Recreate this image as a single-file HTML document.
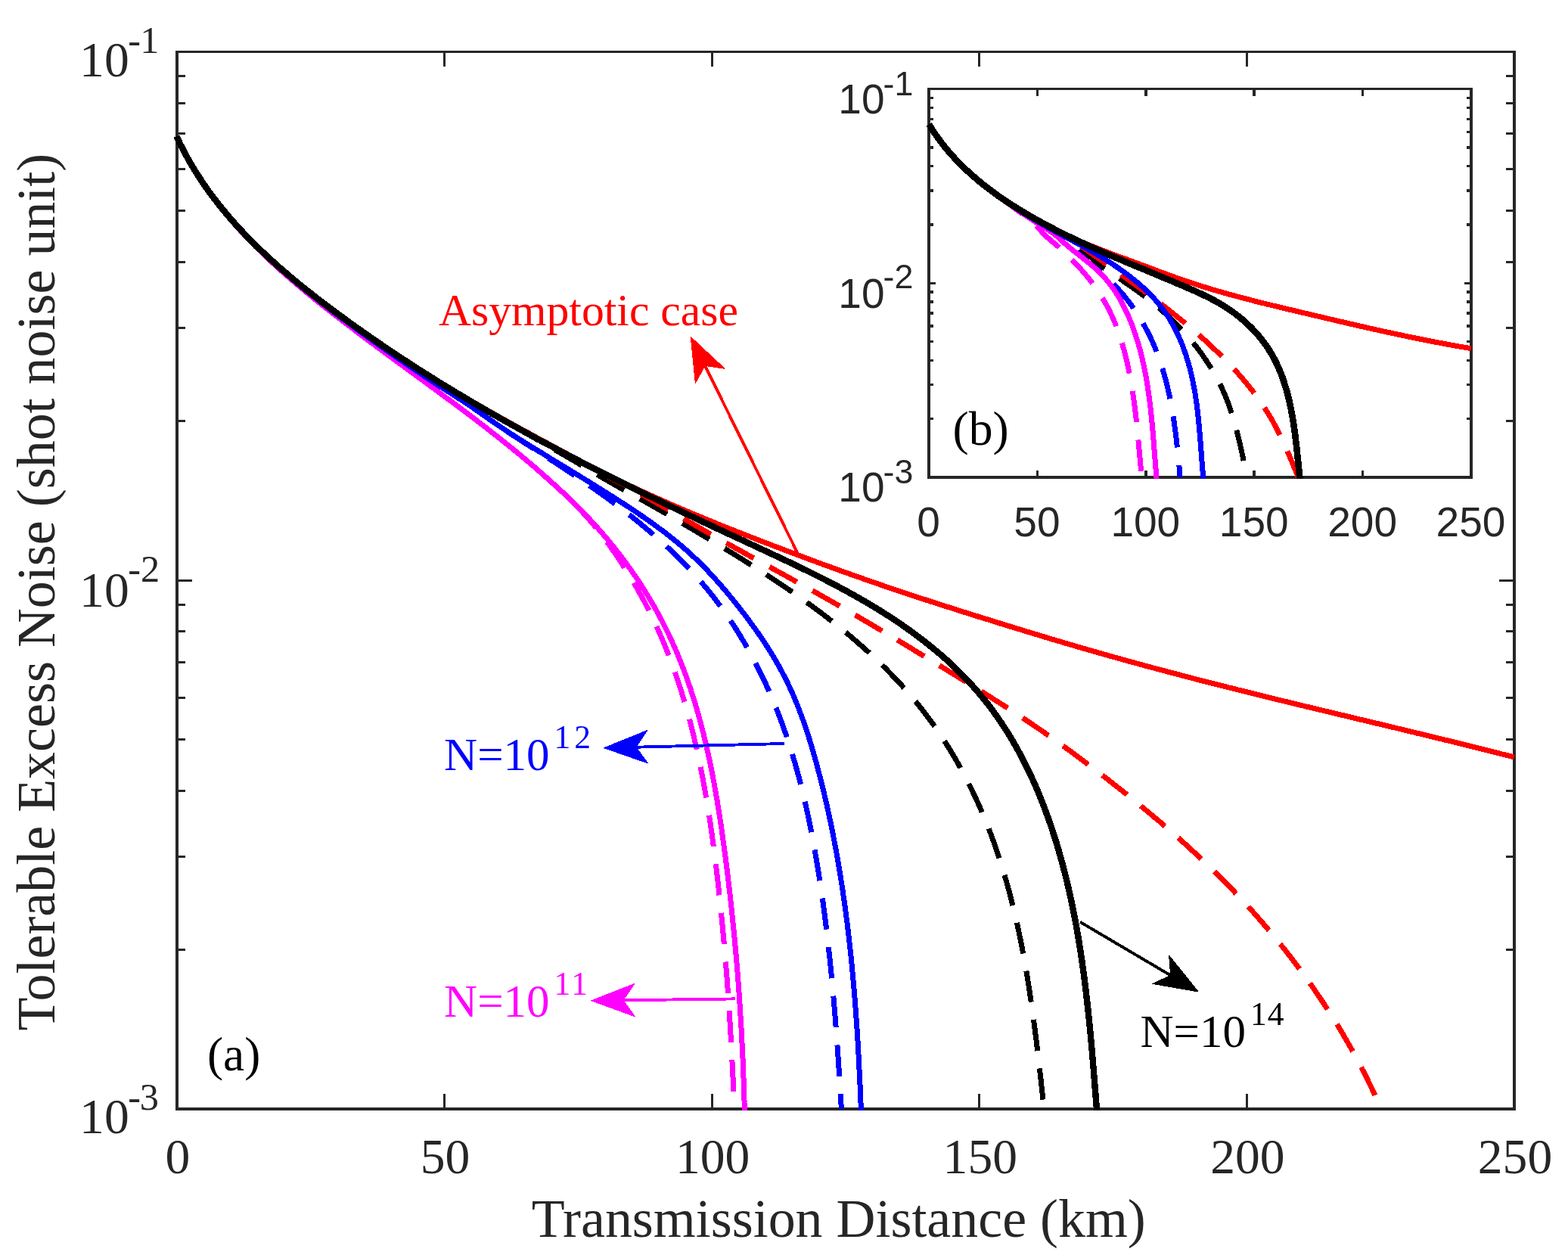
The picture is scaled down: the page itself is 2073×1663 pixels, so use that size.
<!DOCTYPE html><html><head><meta charset="utf-8"><title>Tolerable Excess Noise vs Transmission Distance</title><style>html,body{margin:0;padding:0;background:#fff}svg{display:block}text{white-space:pre}</style></head><body><svg width="2073" height="1663" viewBox="0 0 2073 1663"><defs><clipPath id="cm"><rect x="230.0" y="68.5" width="1772.5" height="1399.2"/></clipPath><clipPath id="ci"><rect x="1224.0" y="117.5" width="721.5" height="515.2"/></clipPath></defs><rect width="2073" height="1663" fill="#fff"/><g fill="#262626" shape-rendering="crispEdges"><rect x="232.00" y="67.00" width="1772.00" height="3.00"/><rect x="232.00" y="1464.00" width="1772.00" height="4.00"/><rect x="232.00" y="67.00" width="4.00" height="1401.00"/><rect x="2000.00" y="67.00" width="4.00" height="1401.00"/><rect x="586.10" y="1446.32" width="3.00" height="19.68"/><rect x="586.10" y="68.50" width="3.00" height="19.68"/><rect x="939.70" y="1446.32" width="3.00" height="19.68"/><rect x="939.70" y="68.50" width="3.00" height="19.68"/><rect x="1293.30" y="1446.32" width="3.00" height="19.68"/><rect x="1293.30" y="68.50" width="3.00" height="19.68"/><rect x="1646.90" y="1446.32" width="3.00" height="19.68"/><rect x="1646.90" y="68.50" width="3.00" height="19.68"/><rect x="234.00" y="1254.16" width="10.84" height="3.00"/><rect x="1991.16" y="1254.16" width="10.84" height="3.00"/><rect x="234.00" y="1131.11" width="10.84" height="3.00"/><rect x="1991.16" y="1131.11" width="10.84" height="3.00"/><rect x="234.00" y="1043.81" width="10.84" height="3.00"/><rect x="1991.16" y="1043.81" width="10.84" height="3.00"/><rect x="234.00" y="976.09" width="10.84" height="3.00"/><rect x="1991.16" y="976.09" width="10.84" height="3.00"/><rect x="234.00" y="920.77" width="10.84" height="3.00"/><rect x="1991.16" y="920.77" width="10.84" height="3.00"/><rect x="234.00" y="873.99" width="10.84" height="3.00"/><rect x="1991.16" y="873.99" width="10.84" height="3.00"/><rect x="234.00" y="833.47" width="10.84" height="3.00"/><rect x="1991.16" y="833.47" width="10.84" height="3.00"/><rect x="234.00" y="797.72" width="10.84" height="3.00"/><rect x="1991.16" y="797.72" width="10.84" height="3.00"/><rect x="234.00" y="765.75" width="19.68" height="3.00"/><rect x="1982.32" y="765.75" width="19.68" height="3.00"/><rect x="234.00" y="555.41" width="10.84" height="3.00"/><rect x="1991.16" y="555.41" width="10.84" height="3.00"/><rect x="234.00" y="432.36" width="10.84" height="3.00"/><rect x="1991.16" y="432.36" width="10.84" height="3.00"/><rect x="234.00" y="345.06" width="10.84" height="3.00"/><rect x="1991.16" y="345.06" width="10.84" height="3.00"/><rect x="234.00" y="277.34" width="10.84" height="3.00"/><rect x="1991.16" y="277.34" width="10.84" height="3.00"/><rect x="234.00" y="222.02" width="10.84" height="3.00"/><rect x="1991.16" y="222.02" width="10.84" height="3.00"/><rect x="234.00" y="175.24" width="10.84" height="3.00"/><rect x="1991.16" y="175.24" width="10.84" height="3.00"/><rect x="234.00" y="134.72" width="10.84" height="3.00"/><rect x="1991.16" y="134.72" width="10.84" height="3.00"/><rect x="234.00" y="98.97" width="10.84" height="3.00"/><rect x="1991.16" y="98.97" width="10.84" height="3.00"/></g><g shape-rendering="crispEdges"><g clip-path="url(#cm)" fill="none" stroke-width="7.0" stroke-linejoin="round"><path d="M233.4 180.1L234.3 182.0L235.1 183.8L236.0 185.6L236.8 187.4L237.7 189.3L238.6 191.1L239.5 192.9L240.4 194.7L241.3 196.4L242.2 198.2L243.1 200.0L244.1 201.8L245.0 203.6L246.0 205.3L246.9 207.1L247.9 208.8L248.8 210.6L249.8 212.3L250.8 214.1L251.8 215.8L252.8 217.6L253.8 219.3L254.9 221.0L255.9 222.7L256.9 224.4L258.0 226.1L259.0 227.8L260.1 229.5L261.1 231.2L262.2 232.9L263.3 234.6L264.4 236.3L265.5 238.0L266.6 239.6L267.7 241.3L268.8 243.0L269.9 244.6L271.0 246.3L272.2 247.9L273.3 249.6L274.5 251.2L275.6 252.8L276.8 254.5L278.0 256.1L279.1 257.7L280.3 259.3L281.5 260.9L282.7 262.5L283.9 264.1L285.1 265.7L286.3 267.3L287.5 268.9L288.8 270.5L290.0 272.1L291.2 273.6L292.5 275.2L293.7 276.8L295.0 278.3L296.3 279.9L297.5 281.4L298.8 283.0L300.1 284.5L301.4 286.1L302.6 287.6L303.9 289.1L305.2 290.6L306.5 292.2L307.9 293.7L309.2 295.2L310.5 296.7L311.8 298.2L313.1 299.7L314.5 301.2L315.8 302.7L317.2 304.2L318.5 305.6L319.9 307.1L321.2 308.6L322.6 310.1L324.0 311.5L325.3 313.0L326.7 314.4L328.1 315.9L329.5 317.3L330.9 318.8L332.3 320.2L333.7 321.7L335.1 323.1L336.5 324.5L337.9 325.9L339.3 327.3L340.7 328.8L342.2 330.2L343.6 331.6L345.0 333.0L346.5 334.4L347.9 335.8L349.3 337.2L350.8 338.5L352.2 339.9L353.7 341.3L355.2 342.7L356.6 344.0L358.1 345.4L359.5 346.8L361.0 348.1L362.5 349.5L364.0 350.8L365.5 352.2L366.9 353.5L368.4 354.9L369.9 356.2L371.4 357.5L372.9 358.9L374.4 360.2L375.9 361.5L377.4 362.8L378.9 364.2L380.4 365.5L381.9 366.8L383.4 368.1L385.0 369.4L386.5 370.7L388.0 372.0L389.5 373.3L391.1 374.6L392.6 375.9L394.1 377.2L395.6 378.5L397.2 379.8L398.7 381.0L400.3 382.3L401.8 383.6L403.3 384.9L404.9 386.1L406.4 387.4L408.0 388.7L409.5 389.9L411.1 391.2L412.6 392.5L414.2 393.7L415.8 395.0L417.3 396.3L418.9 397.5L420.4 398.8L422.0 400.0L423.6 401.3L425.1 402.5L426.7 403.8L428.3 405.0L429.8 406.2L431.4 407.5L433.0 408.7L434.6 410.0L436.1 411.2L437.7 412.4L439.3 413.7L440.9 414.9L442.4 416.1L444.0 417.4L445.6 418.6L447.2 419.8L448.8 421.0L450.4 422.3L451.9 423.5L453.5 424.7L455.1 425.9L456.7 427.2L458.3 428.4L459.9 429.6L461.5 430.8L463.1 432.0L464.7 433.2L466.3 434.4L467.9 435.6L469.5 436.9L471.1 438.1L472.6 439.3L474.2 440.5L475.8 441.7L477.4 442.9L479.1 444.1L480.7 445.3L482.3 446.5L483.9 447.7L485.5 448.9L487.1 450.1L488.7 451.3L490.3 452.5L491.9 453.7L493.5 454.9L495.1 456.1L496.7 457.3L498.3 458.5L499.9 459.6L501.5 460.8L503.2 462.0L504.8 463.2L506.4 464.4L508.0 465.6L509.6 466.8L511.2 468.0L512.8 469.2L514.4 470.3L516.1 471.5L517.7 472.7L519.3 473.9L520.9 475.1L522.5 476.3L524.1 477.5L525.7 478.6L527.4 479.8L529.0 481.0L530.6 482.2L532.2 483.4L533.8 484.6L535.4 485.7L537.1 486.9L538.7 488.1L540.3 489.3L541.9 490.5L543.5 491.6L545.1 492.8L546.8 494.0L548.4 495.2L550.0 496.4L551.6 497.5L553.2 498.7L554.8 499.9L556.5 501.1L558.1 502.3L559.7 503.5L561.3 504.6L562.9 505.8L564.5 507.0L566.2 508.2L567.8 509.4L569.4 510.6L571.0 511.7L572.6 512.9L574.2 514.1L575.8 515.3L577.5 516.5L579.1 517.7L580.7 518.9L582.3 520.0L583.9 521.2L585.5 522.4L587.1 523.6L588.7 524.8L590.4 526.0L592.0 527.2L593.6 528.4L595.2 529.6L596.8 530.8L598.4 532.0L600.0 533.2L601.6 534.4L603.2 535.6L604.8 536.7L606.4 537.9L608.0 539.1L609.6 540.3L611.2 541.5L612.8 542.8L614.4 544.0L616.0 545.2L617.6 546.4L619.2 547.6L620.8 548.8L622.4 550.0L624.0 551.2L625.6 552.4L627.2 553.6L628.8 554.8L630.4 556.1L632.0 557.3L633.6 558.5L635.2 559.7L636.7 560.9L638.3 562.2L639.9 563.4L641.5 564.6L643.1 565.8L644.7 567.1L646.2 568.3L647.8 569.5L649.4 570.7L651.0 572.0L652.5 573.2L654.1 574.5L655.7 575.7L657.3 576.9L658.8 578.2L660.4 579.4L662.0 580.7L663.5 581.9L665.1 583.2L666.7 584.4L668.2 585.7L669.8 586.9L671.4 588.2L672.9 589.4L674.5 590.7L676.0 592.0L677.6 593.2L679.1 594.5L680.7 595.8L682.2 597.0L683.8 598.3L685.3 599.6L686.9 600.9L688.4 602.1L689.9 603.4L691.5 604.7L693.0 606.0L694.6 607.3L696.1 608.6L697.6 609.9L699.1 611.2L700.7 612.5L702.2 613.7L703.7 615.1L705.2 616.4L706.8 617.7L708.3 619.0L709.8 620.3L711.3 621.6L712.8 622.9L714.3 624.2L715.8 625.5L717.3 626.9L718.8 628.2L720.3 629.5L721.8 630.9L723.3 632.2L724.8 633.5L726.3 634.9L727.8 636.2L729.3 637.6L730.7 638.9L732.2 640.2L733.7 641.6L735.2 643.0L736.6 644.3L738.1 645.7L739.6 647.0L741.0 648.4L742.5 649.8L744.0 651.2L745.4 652.5L746.9 653.9L748.3 655.3L749.8 656.7L751.2 658.1L752.6 659.5L754.1 660.9L755.5 662.3L756.9 663.7L758.4 665.1L759.8 666.5L761.2 667.9L762.6 669.3L764.0 670.7L765.4 672.2L766.8 673.6L768.2 675.1L769.6 676.5L770.9 678.0L772.3 679.4L773.7 680.9L775.0 682.4L776.3 683.9L777.7 685.4L779.0 686.9L780.3 688.4L781.6 689.9L782.9 691.4L784.2 692.9L785.4 694.5L786.7 696.0L788.0 697.6L789.2 699.1L790.5 700.7L791.7 702.2L792.9 703.8L794.2 705.4L795.4 707.0L796.6 708.6L797.8 710.2L799.0 711.8L800.2 713.4L801.4 715.0L802.6 716.6L803.7 718.2L804.9 719.8L806.1 721.5L807.2 723.1L808.4 724.7L809.6 726.4L810.7 728.0L811.8 729.7L813.0 731.3L814.1 733.0L815.3 734.7L816.4 736.3L817.5 738.0L818.6 739.7L819.7 741.4L820.8 743.1L821.9 744.7L823.0 746.4L824.1 748.1L825.2 749.8L826.3 751.5L827.4 753.2L828.5 754.9L829.5 756.6L830.6 758.4L831.7 760.1L832.7 761.8L833.8 763.5L834.8 765.3L835.8 767.0L836.9 768.7L837.9 770.5L838.9 772.2L839.9 773.9L841.0 775.7L842.0 777.4L843.0 779.2L844.0 780.9L844.9 782.7L845.9 784.4L846.9 786.2L847.9 788.0L848.8 789.7L849.8 791.5L850.7 793.3L851.7 795.0L852.6 796.8L853.5 798.6L854.5 800.4L855.4 802.2L856.3 803.9L857.2 805.7L858.1 807.5L859.0 809.3L859.9 811.1L860.8 812.9L861.7 814.7L862.5 816.5L863.4 818.3L864.3 820.1L865.1 821.9L866.0 823.7L866.8 825.5L867.6 827.4L868.5 829.2L869.3 831.0L870.1 832.8L870.9 834.6L871.7 836.5L872.5 838.3L873.3 840.1L874.1 842.0L874.9 843.8L875.7 845.6L876.5 847.5L877.3 849.3L878.0 851.2L878.8 853.0L879.5 854.8L880.3 856.7L881.0 858.5L881.8 860.4L882.5 862.3L883.2 864.1L884.0 866.0L884.7 867.8L885.4 869.7L886.1 871.6L886.8 873.4L887.5 875.3L888.2 877.2L888.9 879.0L889.6 880.9L890.2 882.8L890.9 884.7L891.6 886.5L892.2 888.4L892.9 890.3L893.6 892.2L894.2 894.1L894.8 896.0L895.5 897.8L896.1 899.7L896.7 901.6L897.4 903.5L898.0 905.4L898.6 907.3L899.2 909.2L899.8 911.1L900.4 913.0L901.0 914.9L901.6 916.8L902.2 918.7L902.8 920.6L903.4 922.5L903.9 924.5L904.5 926.4L905.1 928.3L905.6 930.2L906.2 932.1L906.8 934.0L907.3 936.0L907.9 937.9L908.4 939.8L908.9 941.7L909.5 943.7L910.0 945.6L910.5 947.5L911.0 949.4L911.6 951.4L912.1 953.3L912.6 955.2L913.1 957.2L913.6 959.1L914.1 961.0L914.6 963.0L915.1 964.9L915.5 966.9L916.0 968.8L916.5 970.7L917.0 972.7L917.5 974.6L917.9 976.6L918.4 978.5L918.8 980.5L919.3 982.4L919.7 984.4L920.2 986.3L920.6 988.3L921.1 990.2L921.5 992.2L922.0 994.2L922.4 996.1L922.8 998.1L923.2 1000.0L923.7 1002.0L924.1 1004.0L924.5 1005.9L924.9 1007.9L925.3 1009.8L925.7 1011.8L926.1 1013.8L926.5 1015.7L926.9 1017.7L927.3 1019.7L927.7 1021.6L928.1 1023.6L928.4 1025.6L928.8 1027.6L929.2 1029.5L929.6 1031.5L929.9 1033.5L930.3 1035.4L930.7 1037.4L931.0 1039.4L931.4 1041.4L931.7 1043.4L932.1 1045.3L932.4 1047.3L932.8 1049.3L933.1 1051.3L933.5 1053.3L933.8 1055.2L934.1 1057.2L934.5 1059.2L934.8 1061.2L935.1 1063.2L935.5 1065.1L935.8 1067.1L936.1 1069.1L936.4 1071.1L936.7 1073.1L937.0 1075.1L937.4 1077.1L937.7 1079.0L938.0 1081.0L938.3 1083.0L938.6 1085.0L938.9 1087.0L939.2 1089.0L939.5 1091.0L939.8 1093.0L940.0 1095.0L940.3 1096.9L940.6 1098.9L940.9 1100.9L941.2 1102.9L941.5 1104.9L941.7 1106.9L942.0 1108.9L942.3 1110.9L942.5 1112.9L942.8 1114.9L943.1 1116.9L943.3 1118.9L943.6 1120.8L943.9 1122.8L944.1 1124.8L944.4 1126.8L944.6 1128.8L944.9 1130.8L945.1 1132.8L945.4 1134.8L945.6 1136.8L945.9 1138.8L946.1 1140.8L946.4 1142.8L946.6 1144.8L946.9 1146.8L947.1 1148.8L947.3 1150.7L947.6 1152.7L947.8 1154.7L948.0 1156.7L948.3 1158.7L948.5 1160.7L948.7 1162.7L949.0 1164.7L949.2 1166.7L949.4 1168.7L949.6 1170.7L949.9 1172.7L950.1 1174.7L950.3 1176.6L950.5 1178.6L950.7 1180.6L950.9 1182.6L951.2 1184.6L951.4 1186.6L951.6 1188.6L951.8 1190.6L952.0 1192.6L952.2 1194.6L952.4 1196.6L952.6 1198.5L952.8 1200.5L953.0 1202.5L953.2 1204.5L953.4 1206.5L953.6 1208.5L953.8 1210.5L954.0 1212.5L954.2 1214.5L954.4 1216.5L954.6 1218.4L954.8 1220.4L955.0 1222.4L955.2 1224.4L955.4 1226.4L955.6 1228.4L955.7 1230.4L955.9 1232.4L956.1 1234.4L956.3 1236.3L956.5 1238.3L956.7 1240.3L956.8 1242.3L957.0 1244.3L957.2 1246.3L957.4 1248.3L957.5 1250.3L957.7 1252.3L957.9 1254.3L958.1 1256.2L958.2 1258.2L958.4 1260.2L958.6 1262.2L958.7 1264.2L958.9 1266.2L959.1 1268.2L959.2 1270.2L959.4 1272.2L959.6 1274.1L959.7 1276.1L959.9 1278.1L960.0 1280.1L960.2 1282.1L960.3 1284.1L960.5 1286.1L960.7 1288.1L960.8 1290.1L961.0 1292.1L961.1 1294.1L961.3 1296.0L961.4 1298.0L961.6 1300.0L961.7 1302.0L961.9 1304.0L962.0 1306.0L962.1 1308.0L962.3 1310.0L962.4 1312.0L962.6 1314.0L962.7 1316.0L962.8 1318.0L963.0 1319.9L963.1 1321.9L963.3 1323.9L963.4 1325.9L963.5 1327.9L963.7 1329.9L963.8 1331.9L963.9 1333.9L964.1 1335.9L964.2 1337.9L964.3 1339.9L964.4 1341.9L964.6 1343.9L964.7 1345.9L964.8 1347.9L964.9 1349.9L965.1 1351.9L965.2 1353.8L965.3 1355.8L965.4 1357.8L965.6 1359.8L965.7 1361.8L965.8 1363.8L965.9 1365.8L966.0 1367.8L966.1 1369.8L966.3 1371.8L966.4 1373.8L966.5 1375.8L966.6 1377.8L966.7 1379.8L966.8 1381.8L966.9 1383.8L967.0 1385.8L967.2 1387.8L967.3 1389.8L967.4 1391.8L967.5 1393.8L967.6 1395.8L967.7 1397.8L967.8 1399.8L967.9 1401.8L968.0 1403.8L968.1 1405.8L968.2 1407.8L968.3 1409.8L968.4 1411.8L968.5 1413.9L968.6 1415.9L968.7 1417.9L968.8 1419.9L968.9 1421.9L969.0 1423.9L969.1 1425.9L969.2 1427.9L969.3 1429.9L969.4 1431.9L969.5 1433.9L969.6 1435.9L969.6 1437.9L969.7 1440.0L969.8 1442.0L969.9 1444.0L970.0 1446.0L970.1 1448.0L970.2 1450.0L970.3 1452.0L970.4 1454.0L970.4 1456.0L970.5 1458.1L970.6 1460.1L970.7 1462.1L970.8 1464.1L970.9 1466.1" stroke="#ff00ff" stroke-dasharray="41.5 23.5" stroke-dashoffset="56.2"/><path d="M233.5 180.2L234.3 182.0L235.2 183.8L236.0 185.6L236.9 187.5L237.8 189.3L238.6 191.1L239.5 192.9L240.4 194.7L241.3 196.5L242.3 198.3L243.2 200.0L244.1 201.8L245.1 203.6L246.0 205.4L247.0 207.1L248.0 208.9L248.9 210.6L249.9 212.4L250.9 214.1L251.9 215.8L252.9 217.6L253.9 219.3L255.0 221.0L256.0 222.7L257.0 224.4L258.1 226.1L259.2 227.8L260.2 229.5L261.3 231.2L262.4 232.9L263.5 234.6L264.6 236.3L265.7 237.9L266.8 239.6L267.9 241.3L269.0 242.9L270.1 244.6L271.3 246.2L272.4 247.9L273.6 249.5L274.7 251.1L275.9 252.8L277.1 254.4L278.2 256.0L279.4 257.6L280.6 259.2L281.8 260.8L283.0 262.4L284.2 264.0L285.5 265.6L286.7 267.2L287.9 268.8L289.1 270.3L290.4 271.9L291.6 273.5L292.9 275.0L294.2 276.6L295.4 278.1L296.7 279.7L298.0 281.2L299.3 282.8L300.5 284.3L301.8 285.8L303.1 287.4L304.4 288.9L305.8 290.4L307.1 291.9L308.4 293.4L309.7 294.9L311.1 296.4L312.4 297.9L313.7 299.4L315.1 300.9L316.4 302.4L317.8 303.8L319.2 305.3L320.5 306.8L321.9 308.2L323.3 309.7L324.6 311.2L326.0 312.6L327.4 314.0L328.8 315.5L330.2 316.9L331.6 318.4L333.0 319.8L334.4 321.2L335.9 322.6L337.3 324.0L338.7 325.5L340.1 326.9L341.6 328.3L343.0 329.7L344.4 331.1L345.9 332.5L347.3 333.8L348.8 335.2L350.2 336.6L351.7 338.0L353.1 339.4L354.6 340.7L356.1 342.1L357.5 343.4L359.0 344.8L360.5 346.2L362.0 347.5L363.5 348.8L365.0 350.2L366.4 351.5L367.9 352.9L369.4 354.2L370.9 355.5L372.4 356.8L373.9 358.2L375.4 359.5L377.0 360.8L378.5 362.1L380.0 363.4L381.5 364.7L383.0 366.0L384.6 367.3L386.1 368.6L387.6 369.9L389.2 371.2L390.7 372.5L392.2 373.8L393.8 375.0L395.3 376.3L396.9 377.6L398.4 378.8L400.0 380.1L401.5 381.4L403.1 382.6L404.6 383.9L406.2 385.2L407.7 386.4L409.3 387.7L410.9 388.9L412.4 390.2L414.0 391.4L415.6 392.7L417.1 393.9L418.7 395.1L420.3 396.4L421.9 397.6L423.5 398.8L425.0 400.1L426.6 401.3L428.2 402.5L429.8 403.7L431.4 405.0L433.0 406.2L434.6 407.4L436.2 408.6L437.8 409.8L439.3 411.0L440.9 412.2L442.5 413.5L444.1 414.7L445.7 415.9L447.3 417.1L449.0 418.3L450.6 419.5L452.2 420.7L453.8 421.9L455.4 423.1L457.0 424.2L458.6 425.4L460.2 426.6L461.8 427.8L463.5 429.0L465.1 430.2L466.7 431.4L468.3 432.5L469.9 433.7L471.5 434.9L473.2 436.1L474.8 437.3L476.4 438.4L478.0 439.6L479.7 440.8L481.3 441.9L482.9 443.1L484.6 444.3L486.2 445.4L487.8 446.6L489.4 447.8L491.1 448.9L492.7 450.1L494.3 451.3L496.0 452.4L497.6 453.6L499.2 454.7L500.9 455.9L502.5 457.0L504.2 458.2L505.8 459.4L507.4 460.5L509.1 461.7L510.7 462.8L512.4 464.0L514.0 465.1L515.6 466.3L517.3 467.4L518.9 468.5L520.6 469.7L522.2 470.8L523.9 472.0L525.5 473.1L527.2 474.3L528.8 475.4L530.4 476.5L532.1 477.7L533.7 478.8L535.4 479.9L537.1 481.1L538.7 482.2L540.4 483.3L542.0 484.4L543.7 485.6L545.3 486.7L547.0 487.8L548.7 488.9L550.3 490.1L552.0 491.2L553.6 492.3L555.3 493.4L557.0 494.5L558.6 495.7L560.3 496.8L562.0 497.9L563.6 499.0L565.3 500.1L567.0 501.2L568.7 502.3L570.3 503.4L572.0 504.5L573.7 505.6L575.4 506.7L577.1 507.8L578.7 508.8L580.4 509.9L582.1 511.0L583.8 512.1L585.5 513.2L587.2 514.2L588.9 515.3L590.5 516.4L592.2 517.5L593.9 518.6L595.6 519.6L597.3 520.7L599.0 521.8L600.7 522.9L602.4 524.0L604.0 525.1L605.7 526.1L607.4 527.2L609.1 528.3L610.8 529.4L612.4 530.5L614.1 531.6L615.8 532.7L617.4 533.8L619.1 535.0L620.8 536.1L622.4 537.2L624.1 538.3L625.7 539.5L627.4 540.6L629.0 541.7L630.7 542.9L632.3 544.0L634.0 545.2L635.6 546.3L637.3 547.5L638.9 548.6L640.5 549.7L642.2 550.9L643.8 552.0L645.5 553.2L647.1 554.3L648.8 555.5L650.4 556.6L652.1 557.8L653.7 558.9L655.4 560.0L657.0 561.2L658.7 562.3L660.3 563.4L662.0 564.6L663.6 565.7L665.3 566.8L666.9 567.9L668.6 569.0L670.3 570.2L671.9 571.3L673.6 572.4L675.3 573.5L676.9 574.6L678.6 575.7L680.3 576.8L682.0 577.9L683.6 579.0L685.3 580.1L687.0 581.2L688.7 582.3L690.4 583.4L692.0 584.5L693.7 585.6L695.4 586.6L697.1 587.7L698.8 588.8L700.4 589.9L702.1 591.0L703.8 592.1L705.5 593.2L707.2 594.2L708.9 595.3L710.6 596.4L712.2 597.5L713.9 598.6L715.6 599.7L717.3 600.8L719.0 601.8L720.7 602.9L722.4 604.0L724.0 605.1L725.7 606.2L727.4 607.3L729.1 608.4L730.8 609.4L732.5 610.5L734.1 611.6L735.8 612.7L737.5 613.8L739.2 614.9L740.8 616.0L742.5 617.1L744.2 618.2L745.9 619.3L747.5 620.4L749.2 621.5L750.9 622.6L752.6 623.7L754.2 624.8L755.9 625.9L757.6 627.0L759.2 628.2L760.9 629.3L762.5 630.4L764.2 631.5L765.9 632.6L767.5 633.8L769.2 634.9L770.8 636.0L772.5 637.1L774.1 638.3L775.8 639.4L777.4 640.6L779.1 641.7L780.7 642.8L782.4 644.0L784.0 645.1L785.7 646.3L787.3 647.4L788.9 648.6L790.6 649.8L792.2 650.9L793.9 652.1L795.5 653.3L797.1 654.4L798.8 655.6L800.4 656.8L802.0 657.9L803.6 659.1L805.3 660.3L806.9 661.5L808.5 662.7L810.1 663.9L811.7 665.1L813.3 666.3L814.9 667.5L816.5 668.7L818.2 669.9L819.8 671.1L821.4 672.3L823.0 673.6L824.5 674.8L826.1 676.0L827.7 677.2L829.3 678.5L830.9 679.7L832.5 680.9L834.1 682.2L835.6 683.4L837.2 684.7L838.8 685.9L840.3 687.2L841.9 688.4L843.5 689.7L845.0 691.0L846.6 692.2L848.1 693.5L849.7 694.8L851.2 696.1L852.8 697.3L854.3 698.6L855.8 699.9L857.4 701.2L858.9 702.5L860.4 703.8L861.9 705.1L863.5 706.4L865.0 707.7L866.5 709.1L868.0 710.4L869.5 711.7L871.0 713.0L872.5 714.4L874.0 715.7L875.5 717.1L876.9 718.4L878.4 719.8L879.9 721.1L881.4 722.5L882.8 723.8L884.3 725.2L885.8 726.6L887.2 727.9L888.7 729.3L890.1 730.7L891.5 732.1L893.0 733.5L894.4 734.9L895.8 736.3L897.2 737.7L898.7 739.1L900.1 740.5L901.5 741.9L902.9 743.3L904.3 744.8L905.7 746.2L907.1 747.6L908.4 749.1L909.8 750.5L911.2 752.0L912.6 753.4L913.9 754.9L915.3 756.4L916.6 757.8L918.0 759.3L919.3 760.8L920.6 762.3L922.0 763.8L923.3 765.2L924.6 766.7L925.9 768.2L927.2 769.8L928.5 771.3L929.8 772.8L931.1 774.3L932.4 775.8L933.7 777.4L935.0 778.9L936.2 780.5L937.5 782.0L938.7 783.6L940.0 785.1L941.2 786.7L942.5 788.2L943.7 789.8L944.9 791.4L946.1 793.0L947.3 794.6L948.6 796.2L949.8 797.8L950.9 799.4L952.1 801.0L953.3 802.6L954.5 804.2L955.7 805.8L956.8 807.5L958.0 809.1L959.1 810.7L960.3 812.4L961.4 814.0L962.6 815.7L963.7 817.3L964.8 819.0L965.9 820.6L967.0 822.3L968.1 824.0L969.2 825.7L970.3 827.3L971.4 829.0L972.5 830.7L973.6 832.4L974.6 834.1L975.7 835.8L976.8 837.5L977.8 839.2L978.9 840.9L979.9 842.6L980.9 844.4L982.0 846.1L983.0 847.8L984.0 849.5L985.0 851.3L986.0 853.0L987.0 854.8L988.0 856.5L989.0 858.2L990.0 860.0L991.0 861.8L991.9 863.5L992.9 865.3L993.9 867.0L994.8 868.8L995.8 870.6L996.7 872.4L997.6 874.1L998.6 875.9L999.5 877.7L1000.4 879.5L1001.3 881.3L1002.2 883.1L1003.1 884.9L1004.0 886.7L1004.9 888.5L1005.8 890.3L1006.7 892.1L1007.6 893.9L1008.4 895.7L1009.3 897.5L1010.2 899.4L1011.0 901.2L1011.9 903.0L1012.7 904.8L1013.5 906.7L1014.4 908.5L1015.2 910.3L1016.0 912.2L1016.8 914.0L1017.6 915.9L1018.4 917.7L1019.2 919.5L1020.0 921.4L1020.8 923.2L1021.6 925.1L1022.4 927.0L1023.1 928.8L1023.9 930.7L1024.7 932.5L1025.4 934.4L1026.2 936.3L1026.9 938.1L1027.7 940.0L1028.4 941.9L1029.1 943.7L1029.8 945.6L1030.6 947.5L1031.3 949.4L1032.0 951.3L1032.7 953.1L1033.4 955.0L1034.1 956.9L1034.8 958.8L1035.4 960.7L1036.1 962.6L1036.8 964.4L1037.4 966.3L1038.1 968.2L1038.8 970.1L1039.4 972.0L1040.0 973.9L1040.7 975.8L1041.3 977.7L1041.9 979.6L1042.6 981.5L1043.2 983.4L1043.8 985.3L1044.4 987.2L1045.0 989.2L1045.6 991.1L1046.2 993.0L1046.8 994.9L1047.4 996.8L1048.0 998.7L1048.6 1000.6L1049.1 1002.5L1049.7 1004.5L1050.3 1006.4L1050.8 1008.3L1051.4 1010.2L1051.9 1012.2L1052.5 1014.1L1053.0 1016.0L1053.6 1017.9L1054.1 1019.9L1054.6 1021.8L1055.1 1023.7L1055.7 1025.6L1056.2 1027.6L1056.7 1029.5L1057.2 1031.5L1057.7 1033.4L1058.2 1035.3L1058.7 1037.3L1059.2 1039.2L1059.7 1041.1L1060.2 1043.1L1060.6 1045.0L1061.1 1047.0L1061.6 1048.9L1062.1 1050.9L1062.5 1052.8L1063.0 1054.7L1063.5 1056.7L1063.9 1058.6L1064.4 1060.6L1064.8 1062.5L1065.3 1064.5L1065.7 1066.4L1066.1 1068.4L1066.6 1070.4L1067.0 1072.3L1067.4 1074.3L1067.8 1076.2L1068.3 1078.2L1068.7 1080.1L1069.1 1082.1L1069.5 1084.1L1069.9 1086.0L1070.3 1088.0L1070.7 1089.9L1071.1 1091.9L1071.5 1093.9L1071.9 1095.8L1072.3 1097.8L1072.7 1099.7L1073.1 1101.7L1073.4 1103.7L1073.8 1105.6L1074.2 1107.6L1074.6 1109.6L1074.9 1111.5L1075.3 1113.5L1075.7 1115.5L1076.0 1117.5L1076.4 1119.4L1076.7 1121.4L1077.1 1123.4L1077.4 1125.3L1077.8 1127.3L1078.1 1129.3L1078.5 1131.3L1078.8 1133.2L1079.2 1135.2L1079.5 1137.2L1079.8 1139.2L1080.2 1141.1L1080.5 1143.1L1080.8 1145.1L1081.1 1147.1L1081.5 1149.0L1081.8 1151.0L1082.1 1153.0L1082.4 1155.0L1082.7 1157.0L1083.0 1158.9L1083.3 1160.9L1083.6 1162.9L1083.9 1164.9L1084.2 1166.9L1084.5 1168.8L1084.8 1170.8L1085.1 1172.8L1085.4 1174.8L1085.7 1176.8L1086.0 1178.7L1086.3 1180.7L1086.6 1182.7L1086.9 1184.7L1087.1 1186.7L1087.4 1188.7L1087.7 1190.6L1088.0 1192.6L1088.3 1194.6L1088.5 1196.6L1088.8 1198.6L1089.1 1200.6L1089.3 1202.6L1089.6 1204.5L1089.9 1206.5L1090.1 1208.5L1090.4 1210.5L1090.6 1212.5L1090.9 1214.5L1091.1 1216.5L1091.4 1218.5L1091.6 1220.4L1091.9 1222.4L1092.1 1224.4L1092.4 1226.4L1092.6 1228.4L1092.9 1230.4L1093.1 1232.4L1093.3 1234.4L1093.6 1236.4L1093.8 1238.3L1094.0 1240.3L1094.3 1242.3L1094.5 1244.3L1094.7 1246.3L1094.9 1248.3L1095.2 1250.3L1095.4 1252.3L1095.6 1254.3L1095.8 1256.3L1096.0 1258.3L1096.3 1260.3L1096.5 1262.3L1096.7 1264.2L1096.9 1266.2L1097.1 1268.2L1097.3 1270.2L1097.5 1272.2L1097.7 1274.2L1097.9 1276.2L1098.1 1278.2L1098.3 1280.2L1098.5 1282.2L1098.7 1284.2L1098.9 1286.2L1099.1 1288.2L1099.3 1290.2L1099.5 1292.2L1099.7 1294.2L1099.9 1296.2L1100.1 1298.2L1100.3 1300.2L1100.4 1302.1L1100.6 1304.1L1100.8 1306.1L1101.0 1308.1L1101.2 1310.1L1101.4 1312.1L1101.5 1314.1L1101.7 1316.1L1101.9 1318.1L1102.1 1320.1L1102.2 1322.1L1102.4 1324.1L1102.6 1326.1L1102.7 1328.1L1102.9 1330.1L1103.1 1332.1L1103.2 1334.1L1103.4 1336.1L1103.6 1338.1L1103.7 1340.1L1103.9 1342.1L1104.1 1344.1L1104.2 1346.1L1104.4 1348.1L1104.5 1350.1L1104.7 1352.1L1104.9 1354.1L1105.0 1356.1L1105.2 1358.1L1105.3 1360.1L1105.5 1362.1L1105.6 1364.1L1105.8 1366.1L1105.9 1368.1L1106.1 1370.1L1106.2 1372.1L1106.4 1374.1L1106.5 1376.1L1106.7 1378.1L1106.8 1380.1L1106.9 1382.1L1107.1 1384.1L1107.2 1386.1L1107.4 1388.1L1107.5 1390.1L1107.6 1392.1L1107.8 1394.1L1107.9 1396.1L1108.1 1398.1L1108.2 1400.1L1108.3 1402.1L1108.5 1404.1L1108.6 1406.1L1108.7 1408.1L1108.9 1410.1L1109.0 1412.0L1109.1 1414.0L1109.3 1416.0L1109.4 1418.0L1109.5 1420.0L1109.7 1422.0L1109.8 1424.0L1109.9 1426.0L1110.0 1428.0L1110.2 1430.0L1110.3 1432.0L1110.4 1434.0L1110.6 1436.0L1110.7 1438.0L1110.8 1440.0L1110.9 1442.0L1111.1 1444.0L1111.2 1446.0L1111.3 1448.0L1111.4 1450.0L1111.5 1452.0L1111.7 1454.0L1111.8 1456.0L1111.9 1458.0L1112.0 1460.0L1112.2 1462.0L1112.3 1464.0L1112.4 1466.0" stroke="#0000ff" stroke-dasharray="41.5 23.5" stroke-dashoffset="56.3"/><path d="M233.5 180.3L234.3 182.1L235.2 183.9L236.0 185.7L236.9 187.5L237.8 189.3L238.7 191.1L239.5 192.9L240.5 194.7L241.4 196.5L242.3 198.3L243.2 200.1L244.1 201.8L245.1 203.6L246.0 205.3L247.0 207.1L248.0 208.9L249.0 210.6L249.9 212.4L250.9 214.1L252.0 215.8L253.0 217.6L254.0 219.3L255.0 221.0L256.0 222.7L257.1 224.4L258.1 226.1L259.2 227.8L260.3 229.5L261.3 231.2L262.4 232.9L263.5 234.6L264.6 236.3L265.7 237.9L266.8 239.6L268.0 241.3L269.1 242.9L270.2 244.6L271.4 246.2L272.5 247.9L273.7 249.5L274.8 251.1L276.0 252.8L277.2 254.4L278.4 256.0L279.5 257.6L280.7 259.2L281.9 260.8L283.2 262.4L284.4 264.0L285.6 265.6L286.8 267.2L288.1 268.8L289.3 270.3L290.5 271.9L291.8 273.5L293.0 275.0L294.3 276.6L295.6 278.1L296.9 279.7L298.1 281.2L299.4 282.7L300.7 284.3L302.0 285.8L303.3 287.3L304.6 288.8L306.0 290.3L307.3 291.9L308.6 293.4L309.9 294.9L311.3 296.3L312.6 297.8L314.0 299.3L315.3 300.8L316.7 302.3L318.0 303.7L319.4 305.2L320.8 306.7L322.1 308.1L323.5 309.6L324.9 311.0L326.3 312.5L327.7 313.9L329.1 315.3L330.5 316.8L331.9 318.2L333.3 319.6L334.7 321.0L336.2 322.4L337.6 323.9L339.0 325.3L340.5 326.7L341.9 328.1L343.3 329.4L344.8 330.8L346.2 332.2L347.7 333.6L349.1 335.0L350.6 336.3L352.1 337.7L353.5 339.1L355.0 340.4L356.5 341.8L358.0 343.1L359.4 344.5L360.9 345.8L362.4 347.2L363.9 348.5L365.4 349.8L366.9 351.2L368.4 352.5L369.9 353.8L371.4 355.1L372.9 356.5L374.5 357.8L376.0 359.1L377.5 360.4L379.0 361.7L380.5 363.0L382.1 364.3L383.6 365.6L385.1 366.9L386.7 368.1L388.2 369.4L389.8 370.7L391.3 372.0L392.8 373.2L394.4 374.5L395.9 375.8L397.5 377.0L399.1 378.3L400.6 379.6L402.2 380.8L403.7 382.1L405.3 383.3L406.9 384.6L408.4 385.8L410.0 387.1L411.6 388.3L413.2 389.5L414.8 390.8L416.3 392.0L417.9 393.2L419.5 394.5L421.1 395.7L422.7 396.9L424.3 398.1L425.8 399.4L427.4 400.6L429.0 401.8L430.6 403.0L432.2 404.2L433.8 405.4L435.4 406.6L437.0 407.8L438.6 409.0L440.2 410.2L441.8 411.4L443.5 412.6L445.1 413.8L446.7 415.0L448.3 416.2L449.9 417.4L451.5 418.6L453.1 419.8L454.7 420.9L456.4 422.1L458.0 423.3L459.6 424.5L461.2 425.6L462.9 426.8L464.5 428.0L466.1 429.2L467.7 430.3L469.4 431.5L471.0 432.6L472.6 433.8L474.3 435.0L475.9 436.1L477.6 437.3L479.2 438.4L480.8 439.6L482.5 440.7L484.1 441.9L485.8 443.0L487.4 444.2L489.0 445.3L490.7 446.5L492.3 447.6L494.0 448.7L495.6 449.9L497.3 451.0L499.0 452.1L500.6 453.3L502.3 454.4L503.9 455.5L505.6 456.6L507.2 457.8L508.9 458.9L510.6 460.0L512.2 461.1L513.9 462.3L515.5 463.4L517.2 464.5L518.9 465.6L520.5 466.7L522.2 467.8L523.9 468.9L525.5 470.0L527.2 471.1L528.9 472.2L530.6 473.3L532.2 474.4L533.9 475.5L535.6 476.6L537.3 477.7L539.0 478.8L540.6 479.9L542.3 481.0L544.0 482.1L545.7 483.2L547.4 484.3L549.0 485.4L550.7 486.4L552.4 487.5L554.1 488.6L555.8 489.7L557.5 490.8L559.2 491.8L560.9 492.9L562.6 494.0L564.3 495.0L566.0 496.1L567.7 497.2L569.4 498.2L571.0 499.3L572.7 500.4L574.4 501.4L576.2 502.5L577.9 503.5L579.6 504.6L581.3 505.7L583.0 506.7L584.7 507.8L586.4 508.8L588.1 509.9L589.8 510.9L591.5 511.9L593.2 513.0L594.9 514.0L596.6 515.1L598.4 516.1L600.1 517.1L601.8 518.2L603.5 519.2L605.2 520.2L606.9 521.3L608.7 522.3L610.4 523.3L612.1 524.4L613.8 525.4L615.5 526.4L617.3 527.4L619.0 528.4L620.7 529.5L622.4 530.5L624.2 531.5L625.9 532.5L627.6 533.5L629.4 534.5L631.1 535.5L632.8 536.6L634.6 537.6L636.3 538.6L638.0 539.6L639.8 540.6L641.5 541.6L643.2 542.6L645.0 543.6L646.7 544.6L648.4 545.6L650.2 546.6L651.9 547.6L653.6 548.6L655.4 549.6L657.1 550.6L658.9 551.6L660.6 552.6L662.3 553.6L664.1 554.6L665.8 555.6L667.5 556.6L669.3 557.6L671.0 558.6L672.7 559.6L674.5 560.6L676.2 561.6L677.9 562.6L679.7 563.6L681.4 564.6L683.2 565.6L684.9 566.6L686.6 567.6L688.4 568.6L690.1 569.6L691.8 570.6L693.6 571.6L695.3 572.6L697.0 573.6L698.8 574.6L700.5 575.6L702.3 576.6L704.0 577.6L705.7 578.6L707.5 579.6L709.2 580.6L710.9 581.6L712.7 582.6L714.4 583.6L716.2 584.6L717.9 585.6L719.6 586.6L721.4 587.6L723.1 588.6L724.9 589.6L726.6 590.6L728.3 591.5L730.1 592.5L731.8 593.5L733.6 594.5L735.3 595.5L737.0 596.5L738.8 597.5L740.5 598.5L742.2 599.5L744.0 600.5L745.7 601.5L747.4 602.5L749.2 603.5L750.9 604.5L752.6 605.6L754.4 606.6L756.1 607.6L757.8 608.6L759.6 609.6L761.3 610.6L763.0 611.6L764.7 612.6L766.5 613.7L768.2 614.7L769.9 615.7L771.6 616.7L773.4 617.8L775.1 618.8L776.8 619.8L778.5 620.8L780.3 621.9L782.0 622.9L783.7 623.9L785.4 624.9L787.1 626.0L788.9 627.0L790.6 628.0L792.3 629.0L794.0 630.0L795.8 631.1L797.5 632.1L799.2 633.1L801.0 634.1L802.7 635.1L804.4 636.1L806.2 637.1L807.9 638.1L809.6 639.1L811.4 640.1L813.1 641.1L814.8 642.1L816.6 643.1L818.3 644.0L820.1 645.0L821.8 646.0L823.6 647.0L825.3 648.0L827.1 648.9L828.8 649.9L830.6 650.9L832.3 651.9L834.1 652.8L835.8 653.8L837.6 654.8L839.3 655.7L841.1 656.7L842.8 657.7L844.6 658.7L846.3 659.6L848.1 660.6L849.8 661.6L851.6 662.6L853.3 663.5L855.1 664.5L856.8 665.5L858.5 666.5L860.3 667.5L862.0 668.5L863.8 669.4L865.5 670.4L867.3 671.4L869.0 672.4L870.8 673.4L872.5 674.4L874.2 675.4L876.0 676.4L877.7 677.4L879.4 678.4L881.2 679.4L882.9 680.4L884.7 681.4L886.4 682.4L888.1 683.5L889.9 684.5L891.6 685.5L893.3 686.5L895.0 687.5L896.8 688.5L898.5 689.5L900.2 690.6L902.0 691.6L903.7 692.6L905.4 693.6L907.1 694.6L908.9 695.7L910.6 696.7L912.3 697.7L914.0 698.7L915.8 699.8L917.5 700.8L919.2 701.8L920.9 702.8L922.7 703.9L924.4 704.9L926.1 705.9L927.8 706.9L929.5 708.0L931.3 709.0L933.0 710.0L934.7 711.0L936.4 712.1L938.1 713.1L939.9 714.1L941.6 715.2L943.3 716.2L945.0 717.2L946.7 718.3L948.4 719.3L950.2 720.3L951.9 721.4L953.6 722.4L955.3 723.5L957.0 724.5L958.7 725.5L960.4 726.6L962.1 727.6L963.8 728.7L965.5 729.7L967.2 730.8L969.0 731.8L970.7 732.8L972.4 733.9L974.1 734.9L975.8 736.0L977.5 737.1L979.2 738.1L980.9 739.2L982.6 740.2L984.3 741.3L986.0 742.3L987.6 743.4L989.3 744.5L991.0 745.5L992.7 746.6L994.4 747.7L996.1 748.7L997.8 749.8L999.5 750.9L1001.2 752.0L1002.8 753.0L1004.5 754.1L1006.2 755.2L1007.9 756.3L1009.6 757.4L1011.2 758.5L1012.9 759.5L1014.6 760.6L1016.3 761.7L1017.9 762.8L1019.6 763.9L1021.3 765.0L1023.0 766.1L1024.6 767.2L1026.3 768.3L1028.0 769.4L1029.6 770.6L1031.3 771.7L1032.9 772.8L1034.6 773.9L1036.3 775.0L1037.9 776.1L1039.6 777.3L1041.2 778.4L1042.9 779.5L1044.5 780.7L1046.2 781.8L1047.8 782.9L1049.4 784.1L1051.1 785.2L1052.7 786.4L1054.4 787.5L1056.0 788.7L1057.6 789.8L1059.3 791.0L1060.9 792.1L1062.5 793.3L1064.2 794.5L1065.8 795.6L1067.4 796.8L1069.0 798.0L1070.7 799.2L1072.3 800.4L1073.9 801.5L1075.5 802.7L1077.1 803.9L1078.7 805.1L1080.3 806.3L1082.0 807.5L1083.6 808.7L1085.2 809.9L1086.8 811.1L1088.4 812.3L1090.0 813.6L1091.5 814.8L1093.1 816.0L1094.7 817.2L1096.3 818.5L1097.9 819.7L1099.5 820.9L1101.1 822.2L1102.6 823.4L1104.2 824.7L1105.8 825.9L1107.4 827.2L1108.9 828.4L1110.5 829.7L1112.1 831.0L1113.6 832.2L1115.2 833.5L1116.7 834.8L1118.3 836.1L1119.8 837.4L1121.4 838.7L1122.9 839.9L1124.4 841.2L1126.0 842.5L1127.5 843.8L1129.0 845.1L1130.6 846.5L1132.1 847.8L1133.6 849.1L1135.1 850.4L1136.6 851.7L1138.1 853.1L1139.7 854.4L1141.2 855.7L1142.7 857.1L1144.1 858.4L1145.6 859.8L1147.1 861.1L1148.6 862.5L1150.1 863.8L1151.6 865.2L1153.0 866.6L1154.5 867.9L1156.0 869.3L1157.4 870.7L1158.9 872.1L1160.3 873.5L1161.8 874.9L1163.2 876.2L1164.7 877.6L1166.1 879.1L1167.5 880.5L1169.0 881.9L1170.4 883.3L1171.8 884.7L1173.2 886.1L1174.6 887.6L1176.0 889.0L1177.4 890.4L1178.8 891.9L1180.2 893.3L1181.6 894.8L1183.0 896.2L1184.4 897.7L1185.7 899.1L1187.1 900.6L1188.5 902.1L1189.8 903.5L1191.2 905.0L1192.5 906.5L1193.9 908.0L1195.2 909.5L1196.5 911.0L1197.9 912.5L1199.2 914.0L1200.5 915.5L1201.8 917.0L1203.1 918.5L1204.4 920.0L1205.7 921.5L1207.0 923.1L1208.3 924.6L1209.6 926.2L1210.9 927.7L1212.1 929.2L1213.4 930.8L1214.6 932.4L1215.9 933.9L1217.1 935.5L1218.4 937.0L1219.6 938.6L1220.8 940.2L1222.1 941.8L1223.3 943.4L1224.5 945.0L1225.7 946.6L1226.9 948.2L1228.1 949.8L1229.3 951.4L1230.5 953.0L1231.6 954.6L1232.8 956.2L1234.0 957.9L1235.1 959.5L1236.3 961.1L1237.4 962.8L1238.5 964.4L1239.7 966.1L1240.8 967.7L1241.9 969.4L1243.0 971.0L1244.2 972.7L1245.3 974.4L1246.4 976.0L1247.5 977.7L1248.5 979.4L1249.6 981.1L1250.7 982.8L1251.8 984.5L1252.8 986.2L1253.9 987.9L1254.9 989.6L1256.0 991.3L1257.0 993.0L1258.1 994.7L1259.1 996.4L1260.1 998.1L1261.1 999.9L1262.2 1001.6L1263.2 1003.3L1264.2 1005.1L1265.2 1006.8L1266.1 1008.5L1267.1 1010.3L1268.1 1012.0L1269.1 1013.8L1270.0 1015.5L1271.0 1017.3L1272.0 1019.1L1272.9 1020.8L1273.9 1022.6L1274.8 1024.4L1275.7 1026.1L1276.7 1027.9L1277.6 1029.7L1278.5 1031.5L1279.4 1033.3L1280.3 1035.1L1281.2 1036.9L1282.1 1038.7L1283.0 1040.5L1283.9 1042.3L1284.8 1044.1L1285.7 1045.9L1286.5 1047.7L1287.4 1049.5L1288.2 1051.3L1289.1 1053.1L1289.9 1054.9L1290.8 1056.8L1291.6 1058.6L1292.4 1060.4L1293.3 1062.2L1294.1 1064.1L1294.9 1065.9L1295.7 1067.7L1296.5 1069.6L1297.3 1071.4L1298.1 1073.3L1298.9 1075.1L1299.7 1077.0L1300.5 1078.8L1301.2 1080.7L1302.0 1082.5L1302.8 1084.4L1303.5 1086.2L1304.3 1088.1L1305.0 1090.0L1305.7 1091.8L1306.5 1093.7L1307.2 1095.6L1307.9 1097.4L1308.7 1099.3L1309.4 1101.2L1310.1 1103.0L1310.8 1104.9L1311.5 1106.8L1312.2 1108.7L1312.9 1110.6L1313.5 1112.4L1314.2 1114.3L1314.9 1116.2L1315.6 1118.1L1316.2 1120.0L1316.9 1121.9L1317.5 1123.8L1318.2 1125.7L1318.8 1127.6L1319.5 1129.5L1320.1 1131.4L1320.7 1133.3L1321.4 1135.2L1322.0 1137.1L1322.6 1139.0L1323.2 1140.9L1323.8 1142.8L1324.4 1144.7L1325.0 1146.6L1325.6 1148.5L1326.2 1150.5L1326.8 1152.4L1327.3 1154.3L1327.9 1156.2L1328.5 1158.1L1329.0 1160.0L1329.6 1162.0L1330.1 1163.9L1330.7 1165.8L1331.2 1167.7L1331.8 1169.7L1332.3 1171.6L1332.8 1173.5L1333.4 1175.4L1333.9 1177.4L1334.4 1179.3L1334.9 1181.2L1335.4 1183.2L1336.0 1185.1L1336.5 1187.1L1337.0 1189.0L1337.5 1190.9L1337.9 1192.9L1338.4 1194.8L1338.9 1196.8L1339.4 1198.7L1339.9 1200.6L1340.3 1202.6L1340.8 1204.5L1341.3 1206.5L1341.7 1208.4L1342.2 1210.4L1342.6 1212.3L1343.1 1214.3L1343.5 1216.2L1344.0 1218.2L1344.4 1220.1L1344.9 1222.1L1345.3 1224.1L1345.7 1226.0L1346.1 1228.0L1346.6 1229.9L1347.0 1231.9L1347.4 1233.9L1347.8 1235.8L1348.2 1237.8L1348.6 1239.7L1349.0 1241.7L1349.4 1243.7L1349.8 1245.6L1350.2 1247.6L1350.6 1249.6L1351.0 1251.5L1351.4 1253.5L1351.7 1255.5L1352.1 1257.5L1352.5 1259.4L1352.9 1261.4L1353.2 1263.4L1353.6 1265.3L1353.9 1267.3L1354.3 1269.3L1354.7 1271.3L1355.0 1273.2L1355.4 1275.2L1355.7 1277.2L1356.1 1279.2L1356.4 1281.1L1356.7 1283.1L1357.1 1285.1L1357.4 1287.1L1357.7 1289.1L1358.1 1291.0L1358.4 1293.0L1358.7 1295.0L1359.0 1297.0L1359.4 1299.0L1359.7 1301.0L1360.0 1302.9L1360.3 1304.9L1360.6 1306.9L1360.9 1308.9L1361.2 1310.9L1361.5 1312.9L1361.8 1314.8L1362.1 1316.8L1362.4 1318.8L1362.7 1320.8L1363.0 1322.8L1363.3 1324.8L1363.6 1326.8L1363.9 1328.7L1364.1 1330.7L1364.4 1332.7L1364.7 1334.7L1365.0 1336.7L1365.3 1338.7L1365.5 1340.7L1365.8 1342.7L1366.1 1344.7L1366.3 1346.6L1366.6 1348.6L1366.9 1350.6L1367.1 1352.6L1367.4 1354.6L1367.7 1356.6L1367.9 1358.6L1368.2 1360.6L1368.4 1362.6L1368.7 1364.6L1368.9 1366.6L1369.2 1368.5L1369.4 1370.5L1369.7 1372.5L1369.9 1374.5L1370.2 1376.5L1370.4 1378.5L1370.7 1380.5L1370.9 1382.5L1371.1 1384.5L1371.4 1386.5L1371.6 1388.5L1371.9 1390.4L1372.1 1392.4L1372.3 1394.4L1372.6 1396.4L1372.8 1398.4L1373.0 1400.4L1373.3 1402.4L1373.5 1404.4L1373.7 1406.4L1373.9 1408.4L1374.2 1410.3L1374.4 1412.3L1374.6 1414.3L1374.8 1416.3L1375.1 1418.3L1375.3 1420.3L1375.5 1422.3L1375.7 1424.3L1376.0 1426.2L1376.2 1428.2L1376.4 1430.2L1376.6 1432.2L1376.8 1434.2L1377.0 1436.2L1377.3 1438.2L1377.5 1440.1L1377.7 1442.1L1377.9 1444.1L1378.1 1446.1L1378.3 1448.1L1378.6 1450.1L1378.8 1452.0L1379.0 1454.0L1379.2 1456.0L1379.4 1458.0L1379.6 1460.0L1379.9 1461.9L1380.1 1463.9L1380.3 1465.9" stroke="#000000" stroke-dasharray="41.5 23.5" stroke-dashoffset="56.0"/><path d="M233.5 180.2L234.3 182.0L235.2 183.8L236.0 185.6L236.9 187.4L237.7 189.3L238.6 191.1L239.5 192.8L240.4 194.6L241.3 196.4L242.2 198.2L243.2 200.0L244.1 201.8L245.0 203.5L246.0 205.3L247.0 207.0L247.9 208.8L248.9 210.5L249.9 212.3L250.9 214.0L251.9 215.8L252.9 217.5L253.9 219.2L255.0 220.9L256.0 222.6L257.0 224.3L258.1 226.1L259.1 227.8L260.2 229.4L261.3 231.1L262.4 232.8L263.5 234.5L264.6 236.2L265.7 237.9L266.8 239.5L267.9 241.2L269.0 242.8L270.2 244.5L271.3 246.1L272.5 247.8L273.6 249.4L274.8 251.1L275.9 252.7L277.1 254.3L278.3 255.9L279.5 257.5L280.7 259.1L281.9 260.7L283.1 262.3L284.3 263.9L285.5 265.5L286.8 267.1L288.0 268.7L289.2 270.3L290.5 271.8L291.7 273.4L293.0 275.0L294.2 276.5L295.5 278.1L296.8 279.6L298.1 281.1L299.4 282.7L300.7 284.2L301.9 285.7L303.3 287.3L304.6 288.8L305.9 290.3L307.2 291.8L308.5 293.3L309.9 294.8L311.2 296.3L312.5 297.8L313.9 299.3L315.2 300.7L316.6 302.2L317.9 303.7L319.3 305.1L320.7 306.6L322.1 308.1L323.4 309.5L324.8 311.0L326.2 312.4L327.6 313.8L329.0 315.3L330.4 316.7L331.8 318.1L333.2 319.6L334.6 321.0L336.1 322.4L337.5 323.8L338.9 325.2L340.3 326.6L341.8 328.0L343.2 329.4L344.7 330.8L346.1 332.2L347.6 333.6L349.0 334.9L350.5 336.3L351.9 337.7L353.4 339.0L354.9 340.4L356.4 341.8L357.8 343.1L359.3 344.5L360.8 345.8L362.3 347.1L363.8 348.5L365.3 349.8L366.8 351.2L368.3 352.5L369.8 353.8L371.3 355.1L372.8 356.4L374.3 357.8L375.8 359.1L377.3 360.4L378.9 361.7L380.4 363.0L381.9 364.3L383.4 365.6L385.0 366.9L386.5 368.1L388.0 369.4L389.6 370.7L391.1 372.0L392.7 373.3L394.2 374.5L395.8 375.8L397.3 377.1L398.9 378.3L400.4 379.6L402.0 380.8L403.6 382.1L405.1 383.3L406.7 384.6L408.3 385.8L409.8 387.1L411.4 388.3L413.0 389.6L414.5 390.8L416.1 392.0L417.7 393.3L419.3 394.5L420.9 395.7L422.5 396.9L424.1 398.2L425.6 399.4L427.2 400.6L428.8 401.8L430.4 403.0L432.0 404.2L433.6 405.4L435.2 406.7L436.8 407.9L438.4 409.1L440.0 410.3L441.6 411.5L443.2 412.7L444.8 413.9L446.5 415.0L448.1 416.2L449.7 417.4L451.3 418.6L452.9 419.8L454.5 421.0L456.1 422.2L457.8 423.4L459.4 424.5L461.0 425.7L462.6 426.9L464.2 428.1L465.9 429.2L467.5 430.4L469.1 431.6L470.7 432.7L472.4 433.9L474.0 435.1L475.6 436.2L477.3 437.4L478.9 438.5L480.5 439.7L482.2 440.9L483.8 442.0L485.5 443.2L487.1 444.3L488.7 445.5L490.4 446.6L492.0 447.7L493.7 448.9L495.3 450.0L497.0 451.2L498.6 452.3L500.3 453.4L501.9 454.6L503.6 455.7L505.2 456.8L506.9 457.9L508.6 459.1L510.2 460.2L511.9 461.3L513.5 462.4L515.2 463.5L516.9 464.7L518.5 465.8L520.2 466.9L521.9 468.0L523.5 469.1L525.2 470.2L526.9 471.3L528.6 472.4L530.2 473.5L531.9 474.6L533.6 475.7L535.3 476.8L536.9 477.9L538.6 479.0L540.3 480.1L542.0 481.1L543.7 482.2L545.4 483.3L547.1 484.4L548.7 485.5L550.4 486.5L552.1 487.6L553.8 488.7L555.5 489.8L557.2 490.8L558.9 491.9L560.6 493.0L562.3 494.0L564.0 495.1L565.7 496.1L567.4 497.2L569.1 498.3L570.8 499.3L572.5 500.4L574.2 501.4L575.9 502.5L577.6 503.5L579.3 504.6L581.0 505.6L582.7 506.7L584.5 507.7L586.2 508.7L587.9 509.8L589.6 510.8L591.3 511.9L593.0 512.9L594.7 513.9L596.5 515.0L598.2 516.0L599.9 517.0L601.6 518.1L603.3 519.1L605.1 520.1L606.8 521.1L608.5 522.2L610.2 523.2L611.9 524.2L613.7 525.2L615.4 526.2L617.1 527.3L618.9 528.3L620.6 529.3L622.3 530.3L624.0 531.3L625.8 532.3L627.5 533.3L629.2 534.3L631.0 535.3L632.7 536.3L634.4 537.4L636.2 538.4L637.9 539.4L639.6 540.4L641.4 541.4L643.1 542.4L644.8 543.4L646.6 544.4L648.3 545.3L650.1 546.3L651.8 547.3L653.5 548.3L655.3 549.3L657.0 550.3L658.8 551.3L660.5 552.3L662.3 553.3L664.0 554.3L665.7 555.2L667.5 556.2L669.2 557.2L671.0 558.2L672.7 559.2L674.5 560.2L676.2 561.1L678.0 562.1L679.7 563.1L681.5 564.1L683.2 565.0L685.0 566.0L686.7 567.0L688.5 568.0L690.2 568.9L692.0 569.9L693.7 570.9L695.5 571.8L697.2 572.8L699.0 573.8L700.7 574.8L702.5 575.7L704.2 576.7L706.0 577.6L707.8 578.6L709.5 579.6L711.3 580.5L713.0 581.5L714.8 582.5L716.5 583.4L718.3 584.4L720.1 585.3L721.8 586.3L723.6 587.3L725.3 588.2L727.1 589.2L728.9 590.1L730.6 591.1L732.4 592.0L734.2 593.0L735.9 593.9L737.7 594.9L739.4 595.8L741.2 596.8L743.0 597.7L744.7 598.7L746.5 599.6L748.3 600.6L750.0 601.5L751.8 602.5L753.6 603.4L755.3 604.3L757.1 605.3L758.9 606.2L760.7 607.2L762.4 608.1L764.2 609.0L766.0 610.0L767.7 610.9L769.5 611.8L771.3 612.8L773.1 613.7L774.8 614.6L776.6 615.6L778.4 616.5L780.1 617.4L781.9 618.4L783.7 619.3L785.5 620.2L787.3 621.1L789.0 622.1L790.8 623.0L792.6 623.9L794.4 624.8L796.1 625.8L797.9 626.7L799.7 627.6L801.5 628.5L803.3 629.5L805.0 630.4L806.8 631.3L808.6 632.2L810.4 633.1L812.2 634.1L813.9 635.0L815.7 635.9L817.5 636.8L819.3 637.8L821.0 638.7L822.8 639.6L824.6 640.6L826.3 641.5L828.1 642.5L829.9 643.4L831.6 644.4L833.4 645.3L835.1 646.3L836.9 647.3L838.6 648.2L840.4 649.2L842.2 650.2L843.9 651.1L845.7 652.1L847.4 653.1L849.2 654.1L850.9 655.1L852.6 656.0L854.4 657.0L856.1 658.0L857.9 659.0L859.6 660.0L861.4 661.0L863.1 662.0L864.8 663.0L866.6 664.0L868.3 665.0L870.0 666.0L871.8 667.0L873.5 668.0L875.2 669.0L877.0 670.0L878.7 671.0L880.4 672.0L882.2 673.0L883.9 674.0L885.6 675.0L887.4 676.0L889.1 677.0L890.8 678.0L892.6 679.1L894.3 680.1L896.0 681.1L897.8 682.1L899.5 683.1L901.2 684.1L903.0 685.1L904.7 686.1L906.4 687.1L908.2 688.1L909.9 689.1L911.6 690.1L913.4 691.1L915.1 692.1L916.8 693.1L918.6 694.1L920.3 695.1L922.0 696.1L923.8 697.1L925.5 698.1L927.3 699.1L929.0 700.1L930.7 701.1L932.5 702.1L934.2 703.1L936.0 704.1L937.7 705.1L939.4 706.1L941.2 707.0L942.9 708.0L944.7 709.0L946.4 710.0L948.2 711.0L949.9 712.0L951.7 712.9L953.4 713.9L955.2 714.9L956.9 715.9L958.6 716.9L960.4 717.8L962.1 718.8L963.9 719.8L965.6 720.8L967.4 721.7L969.1 722.7L970.9 723.7L972.6 724.7L974.4 725.6L976.2 726.6L977.9 727.6L979.7 728.5L981.4 729.5L983.2 730.5L984.9 731.4L986.7 732.4L988.4 733.4L990.2 734.4L991.9 735.3L993.7 736.3L995.4 737.3L997.2 738.2L998.9 739.2L1000.7 740.2L1002.5 741.1L1004.2 742.1L1006.0 743.1L1007.7 744.0L1009.5 745.0L1011.2 746.0L1013.0 746.9L1014.7 747.9L1016.5 748.9L1018.3 749.8L1020.0 750.8L1021.8 751.8L1023.5 752.7L1025.3 753.7L1027.0 754.7L1028.8 755.6L1030.5 756.6L1032.3 757.6L1034.0 758.5L1035.8 759.5L1037.6 760.5L1039.3 761.4L1041.1 762.4L1042.8 763.4L1044.6 764.3L1046.3 765.3L1048.1 766.3L1049.8 767.3L1051.6 768.2L1053.3 769.2L1055.1 770.2L1056.8 771.1L1058.6 772.1L1060.3 773.1L1062.1 774.1L1063.8 775.0L1065.6 776.0L1067.3 777.0L1069.1 778.0L1070.8 778.9L1072.6 779.9L1074.3 780.9L1076.1 781.9L1077.8 782.9L1079.6 783.8L1081.3 784.8L1083.1 785.8L1084.8 786.8L1086.6 787.8L1088.3 788.8L1090.0 789.8L1091.8 790.7L1093.5 791.7L1095.3 792.7L1097.0 793.7L1098.7 794.7L1100.5 795.7L1102.2 796.7L1104.0 797.7L1105.7 798.7L1107.4 799.7L1109.2 800.7L1110.9 801.7L1112.7 802.7L1114.4 803.7L1116.1 804.7L1117.9 805.7L1119.6 806.7L1121.3 807.7L1123.1 808.7L1124.8 809.7L1126.5 810.7L1128.3 811.7L1130.0 812.7L1131.7 813.7L1133.4 814.7L1135.2 815.7L1136.9 816.7L1138.6 817.8L1140.4 818.8L1142.1 819.8L1143.8 820.8L1145.6 821.8L1147.3 822.8L1149.0 823.8L1150.7 824.9L1152.5 825.9L1154.2 826.9L1155.9 827.9L1157.6 828.9L1159.4 830.0L1161.1 831.0L1162.8 832.0L1164.5 833.0L1166.2 834.0L1168.0 835.1L1169.7 836.1L1171.4 837.1L1173.1 838.1L1174.9 839.2L1176.6 840.2L1178.3 841.2L1180.0 842.3L1181.7 843.3L1183.5 844.3L1185.2 845.3L1186.9 846.4L1188.6 847.4L1190.3 848.4L1192.0 849.5L1193.8 850.5L1195.5 851.5L1197.2 852.6L1198.9 853.6L1200.6 854.6L1202.3 855.7L1204.1 856.7L1205.8 857.7L1207.5 858.8L1209.2 859.8L1210.9 860.9L1212.6 861.9L1214.3 862.9L1216.1 864.0L1217.8 865.0L1219.5 866.0L1221.2 867.1L1222.9 868.1L1224.6 869.2L1226.3 870.2L1228.0 871.3L1229.8 872.3L1231.5 873.3L1233.2 874.4L1234.9 875.4L1236.6 876.5L1238.3 877.5L1240.0 878.6L1241.7 879.6L1243.4 880.7L1245.1 881.7L1246.8 882.7L1248.6 883.8L1250.3 884.8L1252.0 885.9L1253.7 886.9L1255.4 888.0L1257.1 889.0L1258.8 890.1L1260.5 891.1L1262.2 892.2L1263.9 893.2L1265.6 894.3L1267.3 895.3L1269.0 896.4L1270.8 897.4L1272.5 898.5L1274.2 899.5L1275.9 900.6L1277.6 901.6L1279.3 902.7L1281.0 903.7L1282.7 904.8L1284.4 905.8L1286.1 906.9L1287.8 908.0L1289.5 909.0L1291.2 910.1L1292.9 911.1L1294.6 912.2L1296.3 913.3L1298.0 914.3L1299.7 915.4L1301.4 916.4L1303.1 917.5L1304.8 918.6L1306.5 919.6L1308.2 920.7L1309.9 921.8L1311.6 922.8L1313.3 923.9L1314.9 925.0L1316.6 926.1L1318.3 927.1L1320.0 928.2L1321.7 929.3L1323.4 930.4L1325.1 931.4L1326.8 932.5L1328.4 933.6L1330.1 934.7L1331.8 935.8L1333.5 936.9L1335.2 938.0L1336.9 939.0L1338.5 940.1L1340.2 941.2L1341.9 942.3L1343.6 943.4L1345.2 944.5L1346.9 945.6L1348.6 946.7L1350.3 947.8L1351.9 948.9L1353.6 950.0L1355.3 951.2L1356.9 952.3L1358.6 953.4L1360.3 954.5L1361.9 955.6L1363.6 956.7L1365.2 957.9L1366.9 959.0L1368.5 960.1L1370.2 961.2L1371.9 962.4L1373.5 963.5L1375.2 964.6L1376.8 965.8L1378.5 966.9L1380.1 968.0L1381.7 969.2L1383.4 970.3L1385.0 971.5L1386.7 972.6L1388.3 973.8L1389.9 974.9L1391.6 976.1L1393.2 977.3L1394.9 978.4L1396.5 979.6L1398.1 980.7L1399.7 981.9L1401.4 983.1L1403.0 984.2L1404.6 985.4L1406.3 986.6L1407.9 987.8L1409.5 988.9L1411.1 990.1L1412.7 991.3L1414.4 992.5L1416.0 993.7L1417.6 994.8L1419.2 996.0L1420.8 997.2L1422.4 998.4L1424.0 999.6L1425.6 1000.8L1427.3 1002.0L1428.9 1003.2L1430.5 1004.4L1432.1 1005.6L1433.7 1006.8L1435.3 1008.0L1436.9 1009.2L1438.5 1010.4L1440.1 1011.6L1441.7 1012.8L1443.3 1014.0L1444.9 1015.3L1446.5 1016.5L1448.1 1017.7L1449.6 1018.9L1451.2 1020.1L1452.8 1021.3L1454.4 1022.6L1456.0 1023.8L1457.6 1025.0L1459.2 1026.2L1460.8 1027.5L1462.3 1028.7L1463.9 1029.9L1465.5 1031.2L1467.1 1032.4L1468.7 1033.6L1470.2 1034.9L1471.8 1036.1L1473.4 1037.4L1475.0 1038.6L1476.5 1039.8L1478.1 1041.1L1479.7 1042.3L1481.3 1043.6L1482.8 1044.8L1484.4 1046.1L1486.0 1047.3L1487.5 1048.6L1489.1 1049.8L1490.6 1051.1L1492.2 1052.3L1493.8 1053.6L1495.3 1054.9L1496.9 1056.1L1498.4 1057.4L1500.0 1058.6L1501.6 1059.9L1503.1 1061.2L1504.7 1062.4L1506.2 1063.7L1507.8 1065.0L1509.3 1066.3L1510.9 1067.5L1512.4 1068.8L1513.9 1070.1L1515.5 1071.4L1517.0 1072.6L1518.6 1073.9L1520.1 1075.2L1521.6 1076.5L1523.2 1077.8L1524.7 1079.1L1526.2 1080.4L1527.8 1081.7L1529.3 1082.9L1530.8 1084.2L1532.4 1085.5L1533.9 1086.8L1535.4 1088.1L1536.9 1089.4L1538.4 1090.8L1540.0 1092.1L1541.5 1093.4L1543.0 1094.7L1544.5 1096.0L1546.0 1097.3L1547.5 1098.6L1549.0 1099.9L1550.5 1101.3L1552.0 1102.6L1553.6 1103.9L1555.1 1105.2L1556.5 1106.6L1558.0 1107.9L1559.5 1109.2L1561.0 1110.6L1562.5 1111.9L1564.0 1113.2L1565.5 1114.6L1567.0 1115.9L1568.5 1117.3L1570.0 1118.6L1571.4 1120.0L1572.9 1121.3L1574.4 1122.7L1575.9 1124.0L1577.3 1125.4L1578.8 1126.7L1580.3 1128.1L1581.7 1129.5L1583.2 1130.8L1584.7 1132.2L1586.1 1133.6L1587.6 1134.9L1589.0 1136.3L1590.5 1137.7L1591.9 1139.1L1593.4 1140.4L1594.8 1141.8L1596.3 1143.2L1597.7 1144.6L1599.2 1146.0L1600.6 1147.4L1602.0 1148.8L1603.5 1150.2L1604.9 1151.6L1606.3 1153.0L1607.8 1154.4L1609.2 1155.8L1610.6 1157.2L1612.0 1158.6L1613.5 1160.0L1614.9 1161.4L1616.3 1162.9L1617.7 1164.3L1619.1 1165.7L1620.5 1167.1L1621.9 1168.6L1623.3 1170.0L1624.7 1171.4L1626.1 1172.9L1627.5 1174.3L1628.9 1175.8L1630.3 1177.2L1631.7 1178.6L1633.0 1180.1L1634.4 1181.6L1635.8 1183.0L1637.2 1184.5L1638.6 1185.9L1639.9 1187.4L1641.3 1188.8L1642.7 1190.3L1644.0 1191.8L1645.4 1193.3L1646.7 1194.7L1648.1 1196.2L1649.4 1197.7L1650.8 1199.2L1652.1 1200.7L1653.5 1202.1L1654.8 1203.6L1656.2 1205.1L1657.5 1206.6L1658.8 1208.1L1660.2 1209.6L1661.5 1211.1L1662.8 1212.6L1664.1 1214.1L1665.5 1215.6L1666.8 1217.1L1668.1 1218.7L1669.4 1220.2L1670.7 1221.7L1672.0 1223.2L1673.3 1224.7L1674.6 1226.3L1675.9 1227.8L1677.2 1229.3L1678.5 1230.9L1679.8 1232.4L1681.1 1233.9L1682.4 1235.5L1683.6 1237.0L1684.9 1238.6L1686.2 1240.1L1687.5 1241.7L1688.7 1243.2L1690.0 1244.8L1691.3 1246.3L1692.5 1247.9L1693.8 1249.4L1695.0 1251.0L1696.3 1252.6L1697.5 1254.1L1698.8 1255.7L1700.0 1257.3L1701.3 1258.9L1702.5 1260.4L1703.7 1262.0L1705.0 1263.6L1706.2 1265.2L1707.4 1266.8L1708.6 1268.4L1709.8 1270.0L1711.1 1271.6L1712.3 1273.2L1713.5 1274.8L1714.7 1276.4L1715.9 1278.0L1717.1 1279.6L1718.3 1281.2L1719.5 1282.8L1720.7 1284.4L1721.9 1286.0L1723.0 1287.6L1724.2 1289.2L1725.4 1290.9L1726.6 1292.5L1727.7 1294.1L1728.9 1295.8L1730.1 1297.4L1731.2 1299.0L1732.4 1300.7L1733.5 1302.3L1734.7 1303.9L1735.8 1305.6L1737.0 1307.2L1738.1 1308.9L1739.3 1310.5L1740.4 1312.2L1741.5 1313.8L1742.6 1315.5L1743.8 1317.1L1744.9 1318.8L1746.0 1320.5L1747.1 1322.1L1748.2 1323.8L1749.3 1325.5L1750.4 1327.1L1751.5 1328.8L1752.6 1330.5L1753.7 1332.2L1754.8 1333.8L1755.9 1335.5L1757.0 1337.2L1758.1 1338.9L1759.1 1340.6L1760.2 1342.3L1761.3 1344.0L1762.4 1345.7L1763.4 1347.4L1764.5 1349.1L1765.5 1350.8L1766.6 1352.5L1767.6 1354.2L1768.7 1355.9L1769.7 1357.6L1770.7 1359.3L1771.8 1361.0L1772.8 1362.8L1773.8 1364.5L1774.9 1366.2L1775.9 1367.9L1776.9 1369.7L1777.9 1371.4L1778.9 1373.1L1779.9 1374.8L1780.9 1376.6L1781.9 1378.3L1782.9 1380.1L1783.9 1381.8L1784.9 1383.5L1785.9 1385.3L1786.8 1387.0L1787.8 1388.8L1788.8 1390.5L1789.7 1392.3L1790.7 1394.1L1791.7 1395.8L1792.6 1397.6L1793.6 1399.3L1794.5 1401.1L1795.5 1402.9L1796.4 1404.6L1797.3 1406.4L1798.3 1408.2L1799.2 1410.0L1800.1 1411.7L1801.0 1413.5L1802.0 1415.3L1802.9 1417.1L1803.8 1418.9L1804.7 1420.7L1805.6 1422.4L1806.5 1424.2L1807.4 1426.0L1808.3 1427.8L1809.1 1429.6L1810.0 1431.4L1810.9 1433.2L1811.8 1435.0L1812.6 1436.8L1813.5 1438.6L1814.4 1440.5L1815.2 1442.3L1816.1 1444.1L1816.9 1445.9L1817.8 1447.7L1818.6 1449.5L1819.4 1451.4L1820.3 1453.2L1821.1 1455.0L1821.9 1456.8L1822.7 1458.7L1823.6 1460.5L1824.4 1462.3L1825.2 1464.2L1826.0 1466.0" stroke="#ff0000" stroke-dasharray="41.5 23.5" stroke-dashoffset="57.3"/><path d="M233.5 180.2L234.3 182.0L235.2 183.8L236.0 185.7L236.9 187.5L237.8 189.3L238.6 191.1L239.5 192.9L240.4 194.7L241.4 196.5L242.3 198.3L243.2 200.0L244.1 201.8L245.1 203.6L246.0 205.4L247.0 207.1L248.0 208.9L249.0 210.6L249.9 212.4L250.9 214.1L251.9 215.8L253.0 217.6L254.0 219.3L255.0 221.0L256.0 222.7L257.1 224.4L258.1 226.1L259.2 227.8L260.3 229.5L261.3 231.2L262.4 232.9L263.5 234.6L264.6 236.2L265.7 237.9L266.8 239.6L267.9 241.2L269.1 242.9L270.2 244.5L271.3 246.2L272.5 247.8L273.6 249.4L274.8 251.1L276.0 252.7L277.1 254.3L278.3 255.9L279.5 257.5L280.7 259.1L281.9 260.7L283.1 262.3L284.3 263.9L285.5 265.5L286.8 267.1L288.0 268.7L289.2 270.2L290.5 271.8L291.7 273.4L293.0 274.9L294.3 276.5L295.5 278.0L296.8 279.6L298.1 281.1L299.4 282.6L300.7 284.2L302.0 285.7L303.3 287.2L304.6 288.7L305.9 290.2L307.2 291.8L308.5 293.3L309.9 294.8L311.2 296.2L312.5 297.7L313.9 299.2L315.2 300.7L316.6 302.2L317.9 303.6L319.3 305.1L320.7 306.6L322.1 308.0L323.4 309.5L324.8 310.9L326.2 312.4L327.6 313.8L329.0 315.3L330.4 316.7L331.8 318.1L333.2 319.5L334.7 320.9L336.1 322.4L337.5 323.8L338.9 325.2L340.4 326.6L341.8 328.0L343.2 329.4L344.7 330.8L346.1 332.1L347.6 333.5L349.0 334.9L350.5 336.3L352.0 337.6L353.4 339.0L354.9 340.4L356.4 341.7L357.9 343.1L359.3 344.4L360.8 345.7L362.3 347.1L363.8 348.4L365.3 349.8L366.8 351.1L368.3 352.4L369.8 353.7L371.3 355.0L372.8 356.4L374.3 357.7L375.8 359.0L377.4 360.3L378.9 361.6L380.4 362.9L381.9 364.2L383.5 365.5L385.0 366.7L386.5 368.0L388.1 369.3L389.6 370.6L391.2 371.9L392.7 373.1L394.2 374.4L395.8 375.7L397.4 376.9L398.9 378.2L400.5 379.4L402.0 380.7L403.6 381.9L405.2 383.2L406.7 384.4L408.3 385.7L409.9 386.9L411.4 388.2L413.0 389.4L414.6 390.6L416.2 391.9L417.7 393.1L419.3 394.3L420.9 395.5L422.5 396.8L424.1 398.0L425.7 399.2L427.3 400.4L428.9 401.6L430.4 402.9L432.0 404.1L433.6 405.3L435.2 406.5L436.8 407.7L438.4 408.9L440.0 410.1L441.6 411.3L443.3 412.5L444.9 413.7L446.5 414.9L448.1 416.0L449.7 417.2L451.3 418.4L452.9 419.6L454.5 420.8L456.2 422.0L457.8 423.1L459.4 424.3L461.0 425.5L462.7 426.7L464.3 427.8L465.9 429.0L467.5 430.2L469.2 431.3L470.8 432.5L472.4 433.7L474.1 434.8L475.7 436.0L477.3 437.1L479.0 438.3L480.6 439.4L482.2 440.6L483.9 441.7L485.5 442.9L487.2 444.0L488.8 445.2L490.5 446.3L492.1 447.4L493.8 448.6L495.4 449.7L497.1 450.8L498.7 452.0L500.4 453.1L502.0 454.2L503.7 455.4L505.3 456.5L507.0 457.6L508.6 458.7L510.3 459.9L512.0 461.0L513.6 462.1L515.3 463.2L517.0 464.3L518.6 465.4L520.3 466.5L522.0 467.6L523.6 468.8L525.3 469.9L527.0 471.0L528.6 472.1L530.3 473.2L532.0 474.2L533.7 475.3L535.3 476.4L537.0 477.5L538.7 478.6L540.4 479.7L542.1 480.8L543.8 481.9L545.4 482.9L547.1 484.0L548.8 485.1L550.5 486.2L552.2 487.2L553.9 488.3L555.6 489.4L557.3 490.4L559.0 491.5L560.7 492.5L562.4 493.6L564.1 494.7L565.8 495.7L567.5 496.8L569.2 497.8L570.9 498.9L572.6 499.9L574.3 501.0L576.0 502.0L577.7 503.1L579.4 504.1L581.2 505.1L582.9 506.2L584.6 507.2L586.3 508.2L588.0 509.3L589.7 510.3L591.4 511.3L593.2 512.4L594.9 513.4L596.6 514.4L598.3 515.5L600.0 516.5L601.8 517.5L603.5 518.5L605.2 519.5L606.9 520.6L608.6 521.6L610.4 522.6L612.1 523.6L613.8 524.6L615.6 525.6L617.3 526.7L619.0 527.7L620.7 528.7L622.5 529.7L624.2 530.7L625.9 531.7L627.7 532.7L629.4 533.7L631.1 534.7L632.9 535.7L634.6 536.7L636.3 537.7L638.1 538.7L639.8 539.7L641.5 540.7L643.3 541.7L645.0 542.7L646.8 543.7L648.5 544.7L650.2 545.7L652.0 546.6L653.7 547.6L655.5 548.6L657.2 549.6L659.0 550.6L660.7 551.6L662.4 552.5L664.2 553.5L665.9 554.5L667.7 555.5L669.4 556.4L671.2 557.4L672.9 558.4L674.7 559.4L676.4 560.3L678.2 561.3L680.0 562.3L681.7 563.2L683.5 564.2L685.2 565.2L687.0 566.1L688.7 567.1L690.5 568.0L692.2 569.0L694.0 570.0L695.8 570.9L697.5 571.9L699.3 572.8L701.0 573.8L702.8 574.8L704.6 575.7L706.3 576.7L708.1 577.6L709.8 578.6L711.6 579.5L713.4 580.5L715.1 581.4L716.9 582.4L718.6 583.3L720.4 584.3L722.2 585.2L723.9 586.2L725.7 587.1L727.5 588.1L729.2 589.0L731.0 590.0L732.7 590.9L734.5 591.9L736.3 592.8L738.0 593.8L739.8 594.7L741.6 595.7L743.3 596.6L745.1 597.5L746.9 598.5L748.6 599.4L750.4 600.4L752.2 601.3L753.9 602.3L755.7 603.2L757.5 604.1L759.2 605.1L761.0 606.0L762.8 607.0L764.5 607.9L766.3 608.8L768.1 609.8L769.9 610.7L771.6 611.6L773.4 612.6L775.2 613.5L777.0 614.4L778.7 615.3L780.5 616.3L782.3 617.2L784.1 618.1L785.8 619.0L787.6 619.9L789.4 620.8L791.2 621.7L793.0 622.7L794.8 623.6L796.5 624.5L798.3 625.4L800.1 626.3L801.9 627.2L803.7 628.0L805.5 628.9L807.3 629.8L809.1 630.7L810.9 631.6L812.7 632.5L814.5 633.4L816.3 634.2L818.1 635.1L819.9 636.0L821.7 636.8L823.5 637.7L825.3 638.6L827.1 639.4L828.9 640.3L830.7 641.2L832.5 642.0L834.3 642.9L836.1 643.7L837.9 644.6L839.8 645.4L841.6 646.3L843.4 647.1L845.2 648.0L847.0 648.8L848.8 649.6L850.6 650.5L852.5 651.3L854.3 652.1L856.1 653.0L857.9 653.8L859.8 654.6L861.6 655.4L863.4 656.3L865.2 657.1L867.1 657.9L868.9 658.7L870.7 659.5L872.5 660.4L874.4 661.2L876.2 662.0L878.0 662.8L879.9 663.6L881.7 664.4L883.5 665.2L885.4 666.0L887.2 666.8L889.0 667.6L890.9 668.4L892.7 669.2L894.5 670.0L896.4 670.8L898.2 671.6L900.1 672.4L901.9 673.1L903.7 673.9L905.6 674.7L907.4 675.5L909.3 676.3L911.1 677.1L913.0 677.8L914.8 678.6L916.7 679.4L918.5 680.2L920.4 680.9L922.2 681.7L924.1 682.5L925.9 683.2L927.8 684.0L929.6 684.8L931.5 685.5L933.3 686.3L935.2 687.1L937.0 687.8L938.9 688.6L940.7 689.3L942.6 690.1L944.4 690.8L946.3 691.6L948.1 692.3L950.0 693.1L951.9 693.8L953.7 694.6L955.6 695.3L957.4 696.1L959.3 696.8L961.2 697.6L963.0 698.3L964.9 699.1L966.7 699.8L968.6 700.5L970.5 701.3L972.3 702.0L974.2 702.8L976.1 703.5L977.9 704.2L979.8 705.0L981.7 705.7L983.5 706.4L985.4 707.2L987.3 707.9L989.1 708.6L991.0 709.3L992.9 710.1L994.7 710.8L996.6 711.5L998.5 712.2L1000.3 713.0L1002.2 713.7L1004.1 714.4L1005.9 715.1L1007.8 715.8L1009.7 716.6L1011.5 717.3L1013.4 718.0L1015.3 718.7L1017.2 719.4L1019.0 720.2L1020.9 720.9L1022.8 721.6L1024.6 722.3L1026.5 723.0L1028.4 723.7L1030.3 724.4L1032.1 725.1L1034.0 725.9L1035.9 726.6L1037.8 727.3L1039.6 728.0L1041.5 728.7L1043.4 729.4L1045.3 730.1L1047.1 730.8L1049.0 731.5L1050.9 732.2L1052.8 732.9L1054.6 733.6L1056.5 734.3L1058.4 735.0L1060.3 735.7L1062.1 736.4L1064.0 737.1L1065.9 737.8L1067.8 738.5L1069.6 739.2L1071.5 739.9L1073.4 740.6L1075.3 741.3L1077.1 742.0L1079.0 742.7L1080.9 743.4L1082.8 744.1L1084.7 744.8L1086.5 745.5L1088.4 746.2L1090.3 746.9L1092.2 747.6L1094.1 748.2L1095.9 748.9L1097.8 749.6L1099.7 750.3L1101.6 751.0L1103.5 751.7L1105.4 752.3L1107.2 753.0L1109.1 753.7L1111.0 754.4L1112.9 755.1L1114.8 755.7L1116.7 756.4L1118.5 757.1L1120.4 757.8L1122.3 758.4L1124.2 759.1L1126.1 759.8L1128.0 760.4L1129.9 761.1L1131.7 761.8L1133.6 762.4L1135.5 763.1L1137.4 763.8L1139.3 764.4L1141.2 765.1L1143.1 765.8L1145.0 766.4L1146.9 767.1L1148.7 767.7L1150.6 768.4L1152.5 769.1L1154.4 769.7L1156.3 770.4L1158.2 771.0L1160.1 771.7L1162.0 772.3L1163.9 773.0L1165.8 773.6L1167.7 774.3L1169.6 774.9L1171.5 775.5L1173.3 776.2L1175.2 776.8L1177.1 777.5L1179.0 778.1L1180.9 778.8L1182.8 779.4L1184.7 780.0L1186.6 780.7L1188.5 781.3L1190.4 781.9L1192.3 782.6L1194.2 783.2L1196.1 783.8L1198.0 784.5L1199.9 785.1L1201.8 785.7L1203.7 786.3L1205.6 787.0L1207.5 787.6L1209.4 788.2L1211.3 788.9L1213.2 789.5L1215.1 790.1L1217.0 790.7L1218.9 791.3L1220.8 792.0L1222.7 792.6L1224.6 793.2L1226.5 793.8L1228.4 794.4L1230.3 795.1L1232.2 795.7L1234.1 796.3L1236.0 796.9L1237.9 797.5L1239.9 798.1L1241.8 798.7L1243.7 799.4L1245.6 800.0L1247.5 800.6L1249.4 801.2L1251.3 801.8L1253.2 802.4L1255.1 803.0L1257.0 803.6L1258.9 804.2L1260.8 804.8L1262.7 805.4L1264.6 806.0L1266.5 806.7L1268.5 807.3L1270.4 807.9L1272.3 808.5L1274.2 809.1L1276.1 809.7L1278.0 810.3L1279.9 810.9L1281.8 811.5L1283.7 812.1L1285.6 812.7L1287.5 813.3L1289.5 813.9L1291.4 814.5L1293.3 815.1L1295.2 815.7L1297.1 816.3L1299.0 816.9L1300.9 817.5L1302.8 818.1L1304.7 818.6L1306.7 819.2L1308.6 819.8L1310.5 820.4L1312.4 821.0L1314.3 821.6L1316.2 822.2L1318.1 822.8L1320.0 823.4L1322.0 824.0L1323.9 824.6L1325.8 825.2L1327.7 825.8L1329.6 826.4L1331.5 826.9L1333.4 827.5L1335.3 828.1L1337.3 828.7L1339.2 829.3L1341.1 829.9L1343.0 830.5L1344.9 831.1L1346.8 831.6L1348.8 832.2L1350.7 832.8L1352.6 833.4L1354.5 834.0L1356.4 834.6L1358.3 835.2L1360.2 835.7L1362.2 836.3L1364.1 836.9L1366.0 837.5L1367.9 838.1L1369.8 838.6L1371.7 839.2L1373.7 839.8L1375.6 840.4L1377.5 841.0L1379.4 841.5L1381.3 842.1L1383.3 842.7L1385.2 843.3L1387.1 843.8L1389.0 844.4L1390.9 845.0L1392.9 845.5L1394.8 846.1L1396.7 846.7L1398.6 847.3L1400.5 847.8L1402.5 848.4L1404.4 849.0L1406.3 849.5L1408.2 850.1L1410.1 850.7L1412.1 851.2L1414.0 851.8L1415.9 852.4L1417.8 852.9L1419.7 853.5L1421.7 854.0L1423.6 854.6L1425.5 855.2L1427.4 855.7L1429.4 856.3L1431.3 856.8L1433.2 857.4L1435.1 858.0L1437.1 858.5L1439.0 859.1L1440.9 859.6L1442.8 860.2L1444.8 860.7L1446.7 861.3L1448.6 861.8L1450.5 862.4L1452.5 862.9L1454.4 863.5L1456.3 864.0L1458.2 864.6L1460.2 865.1L1462.1 865.7L1464.0 866.2L1465.9 866.7L1467.9 867.3L1469.8 867.8L1471.7 868.4L1473.6 868.9L1475.6 869.4L1477.5 870.0L1479.4 870.5L1481.4 871.1L1483.3 871.6L1485.2 872.1L1487.1 872.7L1489.1 873.2L1491.0 873.7L1492.9 874.3L1494.9 874.8L1496.8 875.3L1498.7 875.9L1500.7 876.4L1502.6 876.9L1504.5 877.4L1506.4 878.0L1508.4 878.5L1510.3 879.0L1512.2 879.5L1514.2 880.1L1516.1 880.6L1518.0 881.1L1520.0 881.6L1521.9 882.2L1523.8 882.7L1525.8 883.2L1527.7 883.7L1529.6 884.2L1531.6 884.8L1533.5 885.3L1535.4 885.8L1537.4 886.3L1539.3 886.8L1541.2 887.3L1543.2 887.8L1545.1 888.4L1547.0 888.9L1549.0 889.4L1550.9 889.9L1552.8 890.4L1554.8 890.9L1556.7 891.4L1558.7 891.9L1560.6 892.4L1562.5 892.9L1564.5 893.5L1566.4 894.0L1568.3 894.5L1570.3 895.0L1572.2 895.5L1574.1 896.0L1576.1 896.5L1578.0 897.0L1580.0 897.5L1581.9 898.0L1583.8 898.5L1585.8 899.0L1587.7 899.5L1589.7 900.0L1591.6 900.5L1593.5 901.0L1595.5 901.5L1597.4 902.0L1599.3 902.5L1601.3 903.0L1603.2 903.5L1605.2 903.9L1607.1 904.4L1609.0 904.9L1611.0 905.4L1612.9 905.9L1614.9 906.4L1616.8 906.9L1618.7 907.4L1620.7 907.9L1622.6 908.4L1624.6 908.9L1626.5 909.3L1628.5 909.8L1630.4 910.3L1632.3 910.8L1634.3 911.3L1636.2 911.8L1638.2 912.3L1640.1 912.7L1642.1 913.2L1644.0 913.7L1645.9 914.2L1647.9 914.7L1649.8 915.2L1651.8 915.6L1653.7 916.1L1655.7 916.6L1657.6 917.1L1659.5 917.6L1661.5 918.0L1663.4 918.5L1665.4 919.0L1667.3 919.5L1669.3 920.0L1671.2 920.4L1673.1 920.9L1675.1 921.4L1677.0 921.9L1679.0 922.3L1680.9 922.8L1682.9 923.3L1684.8 923.8L1686.8 924.2L1688.7 924.7L1690.7 925.2L1692.6 925.7L1694.5 926.1L1696.5 926.6L1698.4 927.1L1700.4 927.6L1702.3 928.0L1704.3 928.5L1706.2 929.0L1708.2 929.4L1710.1 929.9L1712.1 930.4L1714.0 930.9L1716.0 931.3L1717.9 931.8L1719.8 932.3L1721.8 932.7L1723.7 933.2L1725.7 933.7L1727.6 934.2L1729.6 934.6L1731.5 935.1L1733.5 935.6L1735.4 936.0L1737.4 936.5L1739.3 937.0L1741.3 937.4L1743.2 937.9L1745.2 938.4L1747.1 938.8L1749.1 939.3L1751.0 939.8L1752.9 940.2L1754.9 940.7L1756.8 941.2L1758.8 941.6L1760.7 942.1L1762.7 942.6L1764.6 943.0L1766.6 943.5L1768.5 944.0L1770.5 944.4L1772.4 944.9L1774.4 945.4L1776.3 945.8L1778.3 946.3L1780.2 946.8L1782.2 947.2L1784.1 947.7L1786.1 948.2L1788.0 948.6L1790.0 949.1L1791.9 949.6L1793.8 950.0L1795.8 950.5L1797.7 951.0L1799.7 951.4L1801.6 951.9L1803.6 952.3L1805.5 952.8L1807.5 953.3L1809.4 953.7L1811.4 954.2L1813.3 954.7L1815.3 955.1L1817.2 955.6L1819.2 956.1L1821.1 956.5L1823.1 957.0L1825.0 957.5L1827.0 957.9L1828.9 958.4L1830.9 958.9L1832.8 959.3L1834.8 959.8L1836.7 960.3L1838.6 960.7L1840.6 961.2L1842.5 961.7L1844.5 962.1L1846.4 962.6L1848.4 963.1L1850.3 963.5L1852.3 964.0L1854.2 964.5L1856.2 965.0L1858.1 965.4L1860.1 965.9L1862.0 966.4L1864.0 966.8L1865.9 967.3L1867.9 967.8L1869.8 968.2L1871.7 968.7L1873.7 969.2L1875.6 969.6L1877.6 970.1L1879.5 970.6L1881.5 971.1L1883.4 971.5L1885.4 972.0L1887.3 972.5L1889.3 972.9L1891.2 973.4L1893.2 973.9L1895.1 974.4L1897.0 974.8L1899.0 975.3L1900.9 975.8L1902.9 976.3L1904.8 976.7L1906.8 977.2L1908.7 977.7L1910.7 978.2L1912.6 978.6L1914.6 979.1L1916.5 979.6L1918.4 980.1L1920.4 980.5L1922.3 981.0L1924.3 981.5L1926.2 982.0L1928.2 982.5L1930.1 982.9L1932.1 983.4L1934.0 983.9L1935.9 984.4L1937.9 984.9L1939.8 985.3L1941.8 985.8L1943.7 986.3L1945.7 986.8L1947.6 987.3L1949.5 987.8L1951.5 988.2L1953.4 988.7L1955.4 989.2L1957.3 989.7L1959.3 990.2L1961.2 990.7L1963.1 991.2L1965.1 991.7L1967.0 992.1L1969.0 992.6L1970.9 993.1L1972.8 993.6L1974.8 994.1L1976.7 994.6L1978.7 995.1L1980.6 995.6L1982.5 996.1L1984.5 996.6L1986.4 997.1L1988.4 997.6L1990.3 998.0L1992.2 998.5L1994.2 999.0L1996.1 999.5L1998.1 1000.0L2000.0 1000.5L2001.9 1001.0" stroke="#ff0000"/><path d="M233.5 180.2L234.3 182.0L235.1 183.9L236.0 185.7L236.9 187.5L237.7 189.3L238.6 191.1L239.5 192.9L240.4 194.7L241.3 196.5L242.2 198.3L243.2 200.1L244.1 201.9L245.0 203.6L246.0 205.4L247.0 207.2L247.9 208.9L248.9 210.7L249.9 212.4L250.9 214.2L251.9 215.9L252.9 217.6L253.9 219.4L254.9 221.1L255.9 222.8L257.0 224.5L258.0 226.2L259.1 227.9L260.1 229.6L261.2 231.3L262.3 233.0L263.3 234.7L264.4 236.4L265.5 238.1L266.6 239.7L267.7 241.4L268.9 243.1L270.0 244.7L271.1 246.4L272.3 248.0L273.4 249.7L274.5 251.3L275.7 252.9L276.9 254.6L278.0 256.2L279.2 257.8L280.4 259.4L281.6 261.0L282.8 262.6L284.0 264.2L285.2 265.8L286.4 267.4L287.6 269.0L288.9 270.6L290.1 272.2L291.3 273.7L292.6 275.3L293.8 276.9L295.1 278.4L296.3 280.0L297.6 281.6L298.9 283.1L300.2 284.6L301.5 286.2L302.7 287.7L304.0 289.2L305.3 290.8L306.6 292.3L308.0 293.8L309.3 295.3L310.6 296.8L311.9 298.3L313.3 299.8L314.6 301.3L315.9 302.8L317.3 304.3L318.6 305.8L320.0 307.3L321.4 308.7L322.7 310.2L324.1 311.7L325.5 313.1L326.8 314.6L328.2 316.0L329.6 317.5L331.0 318.9L332.4 320.4L333.8 321.8L335.2 323.2L336.6 324.6L338.0 326.1L339.5 327.5L340.9 328.9L342.3 330.3L343.7 331.7L345.2 333.1L346.6 334.5L348.1 335.9L349.5 337.3L350.9 338.7L352.4 340.1L353.9 341.4L355.3 342.8L356.8 344.2L358.2 345.6L359.7 346.9L361.2 348.3L362.7 349.6L364.1 351.0L365.6 352.3L367.1 353.7L368.6 355.0L370.1 356.4L371.6 357.7L373.1 359.0L374.6 360.3L376.1 361.7L377.6 363.0L379.1 364.3L380.6 365.6L382.1 366.9L383.6 368.2L385.1 369.6L386.7 370.9L388.2 372.2L389.7 373.5L391.2 374.8L392.8 376.0L394.3 377.3L395.8 378.6L397.4 379.9L398.9 381.2L400.4 382.5L402.0 383.8L403.5 385.0L405.1 386.3L406.6 387.6L408.2 388.8L409.7 390.1L411.3 391.4L412.8 392.6L414.4 393.9L416.0 395.2L417.5 396.4L419.1 397.7L420.6 398.9L422.2 400.2L423.8 401.4L425.3 402.7L426.9 403.9L428.5 405.2L430.1 406.4L431.6 407.7L433.2 408.9L434.8 410.1L436.4 411.4L437.9 412.6L439.5 413.9L441.1 415.1L442.7 416.3L444.3 417.5L445.8 418.8L447.4 420.0L449.0 421.2L450.6 422.5L452.2 423.7L453.8 424.9L455.4 426.1L457.0 427.3L458.5 428.6L460.1 429.8L461.7 431.0L463.3 432.2L464.9 433.4L466.5 434.6L468.1 435.8L469.7 437.1L471.3 438.3L472.9 439.5L474.5 440.7L476.1 441.9L477.7 443.1L479.3 444.3L480.9 445.5L482.5 446.7L484.1 447.9L485.7 449.1L487.3 450.3L489.0 451.5L490.6 452.7L492.2 453.9L493.8 455.1L495.4 456.3L497.0 457.5L498.6 458.7L500.2 459.9L501.8 461.0L503.4 462.2L505.1 463.4L506.7 464.6L508.3 465.8L509.9 467.0L511.5 468.2L513.1 469.4L514.7 470.6L516.4 471.7L518.0 472.9L519.6 474.1L521.2 475.3L522.8 476.5L524.4 477.7L526.1 478.9L527.7 480.0L529.3 481.2L530.9 482.4L532.5 483.6L534.1 484.8L535.8 486.0L537.4 487.1L539.0 488.3L540.6 489.5L542.2 490.7L543.8 491.9L545.5 493.1L547.1 494.2L548.7 495.4L550.3 496.6L551.9 497.8L553.6 499.0L555.2 500.2L556.8 501.3L558.4 502.5L560.0 503.7L561.6 504.9L563.3 506.1L564.9 507.3L566.5 508.4L568.1 509.6L569.7 510.8L571.3 512.0L573.0 513.2L574.6 514.4L576.2 515.6L577.8 516.7L579.4 517.9L581.0 519.1L582.6 520.3L584.3 521.5L585.9 522.7L587.5 523.9L589.1 525.1L590.7 526.3L592.3 527.5L593.9 528.6L595.5 529.8L597.1 531.0L598.7 532.2L600.4 533.4L602.0 534.6L603.6 535.8L605.2 537.0L606.8 538.2L608.4 539.4L610.0 540.6L611.6 541.8L613.2 543.0L614.8 544.2L616.4 545.4L618.0 546.6L619.6 547.8L621.2 549.1L622.8 550.3L624.4 551.5L626.0 552.7L627.6 553.9L629.2 555.1L630.7 556.3L632.3 557.5L633.9 558.8L635.5 560.0L637.1 561.2L638.7 562.4L640.3 563.7L641.9 564.9L643.4 566.1L645.0 567.3L646.6 568.6L648.2 569.8L649.8 571.0L651.3 572.3L652.9 573.5L654.5 574.7L656.1 576.0L657.6 577.2L659.2 578.5L660.8 579.7L662.3 580.9L663.9 582.2L665.5 583.4L667.0 584.7L668.6 585.9L670.2 587.2L671.7 588.5L673.3 589.7L674.8 591.0L676.4 592.2L678.0 593.5L679.5 594.8L681.1 596.0L682.6 597.3L684.2 598.6L685.7 599.9L687.2 601.1L688.8 602.4L690.3 603.7L691.9 605.0L693.4 606.3L694.9 607.5L696.5 608.8L698.0 610.1L699.5 611.4L701.1 612.7L702.6 614.0L704.1 615.3L705.6 616.6L707.2 617.9L708.7 619.2L710.2 620.5L711.7 621.9L713.2 623.2L714.7 624.5L716.3 625.8L717.8 627.1L719.3 628.5L720.8 629.8L722.3 631.1L723.8 632.5L725.3 633.8L726.8 635.1L728.3 636.5L729.8 637.8L731.2 639.2L732.7 640.5L734.2 641.9L735.7 643.2L737.2 644.6L738.6 646.0L740.1 647.3L741.6 648.7L743.1 650.1L744.5 651.4L746.0 652.8L747.4 654.2L748.9 655.6L750.3 657.0L751.8 658.4L753.2 659.8L754.7 661.2L756.1 662.6L757.5 664.0L759.0 665.4L760.4 666.8L761.8 668.2L763.2 669.6L764.7 671.0L766.1 672.5L767.5 673.9L768.9 675.3L770.3 676.8L771.7 678.2L773.1 679.7L774.5 681.1L775.8 682.6L777.2 684.0L778.6 685.5L780.0 686.9L781.3 688.4L782.7 689.9L784.1 691.4L785.4 692.8L786.8 694.3L788.1 695.8L789.4 697.3L790.8 698.8L792.1 700.3L793.4 701.8L794.8 703.3L796.1 704.8L797.4 706.3L798.7 707.9L800.0 709.4L801.3 710.9L802.6 712.4L803.9 714.0L805.1 715.5L806.4 717.1L807.7 718.6L808.9 720.2L810.2 721.7L811.5 723.3L812.7 724.9L814.0 726.4L815.2 728.0L816.4 729.6L817.6 731.2L818.9 732.7L820.1 734.3L821.3 735.9L822.5 737.5L823.7 739.1L824.9 740.7L826.1 742.3L827.3 743.9L828.5 745.6L829.6 747.2L830.8 748.8L832.0 750.4L833.1 752.1L834.3 753.7L835.4 755.3L836.6 757.0L837.7 758.6L838.8 760.3L840.0 761.9L841.1 763.6L842.2 765.2L843.3 766.9L844.4 768.6L845.5 770.2L846.6 771.9L847.7 773.6L848.8 775.3L849.8 777.0L850.9 778.7L852.0 780.3L853.0 782.0L854.1 783.7L855.1 785.4L856.2 787.1L857.2 788.8L858.2 790.6L859.2 792.3L860.3 794.0L861.3 795.7L862.3 797.4L863.3 799.2L864.3 800.9L865.3 802.6L866.2 804.4L867.2 806.1L868.2 807.9L869.1 809.6L870.1 811.3L871.0 813.1L872.0 814.9L872.9 816.6L873.9 818.4L874.8 820.1L875.7 821.9L876.6 823.7L877.5 825.5L878.4 827.2L879.3 829.0L880.2 830.8L881.1 832.6L882.0 834.4L882.8 836.2L883.7 838.0L884.6 839.8L885.4 841.6L886.3 843.4L887.1 845.2L887.9 847.0L888.8 848.8L889.6 850.6L890.4 852.4L891.2 854.2L892.0 856.1L892.8 857.9L893.6 859.7L894.4 861.5L895.1 863.4L895.9 865.2L896.7 867.1L897.4 868.9L898.2 870.7L898.9 872.6L899.7 874.4L900.4 876.3L901.1 878.1L901.9 880.0L902.6 881.8L903.3 883.7L904.0 885.6L904.7 887.4L905.4 889.3L906.1 891.2L906.8 893.0L907.4 894.9L908.1 896.8L908.8 898.7L909.4 900.6L910.1 902.4L910.7 904.3L911.4 906.2L912.0 908.1L912.7 910.0L913.3 911.9L913.9 913.8L914.5 915.7L915.1 917.6L915.7 919.5L916.3 921.4L916.9 923.3L917.5 925.2L918.1 927.1L918.7 929.0L919.3 930.9L919.9 932.8L920.4 934.8L921.0 936.7L921.6 938.6L922.1 940.5L922.7 942.4L923.2 944.4L923.7 946.3L924.3 948.2L924.8 950.2L925.3 952.1L925.9 954.0L926.4 956.0L926.9 957.9L927.4 959.8L927.9 961.8L928.4 963.7L928.9 965.7L929.4 967.6L929.9 969.5L930.4 971.5L930.8 973.4L931.3 975.4L931.8 977.3L932.3 979.3L932.7 981.3L933.2 983.2L933.6 985.2L934.1 987.1L934.5 989.1L935.0 991.0L935.4 993.0L935.9 995.0L936.3 996.9L936.7 998.9L937.1 1000.9L937.6 1002.8L938.0 1004.8L938.4 1006.8L938.8 1008.7L939.2 1010.7L939.6 1012.7L940.0 1014.7L940.4 1016.6L940.8 1018.6L941.2 1020.6L941.6 1022.6L942.0 1024.5L942.4 1026.5L942.7 1028.5L943.1 1030.5L943.5 1032.5L943.9 1034.4L944.2 1036.4L944.6 1038.4L944.9 1040.4L945.3 1042.4L945.7 1044.4L946.0 1046.3L946.4 1048.3L946.7 1050.3L947.0 1052.3L947.4 1054.3L947.7 1056.3L948.1 1058.3L948.4 1060.3L948.7 1062.2L949.0 1064.2L949.4 1066.2L949.7 1068.2L950.0 1070.2L950.3 1072.2L950.6 1074.2L951.0 1076.2L951.3 1078.2L951.6 1080.2L951.9 1082.2L952.2 1084.2L952.5 1086.2L952.8 1088.2L953.1 1090.1L953.4 1092.1L953.7 1094.1L954.0 1096.1L954.3 1098.1L954.5 1100.1L954.8 1102.1L955.1 1104.1L955.4 1106.1L955.7 1108.1L955.9 1110.1L956.2 1112.1L956.5 1114.1L956.8 1116.1L957.0 1118.1L957.3 1120.1L957.6 1122.1L957.8 1124.1L958.1 1126.1L958.4 1128.0L958.6 1130.0L958.9 1132.0L959.2 1134.0L959.4 1136.0L959.7 1138.0L959.9 1140.0L960.2 1142.0L960.4 1144.0L960.7 1146.0L960.9 1148.0L961.2 1150.0L961.4 1152.0L961.7 1153.9L961.9 1155.9L962.2 1157.9L962.4 1159.9L962.7 1161.9L962.9 1163.9L963.1 1165.9L963.4 1167.9L963.6 1169.9L963.8 1171.9L964.1 1173.8L964.3 1175.8L964.5 1177.8L964.8 1179.8L965.0 1181.8L965.2 1183.8L965.4 1185.8L965.7 1187.8L965.9 1189.8L966.1 1191.7L966.3 1193.7L966.5 1195.7L966.8 1197.7L967.0 1199.7L967.2 1201.7L967.4 1203.7L967.6 1205.7L967.8 1207.6L968.0 1209.6L968.2 1211.6L968.4 1213.6L968.6 1215.6L968.8 1217.6L969.0 1219.6L969.2 1221.6L969.4 1223.5L969.6 1225.5L969.8 1227.5L970.0 1229.5L970.2 1231.5L970.4 1233.5L970.6 1235.5L970.8 1237.4L971.0 1239.4L971.2 1241.4L971.4 1243.4L971.6 1245.4L971.7 1247.4L971.9 1249.4L972.1 1251.4L972.3 1253.3L972.5 1255.3L972.6 1257.3L972.8 1259.3L973.0 1261.3L973.2 1263.3L973.3 1265.3L973.5 1267.3L973.7 1269.2L973.8 1271.2L974.0 1273.2L974.2 1275.2L974.3 1277.2L974.5 1279.2L974.7 1281.2L974.8 1283.2L975.0 1285.2L975.1 1287.1L975.3 1289.1L975.5 1291.1L975.6 1293.1L975.8 1295.1L975.9 1297.1L976.1 1299.1L976.2 1301.1L976.4 1303.1L976.5 1305.1L976.6 1307.0L976.8 1309.0L976.9 1311.0L977.1 1313.0L977.2 1315.0L977.4 1317.0L977.5 1319.0L977.6 1321.0L977.8 1323.0L977.9 1325.0L978.0 1327.0L978.2 1329.0L978.3 1331.0L978.4 1333.0L978.5 1334.9L978.7 1336.9L978.8 1338.9L978.9 1340.9L979.0 1342.9L979.2 1344.9L979.3 1346.9L979.4 1348.9L979.5 1350.9L979.6 1352.9L979.8 1354.9L979.9 1356.9L980.0 1358.9L980.1 1360.9L980.2 1362.9L980.3 1364.9L980.4 1366.9L980.5 1368.9L980.6 1370.9L980.7 1372.9L980.8 1374.9L980.9 1376.9L981.0 1378.9L981.1 1380.9L981.2 1382.9L981.3 1384.9L981.4 1386.9L981.5 1388.9L981.6 1390.9L981.7 1392.9L981.8 1394.9L981.9 1396.9L982.0 1399.0L982.1 1401.0L982.2 1403.0L982.2 1405.0L982.3 1407.0L982.4 1409.0L982.5 1411.0L982.6 1413.0L982.6 1415.0L982.7 1417.0L982.8 1419.0L982.9 1421.1L982.9 1423.1L983.0 1425.1L983.1 1427.1L983.2 1429.1L983.2 1431.1L983.3 1433.1L983.4 1435.2L983.4 1437.2L983.5 1439.2L983.6 1441.2L983.6 1443.2L983.7 1445.2L983.7 1447.3L983.8 1449.3L983.9 1451.3L983.9 1453.3L984.0 1455.3L984.0 1457.4L984.1 1459.4L984.1 1461.4L984.2 1463.4L984.2 1465.5L984.4 1471.4" stroke="#ff00ff"/><path d="M233.5 180.2L234.3 182.1L235.2 183.9L236.0 185.7L236.9 187.5L237.8 189.3L238.7 191.1L239.5 192.9L240.4 194.7L241.4 196.5L242.3 198.3L243.2 200.1L244.1 201.8L245.1 203.6L246.0 205.4L247.0 207.1L248.0 208.9L248.9 210.6L249.9 212.4L250.9 214.1L251.9 215.8L252.9 217.6L253.9 219.3L255.0 221.0L256.0 222.7L257.0 224.4L258.1 226.1L259.2 227.8L260.2 229.5L261.3 231.2L262.4 232.9L263.5 234.6L264.6 236.3L265.7 237.9L266.8 239.6L267.9 241.3L269.0 242.9L270.1 244.6L271.3 246.2L272.4 247.9L273.6 249.5L274.7 251.1L275.9 252.8L277.1 254.4L278.3 256.0L279.4 257.6L280.6 259.2L281.8 260.8L283.0 262.4L284.3 264.0L285.5 265.6L286.7 267.2L287.9 268.8L289.2 270.4L290.4 271.9L291.7 273.5L292.9 275.1L294.2 276.6L295.4 278.2L296.7 279.7L298.0 281.3L299.3 282.8L300.6 284.3L301.9 285.9L303.2 287.4L304.5 288.9L305.8 290.4L307.1 291.9L308.4 293.4L309.7 294.9L311.1 296.4L312.4 297.9L313.8 299.4L315.1 300.9L316.5 302.4L317.8 303.9L319.2 305.3L320.5 306.8L321.9 308.3L323.3 309.7L324.7 311.2L326.0 312.6L327.4 314.1L328.8 315.5L330.2 316.9L331.6 318.4L333.0 319.8L334.4 321.2L335.8 322.6L337.3 324.0L338.7 325.5L340.1 326.9L341.5 328.3L343.0 329.7L344.4 331.0L345.9 332.4L347.3 333.8L348.7 335.2L350.2 336.6L351.7 338.0L353.1 339.3L354.6 340.7L356.0 342.1L357.5 343.4L359.0 344.8L360.5 346.1L361.9 347.5L363.4 348.8L364.9 350.2L366.4 351.5L367.9 352.8L369.4 354.2L370.9 355.5L372.4 356.8L373.9 358.1L375.4 359.4L376.9 360.8L378.4 362.1L380.0 363.4L381.5 364.7L383.0 366.0L384.5 367.3L386.1 368.6L387.6 369.9L389.1 371.2L390.7 372.4L392.2 373.7L393.7 375.0L395.3 376.3L396.8 377.6L398.4 378.8L399.9 380.1L401.5 381.4L403.0 382.6L404.6 383.9L406.2 385.2L407.7 386.4L409.3 387.7L410.9 388.9L412.4 390.2L414.0 391.4L415.6 392.6L417.1 393.9L418.7 395.1L420.3 396.4L421.9 397.6L423.5 398.8L425.0 400.1L426.6 401.3L428.2 402.5L429.8 403.7L431.4 405.0L433.0 406.2L434.6 407.4L436.2 408.6L437.7 409.8L439.3 411.0L440.9 412.2L442.5 413.5L444.1 414.7L445.7 415.9L447.3 417.1L448.9 418.3L450.5 419.5L452.2 420.7L453.8 421.9L455.4 423.0L457.0 424.2L458.6 425.4L460.2 426.6L461.8 427.8L463.4 429.0L465.0 430.2L466.7 431.3L468.3 432.5L469.9 433.7L471.5 434.9L473.1 436.1L474.7 437.2L476.4 438.4L478.0 439.6L479.6 440.8L481.2 441.9L482.9 443.1L484.5 444.3L486.1 445.4L487.8 446.6L489.4 447.7L491.0 448.9L492.6 450.1L494.3 451.2L495.9 452.4L497.6 453.5L499.2 454.7L500.8 455.9L502.5 457.0L504.1 458.2L505.7 459.3L507.4 460.5L509.0 461.6L510.7 462.8L512.3 463.9L514.0 465.1L515.6 466.2L517.2 467.3L518.9 468.5L520.5 469.6L522.2 470.8L523.8 471.9L525.5 473.1L527.1 474.2L528.8 475.3L530.4 476.5L532.1 477.6L533.7 478.7L535.4 479.9L537.0 481.0L538.7 482.2L540.3 483.3L542.0 484.4L543.6 485.6L545.3 486.7L546.9 487.8L548.6 488.9L550.2 490.1L551.9 491.2L553.6 492.3L555.2 493.4L556.9 494.5L558.6 495.7L560.2 496.8L561.9 497.9L563.6 499.0L565.2 500.1L566.9 501.2L568.6 502.3L570.3 503.4L571.9 504.5L573.6 505.5L575.3 506.6L577.0 507.7L578.7 508.8L580.4 509.9L582.0 511.0L583.7 512.0L585.4 513.1L587.1 514.2L588.8 515.3L590.5 516.4L592.2 517.4L593.9 518.5L595.6 519.6L597.2 520.7L598.9 521.8L600.6 522.8L602.3 523.9L604.0 525.0L605.7 526.1L607.3 527.2L609.0 528.3L610.7 529.4L612.4 530.5L614.0 531.6L615.7 532.7L617.4 533.8L619.1 534.9L620.7 536.0L622.4 537.1L624.0 538.3L625.7 539.4L627.3 540.5L629.0 541.7L630.6 542.8L632.3 543.9L633.9 545.1L635.6 546.2L637.2 547.4L638.8 548.6L640.5 549.7L642.1 550.9L643.7 552.0L645.4 553.2L647.0 554.3L648.7 555.5L650.3 556.6L652.0 557.7L653.6 558.9L655.3 560.0L656.9 561.1L658.6 562.2L660.2 563.4L661.9 564.5L663.6 565.6L665.2 566.7L666.9 567.8L668.6 568.9L670.3 570.0L671.9 571.1L673.6 572.2L675.3 573.3L677.0 574.3L678.7 575.4L680.4 576.5L682.0 577.6L683.7 578.7L685.4 579.7L687.1 580.8L688.8 581.9L690.5 582.9L692.2 584.0L693.9 585.1L695.6 586.1L697.3 587.2L699.0 588.2L700.7 589.3L702.4 590.4L704.1 591.4L705.8 592.5L707.5 593.5L709.2 594.6L710.9 595.6L712.6 596.7L714.3 597.7L716.1 598.7L717.8 599.8L719.5 600.8L721.2 601.9L722.9 602.9L724.6 604.0L726.3 605.0L728.0 606.1L729.7 607.1L731.4 608.1L733.1 609.2L734.8 610.2L736.5 611.3L738.3 612.3L740.0 613.3L741.7 614.4L743.4 615.4L745.1 616.5L746.8 617.5L748.5 618.6L750.2 619.6L751.9 620.6L753.6 621.7L755.3 622.7L757.0 623.8L758.7 624.8L760.5 625.9L762.2 626.9L763.9 628.0L765.6 629.0L767.3 630.0L769.0 631.1L770.7 632.1L772.4 633.2L774.1 634.2L775.8 635.3L777.5 636.3L779.2 637.4L780.9 638.4L782.6 639.5L784.3 640.6L786.0 641.6L787.7 642.7L789.4 643.7L791.1 644.8L792.8 645.9L794.5 646.9L796.2 648.0L797.9 649.0L799.6 650.1L801.3 651.2L803.0 652.3L804.7 653.3L806.4 654.4L808.1 655.5L809.8 656.5L811.4 657.6L813.1 658.7L814.8 659.8L816.5 660.9L818.2 662.0L819.9 663.0L821.6 664.1L823.3 665.2L824.9 666.3L826.6 667.4L828.3 668.5L830.0 669.6L831.7 670.7L833.3 671.8L835.0 672.9L836.7 674.0L838.4 675.2L840.0 676.3L841.7 677.4L843.4 678.5L845.0 679.6L846.7 680.8L848.4 681.9L850.0 683.0L851.7 684.2L853.3 685.3L855.0 686.5L856.6 687.6L858.2 688.8L859.9 689.9L861.5 691.1L863.1 692.3L864.8 693.5L866.4 694.6L868.0 695.8L869.6 697.0L871.2 698.2L872.9 699.4L874.5 700.6L876.1 701.8L877.7 703.0L879.3 704.2L880.8 705.4L882.4 706.6L884.0 707.9L885.6 709.1L887.1 710.4L888.7 711.6L890.3 712.8L891.8 714.1L893.4 715.4L894.9 716.6L896.5 717.9L898.0 719.2L899.5 720.5L901.0 721.8L902.6 723.1L904.1 724.4L905.6 725.7L907.1 727.0L908.6 728.3L910.1 729.7L911.5 731.0L913.0 732.3L914.5 733.7L915.9 735.1L917.4 736.4L918.8 737.8L920.3 739.2L921.7 740.6L923.2 741.9L924.6 743.3L926.0 744.7L927.4 746.2L928.8 747.6L930.2 749.0L931.6 750.4L933.0 751.9L934.4 753.3L935.8 754.7L937.1 756.2L938.5 757.6L939.9 759.1L941.2 760.6L942.6 762.0L943.9 763.5L945.3 765.0L946.6 766.5L947.9 768.0L949.3 769.5L950.6 771.0L951.9 772.5L953.2 774.0L954.5 775.5L955.8 777.0L957.1 778.6L958.4 780.1L959.7 781.6L961.0 783.1L962.3 784.7L963.6 786.2L964.8 787.8L966.1 789.3L967.4 790.9L968.6 792.4L969.9 794.0L971.2 795.6L972.4 797.1L973.7 798.7L974.9 800.3L976.2 801.8L977.4 803.4L978.6 805.0L979.9 806.6L981.1 808.2L982.3 809.8L983.5 811.3L984.7 812.9L986.0 814.5L987.2 816.1L988.4 817.7L989.6 819.3L990.8 821.0L992.0 822.6L993.1 824.2L994.3 825.8L995.5 827.4L996.7 829.1L997.8 830.7L999.0 832.3L1000.2 834.0L1001.3 835.6L1002.5 837.2L1003.6 838.9L1004.7 840.5L1005.9 842.2L1007.0 843.8L1008.1 845.5L1009.2 847.2L1010.3 848.8L1011.4 850.5L1012.5 852.2L1013.6 853.9L1014.7 855.5L1015.8 857.2L1016.8 858.9L1017.9 860.6L1018.9 862.3L1020.0 864.0L1021.0 865.7L1022.1 867.4L1023.1 869.1L1024.1 870.9L1025.1 872.6L1026.1 874.3L1027.1 876.0L1028.1 877.8L1029.1 879.5L1030.1 881.2L1031.0 883.0L1032.0 884.7L1032.9 886.5L1033.9 888.2L1034.8 890.0L1035.7 891.8L1036.7 893.5L1037.6 895.3L1038.5 897.1L1039.4 898.9L1040.2 900.7L1041.1 902.5L1042.0 904.3L1042.8 906.1L1043.7 907.9L1044.5 909.7L1045.4 911.5L1046.2 913.3L1047.0 915.1L1047.8 916.9L1048.6 918.8L1049.4 920.6L1050.2 922.4L1051.0 924.3L1051.7 926.1L1052.5 928.0L1053.2 929.8L1054.0 931.7L1054.7 933.5L1055.5 935.4L1056.2 937.2L1056.9 939.1L1057.6 941.0L1058.3 942.9L1059.0 944.7L1059.7 946.6L1060.4 948.5L1061.1 950.4L1061.8 952.3L1062.4 954.1L1063.1 956.0L1063.7 957.9L1064.4 959.8L1065.0 961.7L1065.7 963.6L1066.3 965.5L1066.9 967.4L1067.6 969.3L1068.2 971.2L1068.8 973.2L1069.4 975.1L1070.0 977.0L1070.6 978.9L1071.2 980.8L1071.8 982.7L1072.3 984.7L1072.9 986.6L1073.5 988.5L1074.1 990.4L1074.6 992.4L1075.2 994.3L1075.7 996.2L1076.3 998.2L1076.8 1000.1L1077.4 1002.0L1077.9 1004.0L1078.5 1005.9L1079.0 1007.8L1079.5 1009.8L1080.0 1011.7L1080.6 1013.6L1081.1 1015.6L1081.6 1017.5L1082.1 1019.5L1082.6 1021.4L1083.1 1023.4L1083.6 1025.3L1084.1 1027.2L1084.6 1029.2L1085.1 1031.1L1085.6 1033.1L1086.1 1035.0L1086.6 1037.0L1087.1 1038.9L1087.5 1040.9L1088.0 1042.8L1088.5 1044.8L1089.0 1046.7L1089.4 1048.7L1089.9 1050.6L1090.4 1052.6L1090.8 1054.5L1091.3 1056.5L1091.7 1058.4L1092.2 1060.4L1092.6 1062.3L1093.1 1064.3L1093.5 1066.2L1093.9 1068.2L1094.4 1070.1L1094.8 1072.1L1095.2 1074.1L1095.7 1076.0L1096.1 1078.0L1096.5 1079.9L1096.9 1081.9L1097.3 1083.8L1097.8 1085.8L1098.2 1087.8L1098.6 1089.7L1099.0 1091.7L1099.4 1093.7L1099.8 1095.6L1100.2 1097.6L1100.6 1099.5L1101.0 1101.5L1101.4 1103.5L1101.7 1105.4L1102.1 1107.4L1102.5 1109.4L1102.9 1111.3L1103.3 1113.3L1103.6 1115.3L1104.0 1117.2L1104.4 1119.2L1104.7 1121.2L1105.1 1123.1L1105.5 1125.1L1105.8 1127.1L1106.2 1129.0L1106.5 1131.0L1106.9 1133.0L1107.2 1134.9L1107.6 1136.9L1107.9 1138.9L1108.3 1140.9L1108.6 1142.8L1108.9 1144.8L1109.3 1146.8L1109.6 1148.8L1109.9 1150.7L1110.2 1152.7L1110.6 1154.7L1110.9 1156.7L1111.2 1158.6L1111.5 1160.6L1111.8 1162.6L1112.1 1164.6L1112.5 1166.5L1112.8 1168.5L1113.1 1170.5L1113.4 1172.5L1113.7 1174.4L1114.0 1176.4L1114.3 1178.4L1114.6 1180.4L1114.8 1182.4L1115.1 1184.3L1115.4 1186.3L1115.7 1188.3L1116.0 1190.3L1116.3 1192.3L1116.5 1194.3L1116.8 1196.2L1117.1 1198.2L1117.4 1200.2L1117.6 1202.2L1117.9 1204.2L1118.2 1206.2L1118.4 1208.1L1118.7 1210.1L1118.9 1212.1L1119.2 1214.1L1119.5 1216.1L1119.7 1218.1L1120.0 1220.0L1120.2 1222.0L1120.4 1224.0L1120.7 1226.0L1120.9 1228.0L1121.2 1230.0L1121.4 1232.0L1121.6 1234.0L1121.9 1235.9L1122.1 1237.9L1122.3 1239.9L1122.6 1241.9L1122.8 1243.9L1123.0 1245.9L1123.2 1247.9L1123.5 1249.9L1123.7 1251.9L1123.9 1253.9L1124.1 1255.8L1124.3 1257.8L1124.5 1259.8L1124.7 1261.8L1125.0 1263.8L1125.2 1265.8L1125.4 1267.8L1125.6 1269.8L1125.8 1271.8L1126.0 1273.8L1126.2 1275.8L1126.4 1277.8L1126.6 1279.8L1126.7 1281.7L1126.9 1283.7L1127.1 1285.7L1127.3 1287.7L1127.5 1289.7L1127.7 1291.7L1127.9 1293.7L1128.0 1295.7L1128.2 1297.7L1128.4 1299.7L1128.6 1301.7L1128.7 1303.7L1128.9 1305.7L1129.1 1307.7L1129.2 1309.7L1129.4 1311.7L1129.6 1313.7L1129.7 1315.7L1129.9 1317.7L1130.1 1319.7L1130.2 1321.7L1130.4 1323.7L1130.5 1325.7L1130.7 1327.7L1130.8 1329.7L1131.0 1331.7L1131.1 1333.7L1131.3 1335.7L1131.4 1337.6L1131.6 1339.6L1131.7 1341.6L1131.9 1343.6L1132.0 1345.6L1132.1 1347.6L1132.3 1349.6L1132.4 1351.6L1132.6 1353.6L1132.7 1355.6L1132.8 1357.6L1133.0 1359.6L1133.1 1361.6L1133.2 1363.6L1133.3 1365.6L1133.5 1367.6L1133.6 1369.6L1133.7 1371.6L1133.8 1373.6L1134.0 1375.6L1134.1 1377.6L1134.2 1379.6L1134.3 1381.6L1134.4 1383.6L1134.6 1385.6L1134.7 1387.6L1134.8 1389.7L1134.9 1391.7L1135.0 1393.7L1135.1 1395.7L1135.2 1397.7L1135.3 1399.7L1135.4 1401.7L1135.5 1403.7L1135.6 1405.7L1135.7 1407.7L1135.8 1409.7L1135.9 1411.7L1136.0 1413.7L1136.1 1415.7L1136.2 1417.7L1136.3 1419.7L1136.4 1421.7L1136.5 1423.7L1136.6 1425.7L1136.7 1427.7L1136.8 1429.7L1136.9 1431.7L1137.0 1433.7L1137.1 1435.7L1137.2 1437.7L1137.2 1439.7L1137.3 1441.7L1137.4 1443.7L1137.5 1445.7L1137.6 1447.7L1137.7 1449.7L1137.7 1451.7L1137.8 1453.7L1137.9 1455.7L1138.0 1457.7L1138.1 1459.7L1138.1 1461.7L1138.2 1463.7L1138.3 1465.7L1138.4 1467.7L1138.6 1473.7" stroke="#0000ff"/><path d="M233.5 180.3L234.3 182.1L235.2 184.0L236.1 185.8L237.0 187.7L237.8 189.5L238.7 191.3L239.7 193.1L240.6 194.9L241.5 196.7L242.4 198.5L243.4 200.3L244.3 202.1L245.3 203.9L246.2 205.7L247.2 207.4L248.2 209.2L249.2 211.0L250.2 212.7L251.2 214.5L252.2 216.2L253.2 217.9L254.2 219.7L255.2 221.4L256.3 223.1L257.3 224.8L258.4 226.5L259.4 228.2L260.5 229.9L261.6 231.6L262.7 233.3L263.8 235.0L264.9 236.6L266.0 238.3L267.1 240.0L268.2 241.6L269.3 243.3L270.5 244.9L271.6 246.6L272.7 248.2L273.9 249.8L275.0 251.4L276.2 253.1L277.4 254.7L278.6 256.3L279.7 257.9L280.9 259.5L282.1 261.1L283.3 262.7L284.5 264.2L285.8 265.8L287.0 267.4L288.2 269.0L289.4 270.5L290.7 272.1L291.9 273.6L293.2 275.2L294.4 276.7L295.7 278.3L297.0 279.8L298.2 281.3L299.5 282.9L300.8 284.4L302.1 285.9L303.4 287.4L304.7 288.9L306.0 290.4L307.3 291.9L308.7 293.4L310.0 294.9L311.3 296.4L312.6 297.9L314.0 299.3L315.3 300.8L316.7 302.3L318.0 303.7L319.4 305.2L320.8 306.7L322.1 308.1L323.5 309.6L324.9 311.0L326.3 312.4L327.7 313.9L329.1 315.3L330.5 316.7L331.9 318.1L333.3 319.6L334.7 321.0L336.1 322.4L337.5 323.8L339.0 325.2L340.4 326.6L341.8 328.0L343.3 329.4L344.7 330.7L346.1 332.1L347.6 333.5L349.1 334.9L350.5 336.3L352.0 337.6L353.4 339.0L354.9 340.3L356.4 341.7L357.9 343.1L359.4 344.4L360.8 345.7L362.3 347.1L363.8 348.4L365.3 349.8L366.8 351.1L368.3 352.4L369.8 353.8L371.3 355.1L372.9 356.4L374.4 357.7L375.9 359.0L377.4 360.3L378.9 361.6L380.5 362.9L382.0 364.2L383.5 365.5L385.1 366.8L386.6 368.1L388.2 369.4L389.7 370.7L391.3 372.0L392.8 373.2L394.4 374.5L395.9 375.8L397.5 377.1L399.1 378.3L400.6 379.6L402.2 380.9L403.8 382.1L405.3 383.4L406.9 384.6L408.5 385.9L410.1 387.1L411.7 388.4L413.2 389.6L414.8 390.9L416.4 392.1L418.0 393.3L419.6 394.6L421.2 395.8L422.8 397.0L424.4 398.2L426.0 399.5L427.6 400.7L429.2 401.9L430.8 403.1L432.4 404.3L434.0 405.5L435.6 406.8L437.2 408.0L438.8 409.2L440.4 410.4L442.1 411.6L443.7 412.8L445.3 414.0L446.9 415.2L448.5 416.4L450.1 417.5L451.8 418.7L453.4 419.9L455.0 421.1L456.6 422.3L458.3 423.5L459.9 424.6L461.5 425.8L463.1 427.0L464.8 428.2L466.4 429.3L468.0 430.5L469.7 431.7L471.3 432.8L472.9 434.0L474.6 435.2L476.2 436.3L477.9 437.5L479.5 438.6L481.1 439.8L482.8 440.9L484.4 442.1L486.1 443.2L487.7 444.4L489.4 445.5L491.0 446.7L492.7 447.8L494.3 449.0L496.0 450.1L497.6 451.2L499.3 452.4L500.9 453.5L502.6 454.6L504.2 455.7L505.9 456.9L507.5 458.0L509.2 459.1L510.9 460.2L512.5 461.4L514.2 462.5L515.8 463.6L517.5 464.7L519.2 465.8L520.8 466.9L522.5 468.0L524.2 469.1L525.8 470.2L527.5 471.3L529.2 472.4L530.9 473.5L532.5 474.6L534.2 475.7L535.9 476.8L537.5 477.9L539.2 479.0L540.9 480.1L542.6 481.2L544.3 482.3L545.9 483.4L547.6 484.4L549.3 485.5L551.0 486.6L552.7 487.7L554.4 488.8L556.0 489.8L557.7 490.9L559.4 492.0L561.1 493.0L562.8 494.1L564.5 495.2L566.2 496.2L567.9 497.3L569.6 498.4L571.3 499.4L573.0 500.5L574.7 501.5L576.4 502.6L578.0 503.7L579.7 504.7L581.4 505.8L583.1 506.8L584.9 507.9L586.6 508.9L588.3 509.9L590.0 511.0L591.7 512.0L593.4 513.1L595.1 514.1L596.8 515.1L598.5 516.2L600.2 517.2L601.9 518.2L603.6 519.3L605.3 520.3L607.1 521.3L608.8 522.4L610.5 523.4L612.2 524.4L613.9 525.4L615.6 526.5L617.3 527.5L619.1 528.5L620.8 529.5L622.5 530.5L624.2 531.5L625.9 532.5L627.7 533.6L629.4 534.6L631.1 535.6L632.8 536.6L634.6 537.6L636.3 538.6L638.0 539.6L639.8 540.6L641.5 541.6L643.2 542.6L644.9 543.6L646.7 544.6L648.4 545.6L650.1 546.6L651.9 547.6L653.6 548.6L655.3 549.5L657.1 550.5L658.8 551.5L660.6 552.5L662.3 553.5L664.0 554.5L665.8 555.5L667.5 556.4L669.3 557.4L671.0 558.4L672.7 559.4L674.5 560.3L676.2 561.3L678.0 562.3L679.7 563.3L681.5 564.2L683.2 565.2L685.0 566.2L686.7 567.1L688.5 568.1L690.2 569.1L692.0 570.0L693.7 571.0L695.5 572.0L697.2 572.9L699.0 573.9L700.7 574.8L702.5 575.8L704.2 576.7L706.0 577.7L707.8 578.7L709.5 579.6L711.3 580.6L713.0 581.5L714.8 582.5L716.5 583.4L718.3 584.3L720.1 585.3L721.8 586.2L723.6 587.2L725.4 588.1L727.1 589.1L728.9 590.0L730.7 590.9L732.4 591.9L734.2 592.8L736.0 593.8L737.7 594.7L739.5 595.6L741.3 596.6L743.0 597.5L744.8 598.4L746.6 599.3L748.3 600.3L750.1 601.2L751.9 602.1L753.7 603.1L755.4 604.0L757.2 604.9L759.0 605.8L760.8 606.8L762.5 607.7L764.3 608.6L766.1 609.5L767.9 610.4L769.6 611.3L771.4 612.3L773.2 613.2L775.0 614.1L776.8 615.0L778.5 615.9L780.3 616.8L782.1 617.7L783.9 618.7L785.7 619.6L787.5 620.5L789.2 621.4L791.0 622.3L792.8 623.2L794.6 624.1L796.4 625.0L798.2 625.9L800.0 626.8L801.7 627.7L803.5 628.6L805.3 629.5L807.1 630.4L808.9 631.3L810.7 632.2L812.5 633.1L814.3 634.0L816.1 634.9L817.9 635.8L819.7 636.7L821.5 637.6L823.2 638.5L825.0 639.4L826.8 640.2L828.6 641.1L830.4 642.0L832.2 642.9L834.0 643.8L835.8 644.7L837.6 645.6L839.4 646.5L841.2 647.4L843.0 648.2L844.8 649.1L846.6 650.0L848.4 650.9L850.2 651.8L852.0 652.6L853.8 653.5L855.6 654.4L857.4 655.3L859.2 656.2L861.0 657.0L862.8 657.9L864.6 658.8L866.4 659.7L868.2 660.5L870.0 661.4L871.9 662.3L873.7 663.2L875.5 664.0L877.3 664.9L879.1 665.8L880.9 666.7L882.7 667.5L884.5 668.4L886.3 669.3L888.1 670.1L889.9 671.0L891.7 671.9L893.6 672.7L895.4 673.6L897.2 674.5L899.0 675.3L900.8 676.2L902.6 677.1L904.4 677.9L906.2 678.8L908.0 679.7L909.9 680.5L911.7 681.4L913.5 682.3L915.3 683.1L917.1 684.0L918.9 684.8L920.7 685.7L922.6 686.6L924.4 687.4L926.2 688.3L928.0 689.1L929.8 690.0L931.6 690.9L933.5 691.7L935.3 692.6L937.1 693.4L938.9 694.3L940.7 695.1L942.5 696.0L944.4 696.8L946.2 697.7L948.0 698.6L949.8 699.4L951.6 700.3L953.5 701.1L955.3 702.0L957.1 702.8L958.9 703.7L960.7 704.5L962.6 705.4L964.4 706.2L966.2 707.1L968.0 707.9L969.9 708.8L971.7 709.6L973.5 710.5L975.3 711.3L977.1 712.2L979.0 713.0L980.8 713.9L982.6 714.7L984.4 715.6L986.3 716.4L988.1 717.3L989.9 718.1L991.7 719.0L993.6 719.8L995.4 720.7L997.2 721.5L999.0 722.4L1000.9 723.2L1002.7 724.1L1004.5 724.9L1006.3 725.8L1008.2 726.6L1010.0 727.5L1011.8 728.3L1013.6 729.2L1015.5 730.0L1017.3 730.9L1019.1 731.7L1020.9 732.6L1022.7 733.4L1024.6 734.3L1026.4 735.1L1028.2 736.0L1030.0 736.8L1031.9 737.7L1033.7 738.6L1035.5 739.4L1037.3 740.3L1039.1 741.1L1040.9 742.0L1042.8 742.9L1044.6 743.7L1046.4 744.6L1048.2 745.5L1050.0 746.3L1051.8 747.2L1053.6 748.1L1055.5 748.9L1057.3 749.8L1059.1 750.7L1060.9 751.6L1062.7 752.5L1064.5 753.3L1066.3 754.2L1068.1 755.1L1069.9 756.0L1071.7 756.9L1073.5 757.8L1075.3 758.7L1077.1 759.6L1078.9 760.5L1080.7 761.4L1082.5 762.3L1084.3 763.2L1086.1 764.1L1087.9 765.0L1089.7 765.9L1091.5 766.8L1093.2 767.7L1095.0 768.6L1096.8 769.6L1098.6 770.5L1100.4 771.4L1102.1 772.3L1103.9 773.3L1105.7 774.2L1107.5 775.1L1109.2 776.1L1111.0 777.0L1112.8 778.0L1114.5 778.9L1116.3 779.9L1118.1 780.8L1119.8 781.8L1121.6 782.8L1123.3 783.7L1125.1 784.7L1126.9 785.7L1128.6 786.6L1130.4 787.6L1132.1 788.6L1133.8 789.6L1135.6 790.6L1137.3 791.6L1139.1 792.6L1140.8 793.6L1142.5 794.6L1144.3 795.6L1146.0 796.6L1147.7 797.6L1149.4 798.6L1151.2 799.7L1152.9 800.7L1154.6 801.7L1156.3 802.7L1158.0 803.8L1159.7 804.8L1161.4 805.9L1163.1 806.9L1164.8 808.0L1166.5 809.1L1168.2 810.1L1169.9 811.2L1171.6 812.3L1173.3 813.4L1175.0 814.4L1176.7 815.5L1178.4 816.6L1180.0 817.7L1181.7 818.8L1183.4 819.9L1185.0 821.1L1186.7 822.2L1188.4 823.3L1190.0 824.4L1191.7 825.6L1193.3 826.7L1195.0 827.9L1196.6 829.0L1198.2 830.2L1199.9 831.3L1201.5 832.5L1203.1 833.6L1204.8 834.8L1206.4 836.0L1208.0 837.2L1209.6 838.4L1211.2 839.6L1212.8 840.8L1214.4 842.0L1216.0 843.2L1217.6 844.4L1219.2 845.6L1220.8 846.8L1222.4 848.1L1223.9 849.3L1225.5 850.5L1227.1 851.8L1228.6 853.0L1230.2 854.3L1231.7 855.6L1233.3 856.8L1234.8 858.1L1236.4 859.4L1237.9 860.7L1239.4 861.9L1240.9 863.2L1242.5 864.5L1244.0 865.8L1245.5 867.1L1247.0 868.5L1248.5 869.8L1250.0 871.1L1251.5 872.4L1252.9 873.8L1254.4 875.1L1255.9 876.5L1257.3 877.8L1258.8 879.2L1260.2 880.5L1261.7 881.9L1263.1 883.3L1264.6 884.7L1266.0 886.1L1267.4 887.5L1268.8 888.9L1270.2 890.3L1271.6 891.7L1273.0 893.1L1274.4 894.5L1275.8 895.9L1277.2 897.4L1278.5 898.8L1279.9 900.2L1281.3 901.7L1282.6 903.2L1283.9 904.6L1285.3 906.1L1286.6 907.6L1287.9 909.0L1289.2 910.5L1290.6 912.0L1291.9 913.5L1293.1 915.0L1294.4 916.5L1295.7 918.0L1297.0 919.6L1298.2 921.1L1299.5 922.6L1300.8 924.2L1302.0 925.7L1303.2 927.3L1304.5 928.8L1305.7 930.4L1306.9 932.0L1308.1 933.5L1309.3 935.1L1310.5 936.7L1311.7 938.3L1312.8 939.9L1314.0 941.5L1315.2 943.1L1316.3 944.7L1317.5 946.3L1318.6 948.0L1319.8 949.6L1320.9 951.2L1322.0 952.9L1323.1 954.5L1324.2 956.1L1325.3 957.8L1326.4 959.5L1327.5 961.1L1328.6 962.8L1329.7 964.5L1330.7 966.2L1331.8 967.8L1332.8 969.5L1333.9 971.2L1334.9 972.9L1336.0 974.6L1337.0 976.3L1338.0 978.0L1339.0 979.8L1340.0 981.5L1341.0 983.2L1342.0 984.9L1343.0 986.7L1344.0 988.4L1344.9 990.2L1345.9 991.9L1346.9 993.7L1347.8 995.4L1348.8 997.2L1349.7 998.9L1350.7 1000.7L1351.6 1002.5L1352.5 1004.2L1353.4 1006.0L1354.3 1007.8L1355.2 1009.6L1356.1 1011.4L1357.0 1013.2L1357.9 1015.0L1358.8 1016.8L1359.7 1018.6L1360.5 1020.4L1361.4 1022.2L1362.2 1024.0L1363.1 1025.8L1363.9 1027.7L1364.8 1029.5L1365.6 1031.3L1366.4 1033.1L1367.3 1035.0L1368.1 1036.8L1368.9 1038.7L1369.7 1040.5L1370.5 1042.4L1371.3 1044.2L1372.1 1046.1L1372.8 1047.9L1373.6 1049.8L1374.4 1051.6L1375.1 1053.5L1375.9 1055.4L1376.6 1057.2L1377.4 1059.1L1378.1 1061.0L1378.9 1062.9L1379.6 1064.7L1380.3 1066.6L1381.0 1068.5L1381.7 1070.4L1382.4 1072.3L1383.1 1074.2L1383.8 1076.1L1384.5 1078.0L1385.2 1079.9L1385.9 1081.8L1386.6 1083.7L1387.2 1085.6L1387.9 1087.5L1388.6 1089.4L1389.2 1091.3L1389.9 1093.2L1390.5 1095.1L1391.2 1097.0L1391.8 1099.0L1392.4 1100.9L1393.0 1102.8L1393.7 1104.7L1394.3 1106.7L1394.9 1108.6L1395.5 1110.5L1396.1 1112.4L1396.7 1114.4L1397.3 1116.3L1397.8 1118.2L1398.4 1120.2L1399.0 1122.1L1399.6 1124.0L1400.1 1126.0L1400.7 1127.9L1401.2 1129.8L1401.8 1131.8L1402.3 1133.7L1402.9 1135.7L1403.4 1137.6L1404.0 1139.6L1404.5 1141.5L1405.0 1143.5L1405.5 1145.4L1406.0 1147.3L1406.5 1149.3L1407.0 1151.2L1407.5 1153.2L1408.0 1155.1L1408.5 1157.1L1409.0 1159.1L1409.5 1161.0L1410.0 1163.0L1410.5 1164.9L1410.9 1166.9L1411.4 1168.8L1411.9 1170.8L1412.3 1172.8L1412.8 1174.7L1413.2 1176.7L1413.7 1178.6L1414.1 1180.6L1414.5 1182.6L1415.0 1184.5L1415.4 1186.5L1415.8 1188.5L1416.3 1190.4L1416.7 1192.4L1417.1 1194.4L1417.5 1196.3L1417.9 1198.3L1418.3 1200.3L1418.7 1202.2L1419.1 1204.2L1419.5 1206.2L1419.9 1208.1L1420.3 1210.1L1420.6 1212.1L1421.0 1214.1L1421.4 1216.0L1421.8 1218.0L1422.1 1220.0L1422.5 1222.0L1422.9 1223.9L1423.2 1225.9L1423.6 1227.9L1423.9 1229.9L1424.3 1231.9L1424.6 1233.8L1425.0 1235.8L1425.3 1237.8L1425.6 1239.8L1426.0 1241.8L1426.3 1243.7L1426.6 1245.7L1426.9 1247.7L1427.2 1249.7L1427.6 1251.7L1427.9 1253.6L1428.2 1255.6L1428.5 1257.6L1428.8 1259.6L1429.1 1261.6L1429.4 1263.6L1429.7 1265.6L1430.0 1267.5L1430.3 1269.5L1430.6 1271.5L1430.8 1273.5L1431.1 1275.5L1431.4 1277.5L1431.7 1279.5L1432.0 1281.5L1432.2 1283.4L1432.5 1285.4L1432.8 1287.4L1433.0 1289.4L1433.3 1291.4L1433.5 1293.4L1433.8 1295.4L1434.1 1297.4L1434.3 1299.4L1434.6 1301.3L1434.8 1303.3L1435.0 1305.3L1435.3 1307.3L1435.5 1309.3L1435.8 1311.3L1436.0 1313.3L1436.2 1315.3L1436.5 1317.3L1436.7 1319.3L1436.9 1321.3L1437.2 1323.2L1437.4 1325.2L1437.6 1327.2L1437.8 1329.2L1438.0 1331.2L1438.3 1333.2L1438.5 1335.2L1438.7 1337.2L1438.9 1339.2L1439.1 1341.2L1439.3 1343.2L1439.5 1345.1L1439.7 1347.1L1439.9 1349.1L1440.1 1351.1L1440.3 1353.1L1440.5 1355.1L1440.7 1357.1L1440.9 1359.1L1441.1 1361.1L1441.3 1363.1L1441.5 1365.1L1441.7 1367.0L1441.9 1369.0L1442.0 1371.0L1442.2 1373.0L1442.4 1375.0L1442.6 1377.0L1442.8 1379.0L1442.9 1381.0L1443.1 1383.0L1443.3 1384.9L1443.5 1386.9L1443.7 1388.9L1443.8 1390.9L1444.0 1392.9L1444.2 1394.9L1444.3 1396.9L1444.5 1398.8L1444.7 1400.8L1444.8 1402.8L1445.0 1404.8L1445.2 1406.8L1445.3 1408.8L1445.5 1410.8L1445.7 1412.7L1445.8 1414.7L1446.0 1416.7L1446.2 1418.7L1446.3 1420.7L1446.5 1422.6L1446.6 1424.6L1446.8 1426.6L1447.0 1428.6L1447.1 1430.6L1447.3 1432.5L1447.4 1434.5L1447.6 1436.5L1447.7 1438.5L1447.9 1440.5L1448.1 1442.4L1448.2 1444.4L1448.4 1446.4L1448.5 1448.4L1448.7 1450.3L1448.8 1452.3L1449.0 1454.3L1449.1 1456.2L1449.3 1458.2L1449.4 1460.2L1449.6 1462.2L1449.8 1464.1L1449.9 1466.1L1450.4 1472.1" stroke="#000000" stroke-width="8.4"/></g></g><rect x="1228.0" y="117.5" width="717.0" height="513.5" fill="#fff"/><g fill="#262626" shape-rendering="crispEdges"><rect x="1226.00" y="116.00" width="721.00" height="3.00"/><rect x="1226.00" y="629.00" width="721.00" height="4.00"/><rect x="1226.00" y="116.00" width="4.00" height="517.00"/><rect x="1943.00" y="116.00" width="4.00" height="517.00"/><rect x="1369.65" y="621.83" width="3.50" height="9.17"/><rect x="1369.65" y="117.50" width="3.50" height="9.17"/><rect x="1513.05" y="621.83" width="3.50" height="9.17"/><rect x="1513.05" y="117.50" width="3.50" height="9.17"/><rect x="1656.45" y="621.83" width="3.50" height="9.17"/><rect x="1656.45" y="117.50" width="3.50" height="9.17"/><rect x="1799.85" y="621.83" width="3.50" height="9.17"/><rect x="1799.85" y="117.50" width="3.50" height="9.17"/><rect x="1228.00" y="551.96" width="5.59" height="3.50"/><rect x="1939.41" y="551.96" width="5.59" height="3.50"/><rect x="1228.00" y="506.75" width="5.59" height="3.50"/><rect x="1939.41" y="506.75" width="5.59" height="3.50"/><rect x="1228.00" y="474.67" width="5.59" height="3.50"/><rect x="1939.41" y="474.67" width="5.59" height="3.50"/><rect x="1228.00" y="449.79" width="5.59" height="3.50"/><rect x="1939.41" y="449.79" width="5.59" height="3.50"/><rect x="1228.00" y="429.46" width="5.59" height="3.50"/><rect x="1939.41" y="429.46" width="5.59" height="3.50"/><rect x="1228.00" y="412.27" width="5.59" height="3.50"/><rect x="1939.41" y="412.27" width="5.59" height="3.50"/><rect x="1228.00" y="397.38" width="5.59" height="3.50"/><rect x="1939.41" y="397.38" width="5.59" height="3.50"/><rect x="1228.00" y="384.25" width="5.59" height="3.50"/><rect x="1939.41" y="384.25" width="5.59" height="3.50"/><rect x="1228.00" y="372.50" width="9.17" height="3.50"/><rect x="1935.83" y="372.50" width="9.17" height="3.50"/><rect x="1228.00" y="295.21" width="5.59" height="3.50"/><rect x="1939.41" y="295.21" width="5.59" height="3.50"/><rect x="1228.00" y="250.00" width="5.59" height="3.50"/><rect x="1939.41" y="250.00" width="5.59" height="3.50"/><rect x="1228.00" y="217.92" width="5.59" height="3.50"/><rect x="1939.41" y="217.92" width="5.59" height="3.50"/><rect x="1228.00" y="193.04" width="5.59" height="3.50"/><rect x="1939.41" y="193.04" width="5.59" height="3.50"/><rect x="1228.00" y="172.71" width="5.59" height="3.50"/><rect x="1939.41" y="172.71" width="5.59" height="3.50"/><rect x="1228.00" y="155.52" width="5.59" height="3.50"/><rect x="1939.41" y="155.52" width="5.59" height="3.50"/><rect x="1228.00" y="140.63" width="5.59" height="3.50"/><rect x="1939.41" y="140.63" width="5.59" height="3.50"/><rect x="1228.00" y="127.50" width="5.59" height="3.50"/><rect x="1939.41" y="127.50" width="5.59" height="3.50"/></g><g shape-rendering="crispEdges"><g clip-path="url(#ci)" fill="none" stroke-width="7.0" stroke-linejoin="round"><path d="M1228.2 164.4L1229.2 166.1L1230.3 167.8L1231.3 169.5L1232.4 171.2L1233.5 172.9L1234.6 174.6L1235.8 176.2L1236.9 177.9L1238.1 179.5L1239.2 181.2L1240.4 182.8L1241.6 184.4L1242.8 186.1L1244.0 187.7L1245.2 189.3L1246.4 190.9L1247.7 192.4L1248.9 194.0L1250.2 195.6L1251.5 197.1L1252.8 198.7L1254.1 200.2L1255.4 201.7L1256.7 203.3L1258.0 204.8L1259.4 206.3L1260.7 207.8L1262.1 209.2L1263.4 210.7L1264.8 212.2L1266.2 213.6L1267.6 215.1L1269.0 216.5L1270.4 217.9L1271.9 219.4L1273.3 220.8L1274.7 222.2L1276.2 223.5L1277.6 224.9L1279.1 226.3L1280.6 227.7L1282.1 229.0L1283.6 230.4L1285.1 231.7L1286.6 233.1L1288.1 234.4L1289.6 235.7L1291.1 237.0L1292.7 238.3L1294.2 239.6L1295.7 240.9L1297.3 242.2L1298.8 243.5L1300.4 244.7L1302.0 246.0L1303.5 247.2L1305.1 248.5L1306.7 249.7L1308.3 251.0L1309.9 252.2L1311.5 253.4L1313.1 254.6L1314.7 255.8L1316.3 257.0L1317.9 258.2L1319.5 259.4L1321.1 260.6L1322.8 261.8L1324.4 263.0L1326.0 264.2L1327.7 265.3L1329.3 266.5L1331.0 267.6L1332.6 268.8L1334.2 270.0L1335.9 271.1L1337.5 272.3L1339.2 273.5L1340.8 274.6L1342.4 275.8L1344.0 277.0L1345.6 278.2L1347.2 279.4L1348.8 280.7L1350.4 281.9L1352.0 283.2L1353.5 284.5L1355.1 285.8L1356.6 287.1L1358.1 288.4L1359.7 289.7L1361.2 291.0L1362.7 292.3L1364.2 293.6L1365.7 294.9L1367.2 296.3L1368.7 297.6L1370.2 299.0L1371.6 300.4L1373.0 301.8L1374.4 303.3L1375.8 304.8L1377.1 306.3L1378.5 307.8L1379.8 309.3L1381.2 310.7L1382.6 312.2L1384.1 313.5L1385.7 314.7L1387.2 316.0L1388.8 317.3L1390.3 318.6L1391.8 319.9L1393.4 321.2L1394.9 322.5L1396.4 323.8L1397.9 325.1L1399.5 326.4L1401.0 327.8L1402.4 329.1L1403.9 330.5L1405.4 331.9L1406.9 333.2L1408.4 334.6L1409.8 336.0L1411.3 337.4L1412.7 338.8L1414.2 340.2L1415.6 341.6L1417.0 343.1L1418.4 344.5L1419.8 346.0L1421.2 347.4L1422.6 348.9L1424.0 350.4L1425.4 351.8L1426.7 353.3L1428.1 354.8L1429.4 356.3L1430.7 357.8L1432.1 359.4L1433.4 360.9L1434.7 362.4L1436.0 364.0L1437.2 365.5L1438.5 367.1L1439.8 368.7L1441.0 370.3L1442.2 371.9L1443.4 373.5L1444.7 375.1L1445.8 376.7L1447.0 378.3L1448.2 379.9L1449.3 381.6L1450.5 383.2L1451.6 384.9L1452.7 386.6L1453.8 388.2L1454.9 389.9L1456.0 391.6L1457.1 393.3L1458.1 395.0L1459.1 396.8L1460.1 398.5L1461.1 400.2L1462.1 402.0L1463.1 403.7L1464.1 405.5L1465.0 407.3L1465.9 409.1L1466.8 410.9L1467.7 412.7L1468.6 414.5L1469.4 416.3L1470.3 418.1L1471.1 420.0L1471.9 421.8L1472.7 423.7L1473.5 425.5L1474.3 427.4L1475.0 429.3L1475.8 431.1L1476.5 433.0L1477.2 434.9L1477.9 436.8L1478.6 438.7L1479.2 440.6L1479.9 442.6L1480.5 444.5L1481.2 446.4L1481.8 448.3L1482.4 450.3L1483.0 452.2L1483.6 454.1L1484.1 456.1L1484.7 458.0L1485.2 460.0L1485.8 461.9L1486.3 463.9L1486.8 465.9L1487.3 467.8L1487.8 469.8L1488.3 471.7L1488.8 473.7L1489.3 475.7L1489.7 477.6L1490.2 479.6L1490.6 481.6L1491.1 483.5L1491.5 485.5L1491.9 487.5L1492.3 489.5L1492.7 491.4L1493.1 493.4L1493.5 495.4L1493.9 497.3L1494.3 499.3L1494.6 501.3L1495.0 503.3L1495.3 505.3L1495.7 507.2L1496.0 509.2L1496.3 511.2L1496.7 513.2L1497.0 515.2L1497.3 517.1L1497.6 519.1L1497.9 521.1L1498.2 523.1L1498.5 525.1L1498.7 527.1L1499.0 529.1L1499.3 531.0L1499.6 533.0L1499.8 535.0L1500.1 537.0L1500.3 539.0L1500.6 541.0L1500.8 543.0L1501.1 545.0L1501.3 547.0L1501.5 549.0L1501.8 550.9L1502.0 552.9L1502.2 554.9L1502.4 556.9L1502.6 558.9L1502.8 560.9L1503.1 562.9L1503.3 564.9L1503.5 566.9L1503.7 568.9L1503.9 570.9L1504.1 572.9L1504.3 574.9L1504.4 576.9L1504.6 578.9L1504.8 580.9L1505.0 582.9L1505.2 584.9L1505.4 586.9L1505.6 588.9L1505.7 590.9L1505.9 592.9L1506.1 594.9L1506.3 596.9L1506.5 598.9L1506.7 600.9L1506.8 602.9L1507.0 604.9L1507.2 607.0L1507.4 609.0L1507.6 611.0L1507.7 613.0L1507.9 615.0L1508.1 617.0L1508.3 619.0L1508.5 621.0L1508.7 623.0L1508.9 625.0L1509.1 627.0L1509.2 629.0L1509.4 631.0" stroke="#ff00ff" stroke-dasharray="41.5 23.5" stroke-dashoffset="63.3"/><path d="M1228.1 164.3L1229.2 166.0L1230.2 167.8L1231.3 169.5L1232.4 171.2L1233.5 172.9L1234.6 174.5L1235.7 176.2L1236.9 177.9L1238.0 179.5L1239.2 181.2L1240.4 182.8L1241.5 184.4L1242.7 186.0L1244.0 187.6L1245.2 189.2L1246.4 190.8L1247.7 192.4L1248.9 194.0L1250.2 195.5L1251.4 197.1L1252.7 198.6L1254.0 200.2L1255.3 201.7L1256.7 203.2L1258.0 204.7L1259.3 206.2L1260.7 207.7L1262.0 209.2L1263.4 210.7L1264.8 212.1L1266.2 213.6L1267.5 215.0L1268.9 216.5L1270.4 217.9L1271.8 219.3L1273.2 220.7L1274.6 222.1L1276.1 223.5L1277.5 224.9L1279.0 226.3L1280.5 227.7L1282.0 229.0L1283.4 230.4L1284.9 231.7L1286.4 233.1L1288.0 234.4L1289.5 235.7L1291.0 237.0L1292.5 238.3L1294.1 239.6L1295.6 240.9L1297.2 242.2L1298.7 243.5L1300.3 244.8L1301.8 246.0L1303.4 247.3L1305.0 248.5L1306.6 249.8L1308.2 251.0L1309.8 252.2L1311.4 253.4L1313.0 254.6L1314.6 255.8L1316.2 257.0L1317.8 258.2L1319.5 259.4L1321.1 260.6L1322.8 261.7L1324.4 262.9L1326.0 264.1L1327.7 265.2L1329.4 266.3L1331.0 267.5L1332.7 268.6L1334.3 269.7L1336.0 270.8L1337.7 271.9L1339.4 273.0L1341.1 274.1L1342.7 275.2L1344.4 276.3L1346.1 277.4L1347.8 278.4L1349.5 279.5L1351.2 280.6L1353.0 281.6L1354.7 282.7L1356.4 283.7L1358.1 284.8L1359.8 285.8L1361.6 286.8L1363.3 287.9L1365.0 288.9L1366.8 289.9L1368.5 290.9L1370.2 292.0L1372.0 293.0L1373.7 294.0L1375.4 295.0L1377.2 296.0L1378.9 297.0L1380.7 298.0L1382.4 299.1L1384.1 300.1L1385.8 301.1L1387.5 302.2L1389.2 303.3L1390.9 304.4L1392.5 305.5L1394.2 306.7L1395.8 307.9L1397.4 309.0L1399.1 310.2L1400.7 311.4L1402.3 312.7L1403.9 313.9L1405.5 315.1L1407.1 316.3L1408.7 317.5L1410.3 318.8L1411.8 320.0L1413.4 321.3L1415.0 322.6L1416.5 323.9L1418.0 325.2L1419.5 326.5L1421.0 327.9L1422.4 329.3L1423.8 330.7L1425.2 332.2L1426.6 333.6L1428.0 335.1L1429.4 336.6L1430.7 338.1L1432.1 339.5L1433.4 341.0L1434.8 342.5L1436.1 344.0L1437.4 345.6L1438.8 347.0L1440.4 348.2L1442.1 349.4L1443.7 350.6L1445.3 351.8L1446.9 353.0L1448.5 354.2L1450.1 355.5L1451.6 356.7L1453.2 358.0L1454.7 359.3L1456.3 360.6L1457.8 361.9L1459.3 363.3L1460.8 364.6L1462.3 366.0L1463.8 367.3L1465.3 368.7L1466.7 370.1L1468.2 371.5L1469.6 372.9L1471.0 374.4L1472.4 375.8L1473.8 377.3L1475.2 378.7L1476.6 380.2L1478.0 381.7L1479.3 383.2L1480.6 384.7L1482.0 386.2L1483.3 387.7L1484.6 389.3L1485.9 390.8L1487.2 392.4L1488.4 394.0L1489.7 395.6L1490.9 397.1L1492.2 398.7L1493.4 400.4L1494.6 402.0L1495.8 403.6L1496.9 405.2L1498.1 406.9L1499.3 408.6L1500.4 410.2L1501.5 411.9L1502.7 413.6L1503.8 415.3L1504.8 417.0L1505.9 418.7L1507.0 420.4L1508.0 422.1L1509.1 423.8L1510.1 425.6L1511.1 427.3L1512.1 429.1L1513.1 430.8L1514.1 432.6L1515.0 434.4L1516.0 436.2L1516.9 437.9L1517.8 439.7L1518.7 441.5L1519.6 443.3L1520.5 445.1L1521.4 447.0L1522.2 448.8L1523.1 450.6L1523.9 452.4L1524.7 454.3L1525.5 456.1L1526.3 458.0L1527.0 459.8L1527.8 461.7L1528.5 463.5L1529.3 465.4L1530.0 467.3L1530.7 469.2L1531.4 471.0L1532.1 472.9L1532.7 474.8L1533.4 476.7L1534.1 478.6L1534.7 480.5L1535.3 482.4L1535.9 484.3L1536.5 486.2L1537.1 488.2L1537.7 490.1L1538.3 492.0L1538.8 493.9L1539.4 495.9L1539.9 497.8L1540.5 499.7L1541.0 501.7L1541.5 503.6L1542.0 505.6L1542.5 507.5L1543.0 509.5L1543.4 511.5L1543.9 513.4L1544.3 515.4L1544.8 517.3L1545.2 519.3L1545.7 521.3L1546.1 523.3L1546.5 525.2L1546.9 527.2L1547.3 529.2L1547.7 531.2L1548.1 533.2L1548.4 535.1L1548.8 537.1L1549.2 539.1L1549.5 541.1L1549.9 543.1L1550.2 545.1L1550.5 547.1L1550.8 549.1L1551.2 551.1L1551.5 553.1L1551.8 555.1L1552.1 557.1L1552.4 559.1L1552.7 561.1L1552.9 563.1L1553.2 565.1L1553.5 567.1L1553.8 569.1L1554.0 571.1L1554.3 573.1L1554.5 575.1L1554.8 577.1L1555.0 579.1L1555.3 581.1L1555.5 583.1L1555.7 585.1L1555.9 587.1L1556.2 589.1L1556.4 591.1L1556.6 593.1L1556.8 595.1L1557.0 597.1L1557.2 599.1L1557.4 601.1L1557.6 603.1L1557.8 605.1L1558.0 607.1L1558.2 609.1L1558.4 611.1L1558.6 613.1L1558.8 615.1L1559.0 617.1L1559.1 619.1L1559.3 621.0L1559.5 623.0L1559.7 625.0L1559.9 627.0L1560.0 629.0L1560.2 630.9" stroke="#0000ff" stroke-dasharray="41.5 23.5" stroke-dashoffset="64.3"/><path d="M1228.2 164.4L1229.2 166.1L1230.3 167.8L1231.3 169.5L1232.4 171.2L1233.5 172.9L1234.6 174.6L1235.7 176.2L1236.9 177.9L1238.0 179.5L1239.2 181.2L1240.4 182.8L1241.6 184.4L1242.7 186.0L1244.0 187.6L1245.2 189.2L1246.4 190.8L1247.7 192.4L1248.9 193.9L1250.2 195.5L1251.5 197.0L1252.7 198.6L1254.0 200.1L1255.4 201.6L1256.7 203.1L1258.0 204.7L1259.3 206.1L1260.7 207.6L1262.1 209.1L1263.4 210.6L1264.8 212.0L1266.2 213.5L1267.6 214.9L1269.0 216.4L1270.4 217.8L1271.8 219.2L1273.3 220.6L1274.7 222.0L1276.2 223.4L1277.6 224.8L1279.1 226.1L1280.6 227.5L1282.1 228.8L1283.6 230.2L1285.0 231.5L1286.6 232.8L1288.1 234.1L1289.6 235.5L1291.1 236.8L1292.7 238.0L1294.2 239.3L1295.7 240.6L1297.3 241.9L1298.9 243.1L1300.4 244.4L1302.0 245.6L1303.6 246.9L1305.2 248.1L1306.8 249.3L1308.4 250.5L1310.0 251.7L1311.6 252.9L1313.2 254.1L1314.8 255.3L1316.5 256.5L1318.1 257.7L1319.7 258.8L1321.4 260.0L1323.0 261.1L1324.7 262.3L1326.3 263.4L1328.0 264.5L1329.6 265.6L1331.3 266.8L1333.0 267.9L1334.7 269.0L1336.4 270.1L1338.0 271.2L1339.7 272.2L1341.4 273.3L1343.1 274.4L1344.8 275.4L1346.5 276.5L1348.2 277.5L1350.0 278.6L1351.7 279.6L1353.4 280.7L1355.1 281.7L1356.8 282.7L1358.6 283.7L1360.3 284.7L1362.1 285.7L1363.8 286.7L1365.6 287.7L1367.3 288.7L1369.1 289.7L1370.8 290.6L1372.6 291.6L1374.3 292.6L1376.1 293.6L1377.8 294.5L1379.6 295.5L1381.3 296.5L1383.1 297.5L1384.8 298.5L1386.5 299.5L1388.3 300.5L1390.0 301.5L1391.7 302.6L1393.4 303.6L1395.1 304.7L1396.8 305.8L1398.5 306.9L1400.2 307.9L1401.9 309.0L1403.5 310.2L1405.2 311.3L1406.9 312.4L1408.6 313.5L1410.2 314.6L1411.9 315.8L1413.5 316.9L1415.2 318.1L1416.8 319.2L1418.4 320.4L1420.1 321.6L1421.7 322.8L1423.3 324.0L1424.8 325.2L1426.4 326.5L1427.9 327.8L1429.5 329.1L1431.0 330.4L1432.5 331.7L1434.0 333.0L1435.5 334.4L1437.0 335.7L1438.5 337.0L1440.0 338.3L1441.6 339.7L1443.1 341.0L1444.6 342.3L1446.1 343.6L1447.7 344.8L1449.2 346.1L1450.8 347.3L1452.4 348.6L1454.0 349.8L1455.6 351.0L1457.2 352.2L1458.8 353.4L1460.4 354.6L1462.0 355.7L1463.7 356.9L1465.3 358.1L1466.9 359.2L1468.6 360.4L1470.2 361.5L1471.9 362.7L1473.5 363.8L1475.2 364.9L1476.8 366.1L1478.5 367.2L1480.2 368.3L1481.8 369.5L1483.5 370.6L1485.1 371.7L1486.8 372.9L1488.5 374.0L1490.1 375.1L1491.8 376.3L1493.4 377.4L1495.1 378.6L1496.7 379.7L1498.4 380.9L1500.0 382.0L1501.6 383.2L1503.3 384.4L1504.9 385.6L1506.5 386.7L1508.1 387.9L1509.7 389.1L1511.4 390.4L1513.0 391.6L1514.5 392.8L1516.1 394.0L1517.7 395.3L1519.3 396.5L1520.9 397.7L1522.4 399.0L1524.0 400.3L1525.6 401.5L1527.1 402.8L1528.7 404.1L1530.2 405.4L1531.7 406.7L1533.3 408.0L1534.8 409.3L1536.3 410.6L1537.8 412.0L1539.3 413.3L1540.8 414.7L1542.3 416.0L1543.7 417.4L1545.2 418.7L1546.7 420.1L1548.1 421.5L1549.6 422.9L1551.0 424.3L1552.5 425.7L1553.9 427.1L1555.3 428.6L1556.7 430.0L1558.1 431.4L1559.5 432.9L1560.9 434.4L1562.3 435.8L1563.7 437.3L1565.0 438.8L1566.4 440.3L1567.7 441.8L1569.0 443.3L1570.4 444.8L1571.7 446.3L1573.0 447.9L1574.3 449.4L1575.6 450.9L1576.9 452.5L1578.1 454.1L1579.4 455.6L1580.6 457.2L1581.9 458.8L1583.1 460.4L1584.3 462.0L1585.5 463.6L1586.7 465.2L1587.9 466.8L1589.1 468.5L1590.3 470.1L1591.4 471.8L1592.5 473.4L1593.7 475.1L1594.8 476.7L1595.9 478.4L1597.0 480.1L1598.1 481.8L1599.2 483.5L1600.2 485.2L1601.3 486.9L1602.3 488.6L1603.3 490.3L1604.4 492.0L1605.4 493.8L1606.3 495.5L1607.3 497.3L1608.3 499.0L1609.2 500.8L1610.2 502.6L1611.1 504.4L1612.0 506.1L1612.9 507.9L1613.8 509.7L1614.7 511.5L1615.5 513.3L1616.4 515.2L1617.2 517.0L1618.0 518.8L1618.8 520.6L1619.6 522.5L1620.4 524.3L1621.1 526.2L1621.9 528.1L1622.6 529.9L1623.3 531.8L1624.0 533.7L1624.7 535.6L1625.4 537.5L1626.1 539.4L1626.7 541.3L1627.4 543.2L1628.0 545.1L1628.6 547.0L1629.2 548.9L1629.8 550.8L1630.4 552.8L1631.0 554.7L1631.5 556.6L1632.1 558.6L1632.6 560.5L1633.2 562.5L1633.7 564.4L1634.2 566.4L1634.7 568.3L1635.3 570.3L1635.8 572.2L1636.2 574.2L1636.7 576.1L1637.2 578.1L1637.7 580.1L1638.2 582.0L1638.6 584.0L1639.1 586.0L1639.5 587.9L1640.0 589.9L1640.4 591.9L1640.9 593.8L1641.3 595.8L1641.7 597.8L1642.2 599.7L1642.6 601.7L1643.0 603.7L1643.5 605.6L1643.9 607.6L1644.3 609.6L1644.7 611.5L1645.2 613.5L1645.6 615.4L1646.0 617.4L1646.4 619.3L1646.9 621.3L1647.3 623.2L1647.7 625.2L1648.1 627.1L1648.6 629.1L1649.0 631.0" stroke="#000000" stroke-dasharray="41.5 23.5" stroke-dashoffset="63.2"/><path d="M1228.1 164.3L1229.2 166.0L1230.2 167.7L1231.3 169.4L1232.4 171.1L1233.5 172.8L1234.6 174.5L1235.7 176.2L1236.8 177.8L1238.0 179.5L1239.1 181.1L1240.3 182.7L1241.5 184.3L1242.7 186.0L1243.9 187.6L1245.1 189.1L1246.3 190.7L1247.6 192.3L1248.8 193.9L1250.1 195.4L1251.4 197.0L1252.7 198.5L1254.0 200.0L1255.3 201.6L1256.6 203.1L1257.9 204.6L1259.3 206.1L1260.6 207.5L1262.0 209.0L1263.3 210.5L1264.7 211.9L1266.1 213.4L1267.5 214.8L1268.9 216.3L1270.3 217.7L1271.8 219.1L1273.2 220.5L1274.6 221.9L1276.1 223.3L1277.6 224.7L1279.0 226.0L1280.5 227.4L1282.0 228.7L1283.5 230.1L1285.0 231.4L1286.5 232.7L1288.0 234.1L1289.5 235.4L1291.0 236.7L1292.6 238.0L1294.1 239.2L1295.7 240.5L1297.2 241.8L1298.8 243.0L1300.3 244.3L1301.9 245.5L1303.5 246.8L1305.1 248.0L1306.7 249.2L1308.3 250.4L1309.9 251.6L1311.5 252.8L1313.1 254.0L1314.7 255.2L1316.3 256.4L1318.0 257.6L1319.6 258.7L1321.2 259.9L1322.9 261.0L1324.5 262.2L1326.2 263.3L1327.9 264.4L1329.5 265.6L1331.2 266.7L1332.9 267.8L1334.5 268.9L1336.2 270.0L1337.9 271.1L1339.6 272.2L1341.3 273.2L1343.0 274.3L1344.7 275.4L1346.4 276.4L1348.1 277.5L1349.8 278.5L1351.5 279.6L1353.2 280.6L1355.0 281.6L1356.7 282.6L1358.4 283.6L1360.2 284.6L1361.9 285.6L1363.6 286.6L1365.4 287.6L1367.1 288.6L1368.9 289.6L1370.6 290.6L1372.4 291.5L1374.1 292.5L1375.9 293.5L1377.7 294.4L1379.4 295.4L1381.2 296.4L1382.9 297.4L1384.7 298.3L1386.4 299.3L1388.2 300.3L1389.9 301.3L1391.7 302.3L1393.4 303.3L1395.2 304.3L1396.9 305.3L1398.6 306.3L1400.3 307.3L1402.1 308.3L1403.8 309.4L1405.5 310.4L1407.2 311.4L1408.9 312.5L1410.7 313.5L1412.4 314.6L1414.1 315.6L1415.8 316.7L1417.5 317.8L1419.2 318.8L1420.9 319.9L1422.5 321.0L1424.2 322.1L1425.9 323.2L1427.5 324.3L1429.2 325.5L1430.9 326.6L1432.5 327.8L1434.1 328.9L1435.8 330.1L1437.4 331.2L1439.1 332.4L1440.7 333.5L1442.3 334.7L1444.0 335.9L1445.6 337.0L1447.2 338.2L1448.9 339.4L1450.5 340.5L1452.1 341.7L1453.8 342.8L1455.4 344.0L1457.1 345.2L1458.7 346.3L1460.3 347.5L1462.0 348.6L1463.6 349.8L1465.2 351.0L1466.9 352.1L1468.5 353.3L1470.2 354.5L1471.8 355.6L1473.4 356.8L1475.1 357.9L1476.7 359.1L1478.3 360.3L1480.0 361.4L1481.6 362.6L1483.2 363.8L1484.9 364.9L1486.5 366.1L1488.1 367.3L1489.8 368.5L1491.4 369.6L1493.0 370.8L1494.6 372.0L1496.3 373.2L1497.9 374.3L1499.5 375.5L1501.1 376.7L1502.8 377.9L1504.4 379.0L1506.0 380.2L1507.6 381.4L1509.2 382.6L1510.8 383.8L1512.5 385.0L1514.1 386.2L1515.7 387.4L1517.3 388.6L1518.9 389.8L1520.5 391.0L1522.1 392.2L1523.7 393.4L1525.3 394.6L1526.9 395.8L1528.5 397.0L1530.1 398.2L1531.7 399.4L1533.3 400.6L1534.9 401.9L1536.5 403.1L1538.1 404.3L1539.7 405.5L1541.3 406.8L1542.8 408.0L1544.4 409.2L1546.0 410.5L1547.6 411.7L1549.1 412.9L1550.7 414.2L1552.3 415.4L1553.8 416.7L1555.4 417.9L1557.0 419.2L1558.5 420.5L1560.1 421.7L1561.6 423.0L1563.2 424.3L1564.7 425.5L1566.3 426.8L1567.8 428.1L1569.3 429.4L1570.9 430.7L1572.4 432.0L1573.9 433.3L1575.5 434.6L1577.0 435.9L1578.5 437.2L1580.0 438.5L1581.6 439.8L1583.1 441.1L1584.6 442.4L1586.1 443.8L1587.6 445.1L1589.1 446.4L1590.6 447.8L1592.1 449.1L1593.6 450.5L1595.0 451.8L1596.5 453.2L1598.0 454.5L1599.5 455.9L1600.9 457.3L1602.4 458.6L1603.9 460.0L1605.3 461.4L1606.8 462.8L1608.2 464.2L1609.7 465.6L1611.1 467.0L1612.6 468.4L1614.0 469.8L1615.4 471.2L1616.8 472.6L1618.3 474.0L1619.7 475.5L1621.1 476.9L1622.5 478.4L1623.9 479.8L1625.3 481.3L1626.7 482.7L1628.0 484.2L1629.4 485.6L1630.8 487.1L1632.1 488.6L1633.5 490.1L1634.9 491.6L1636.2 493.1L1637.5 494.6L1638.9 496.1L1640.2 497.6L1641.5 499.1L1642.8 500.6L1644.1 502.2L1645.4 503.7L1646.7 505.2L1648.0 506.8L1649.2 508.3L1650.5 509.9L1651.7 511.5L1653.0 513.0L1654.2 514.6L1655.5 516.2L1656.7 517.8L1657.9 519.4L1659.1 521.0L1660.3 522.6L1661.5 524.2L1662.7 525.8L1663.8 527.4L1665.0 529.1L1666.1 530.7L1667.3 532.4L1668.4 534.0L1669.5 535.7L1670.6 537.3L1671.7 539.0L1672.8 540.7L1673.9 542.4L1675.0 544.1L1676.0 545.8L1677.1 547.5L1678.1 549.2L1679.2 550.9L1680.2 552.6L1681.2 554.4L1682.2 556.1L1683.2 557.9L1684.1 559.6L1685.1 561.4L1686.0 563.2L1687.0 564.9L1687.9 566.7L1688.8 568.5L1689.7 570.3L1690.6 572.1L1691.5 573.9L1692.4 575.7L1693.3 577.5L1694.2 579.4L1695.0 581.2L1695.9 583.0L1696.7 584.8L1697.6 586.7L1698.4 588.5L1699.2 590.3L1700.0 592.2L1700.9 594.0L1701.7 595.9L1702.5 597.7L1703.3 599.6L1704.1 601.4L1704.9 603.3L1705.6 605.1L1706.4 607.0L1707.2 608.8L1708.0 610.7L1708.8 612.5L1709.5 614.4L1710.3 616.2L1711.1 618.1L1711.8 619.9L1712.6 621.8L1713.4 623.6L1714.1 625.4L1714.9 627.3L1715.7 629.1L1716.4 631.0" stroke="#ff0000" stroke-dasharray="41.5 23.5" stroke-dashoffset="64.1"/><path d="M1228.1 164.3L1229.2 166.0L1230.3 167.8L1231.3 169.5L1232.4 171.2L1233.5 172.9L1234.6 174.6L1235.8 176.2L1236.9 177.9L1238.1 179.6L1239.2 181.2L1240.4 182.8L1241.6 184.5L1242.8 186.1L1244.0 187.7L1245.2 189.3L1246.5 190.9L1247.7 192.4L1249.0 194.0L1250.2 195.6L1251.5 197.1L1252.8 198.7L1254.1 200.2L1255.4 201.7L1256.7 203.2L1258.1 204.7L1259.4 206.2L1260.7 207.7L1262.1 209.2L1263.5 210.6L1264.9 212.1L1266.2 213.5L1267.6 215.0L1269.1 216.4L1270.5 217.8L1271.9 219.2L1273.3 220.6L1274.8 222.0L1276.2 223.4L1277.7 224.8L1279.2 226.2L1280.6 227.5L1282.1 228.9L1283.6 230.2L1285.1 231.5L1286.6 232.9L1288.2 234.2L1289.7 235.5L1291.2 236.8L1292.7 238.1L1294.3 239.4L1295.8 240.7L1297.4 241.9L1299.0 243.2L1300.5 244.5L1302.1 245.7L1303.7 246.9L1305.3 248.2L1306.9 249.4L1308.5 250.6L1310.1 251.8L1311.7 253.0L1313.3 254.2L1315.0 255.4L1316.6 256.6L1318.2 257.8L1319.9 258.9L1321.5 260.1L1323.2 261.2L1324.8 262.4L1326.5 263.5L1328.1 264.6L1329.8 265.8L1331.5 266.9L1333.2 268.0L1334.8 269.1L1336.5 270.2L1338.2 271.3L1339.9 272.4L1341.6 273.4L1343.3 274.5L1345.0 275.6L1346.7 276.6L1348.4 277.7L1350.1 278.7L1351.9 279.8L1353.6 280.8L1355.3 281.8L1357.0 282.8L1358.8 283.9L1360.5 284.9L1362.2 285.9L1364.0 286.9L1365.7 287.9L1367.5 288.8L1369.2 289.8L1371.0 290.8L1372.8 291.8L1374.5 292.7L1376.3 293.7L1378.0 294.6L1379.8 295.6L1381.6 296.5L1383.4 297.5L1385.1 298.4L1386.9 299.3L1388.7 300.3L1390.5 301.2L1392.3 302.1L1394.1 303.0L1395.9 303.9L1397.7 304.8L1399.5 305.7L1401.3 306.6L1403.1 307.5L1404.9 308.4L1406.7 309.2L1408.5 310.1L1410.3 311.0L1412.2 311.8L1414.0 312.7L1415.8 313.5L1417.6 314.4L1419.5 315.2L1421.3 316.0L1423.1 316.8L1425.0 317.6L1426.8 318.5L1428.7 319.3L1430.5 320.0L1432.3 320.8L1434.2 321.6L1436.0 322.4L1437.9 323.2L1439.8 323.9L1441.6 324.7L1443.5 325.4L1445.3 326.2L1447.2 326.9L1449.1 327.7L1450.9 328.4L1452.8 329.1L1454.7 329.9L1456.6 330.6L1458.4 331.3L1460.3 332.0L1462.2 332.7L1464.1 333.4L1465.9 334.2L1467.8 334.9L1469.7 335.6L1471.6 336.3L1473.5 337.0L1475.4 337.7L1477.2 338.4L1479.1 339.1L1481.0 339.8L1482.9 340.4L1484.8 341.1L1486.7 341.8L1488.6 342.5L1490.5 343.2L1492.3 343.9L1494.2 344.6L1496.1 345.3L1498.0 346.0L1499.9 346.7L1501.8 347.4L1503.7 348.1L1505.5 348.8L1507.4 349.5L1509.3 350.2L1511.2 350.9L1513.1 351.6L1515.0 352.3L1516.9 353.0L1518.7 353.7L1520.6 354.4L1522.5 355.1L1524.4 355.8L1526.3 356.5L1528.2 357.2L1530.0 357.9L1531.9 358.7L1533.8 359.4L1535.7 360.1L1537.6 360.8L1539.5 361.5L1541.4 362.2L1543.2 362.9L1545.1 363.5L1547.0 364.2L1548.9 364.9L1550.8 365.6L1552.7 366.3L1554.6 367.0L1556.5 367.6L1558.4 368.3L1560.3 369.0L1562.2 369.6L1564.1 370.3L1566.0 370.9L1567.9 371.6L1569.8 372.2L1571.7 372.9L1573.6 373.5L1575.5 374.1L1577.4 374.8L1579.3 375.4L1581.2 376.0L1583.1 376.6L1585.0 377.2L1586.9 377.8L1588.9 378.4L1590.8 379.0L1592.7 379.6L1594.6 380.2L1596.5 380.8L1598.5 381.4L1600.4 382.0L1602.3 382.5L1604.2 383.1L1606.2 383.7L1608.1 384.2L1610.0 384.8L1611.9 385.4L1613.9 385.9L1615.8 386.5L1617.7 387.0L1619.7 387.6L1621.6 388.1L1623.5 388.6L1625.5 389.2L1627.4 389.7L1629.3 390.2L1631.3 390.8L1633.2 391.3L1635.1 391.8L1637.1 392.3L1639.0 392.9L1641.0 393.4L1642.9 393.9L1644.8 394.4L1646.8 394.9L1648.7 395.4L1650.7 395.9L1652.6 396.4L1654.6 396.9L1656.5 397.4L1658.5 397.9L1660.4 398.4L1662.3 398.9L1664.3 399.4L1666.2 399.9L1668.2 400.4L1670.1 400.8L1672.1 401.3L1674.0 401.8L1676.0 402.3L1677.9 402.8L1679.9 403.2L1681.8 403.7L1683.8 404.2L1685.8 404.7L1687.7 405.1L1689.7 405.6L1691.6 406.1L1693.6 406.6L1695.5 407.0L1697.5 407.5L1699.4 408.0L1701.4 408.4L1703.3 408.9L1705.3 409.3L1707.3 409.8L1709.2 410.3L1711.2 410.7L1713.1 411.2L1715.1 411.7L1717.0 412.1L1719.0 412.6L1720.9 413.0L1722.9 413.5L1724.9 414.0L1726.8 414.4L1728.8 414.9L1730.7 415.4L1732.7 415.8L1734.6 416.3L1736.6 416.7L1738.6 417.2L1740.5 417.7L1742.5 418.1L1744.4 418.6L1746.4 419.0L1748.3 419.5L1750.3 420.0L1752.2 420.4L1754.2 420.9L1756.2 421.3L1758.1 421.8L1760.1 422.2L1762.0 422.7L1764.0 423.2L1765.9 423.6L1767.9 424.1L1769.9 424.5L1771.8 425.0L1773.8 425.4L1775.7 425.9L1777.7 426.3L1779.6 426.8L1781.6 427.3L1783.6 427.7L1785.5 428.2L1787.5 428.6L1789.4 429.1L1791.4 429.5L1793.4 430.0L1795.3 430.4L1797.3 430.9L1799.2 431.3L1801.2 431.7L1803.1 432.2L1805.1 432.6L1807.1 433.1L1809.0 433.5L1811.0 434.0L1812.9 434.4L1814.9 434.8L1816.9 435.3L1818.8 435.7L1820.8 436.2L1822.8 436.6L1824.7 437.0L1826.7 437.5L1828.6 437.9L1830.6 438.3L1832.6 438.8L1834.5 439.2L1836.5 439.6L1838.4 440.0L1840.4 440.5L1842.4 440.9L1844.3 441.3L1846.3 441.7L1848.3 442.2L1850.2 442.6L1852.2 443.0L1854.2 443.4L1856.1 443.8L1858.1 444.2L1860.1 444.7L1862.0 445.1L1864.0 445.5L1866.0 445.9L1867.9 446.3L1869.9 446.7L1871.9 447.1L1873.8 447.5L1875.8 447.9L1877.8 448.3L1879.7 448.7L1881.7 449.1L1883.7 449.5L1885.7 449.9L1887.6 450.2L1889.6 450.6L1891.6 451.0L1893.5 451.4L1895.5 451.8L1897.5 452.2L1899.5 452.5L1901.4 452.9L1903.4 453.3L1905.4 453.7L1907.4 454.0L1909.3 454.4L1911.3 454.8L1913.3 455.1L1915.3 455.5L1917.2 455.9L1919.2 456.2L1921.2 456.6L1923.2 456.9L1925.2 457.3L1927.1 457.6L1929.1 458.0L1931.1 458.3L1933.1 458.7L1935.1 459.0L1937.1 459.3L1939.0 459.7L1941.0 460.0L1943.0 460.3L1945.0 460.7" stroke="#ff0000"/><path d="M1228.2 164.4L1229.2 166.1L1230.3 167.8L1231.3 169.5L1232.4 171.2L1233.5 172.9L1234.6 174.6L1235.8 176.2L1236.9 177.9L1238.1 179.5L1239.2 181.2L1240.4 182.8L1241.6 184.4L1242.8 186.1L1244.0 187.7L1245.2 189.3L1246.4 190.9L1247.7 192.4L1248.9 194.0L1250.2 195.6L1251.5 197.1L1252.8 198.7L1254.1 200.2L1255.4 201.7L1256.7 203.3L1258.0 204.8L1259.4 206.3L1260.7 207.8L1262.1 209.2L1263.5 210.7L1264.8 212.2L1266.2 213.6L1267.6 215.1L1269.0 216.5L1270.4 217.9L1271.9 219.4L1273.3 220.8L1274.7 222.2L1276.2 223.6L1277.7 225.0L1279.1 226.3L1280.6 227.7L1282.1 229.0L1283.6 230.4L1285.1 231.7L1286.6 233.1L1288.1 234.4L1289.6 235.7L1291.1 237.0L1292.7 238.3L1294.2 239.6L1295.8 240.9L1297.3 242.2L1298.9 243.5L1300.4 244.7L1302.0 246.0L1303.6 247.3L1305.1 248.5L1306.7 249.7L1308.3 251.0L1309.9 252.2L1311.5 253.4L1313.1 254.6L1314.7 255.9L1316.3 257.1L1317.9 258.3L1319.6 259.5L1321.2 260.6L1322.8 261.8L1324.4 263.0L1326.1 264.2L1327.7 265.4L1329.3 266.5L1331.0 267.7L1332.6 268.9L1334.3 270.0L1335.9 271.2L1337.6 272.3L1339.2 273.5L1340.9 274.6L1342.5 275.8L1344.2 276.9L1345.8 278.1L1347.5 279.2L1349.1 280.3L1350.8 281.5L1352.5 282.6L1354.1 283.7L1355.8 284.8L1357.5 285.9L1359.2 287.0L1360.8 288.1L1362.5 289.2L1364.2 290.3L1365.9 291.4L1367.6 292.5L1369.3 293.6L1371.0 294.6L1372.7 295.7L1374.4 296.8L1376.1 297.8L1377.8 298.9L1379.5 300.0L1381.2 301.1L1382.9 302.2L1384.6 303.2L1386.3 304.3L1388.0 305.4L1389.6 306.6L1391.3 307.7L1392.9 308.8L1394.5 310.0L1396.1 311.3L1397.6 312.6L1399.0 313.9L1400.5 315.2L1402.0 316.6L1403.4 317.9L1404.9 319.3L1406.4 320.6L1407.8 321.9L1409.4 323.2L1410.9 324.5L1412.4 325.8L1414.0 327.1L1415.5 328.4L1417.1 329.6L1418.6 330.9L1420.2 332.2L1421.8 333.4L1423.4 334.7L1425.0 335.9L1426.6 337.2L1428.2 338.4L1429.8 339.7L1431.4 341.0L1432.9 342.2L1434.5 343.5L1436.1 344.8L1437.7 346.0L1439.3 347.3L1440.8 348.6L1442.4 349.9L1443.9 351.2L1445.4 352.5L1447.0 353.9L1448.5 355.2L1449.9 356.6L1451.4 357.9L1452.9 359.3L1454.3 360.7L1455.7 362.1L1457.1 363.6L1458.5 365.0L1459.8 366.5L1461.2 368.0L1462.5 369.5L1463.8 371.1L1465.0 372.6L1466.3 374.2L1467.5 375.8L1468.7 377.3L1469.9 379.0L1471.1 380.6L1472.2 382.2L1473.4 383.9L1474.5 385.6L1475.6 387.2L1476.6 388.9L1477.7 390.6L1478.7 392.4L1479.8 394.1L1480.8 395.8L1481.8 397.6L1482.7 399.4L1483.7 401.1L1484.6 402.9L1485.5 404.7L1486.4 406.5L1487.3 408.3L1488.2 410.1L1489.1 412.0L1489.9 413.8L1490.7 415.6L1491.6 417.5L1492.4 419.3L1493.2 421.2L1493.9 423.0L1494.7 424.9L1495.4 426.8L1496.2 428.6L1496.9 430.5L1497.6 432.4L1498.3 434.3L1499.0 436.2L1499.6 438.1L1500.3 440.0L1501.0 441.9L1501.6 443.8L1502.2 445.7L1502.8 447.6L1503.4 449.5L1504.0 451.4L1504.6 453.3L1505.2 455.2L1505.7 457.2L1506.2 459.1L1506.8 461.0L1507.3 463.0L1507.8 464.9L1508.3 466.9L1508.8 468.8L1509.3 470.7L1509.8 472.7L1510.2 474.6L1510.7 476.6L1511.1 478.6L1511.6 480.5L1512.0 482.5L1512.4 484.4L1512.8 486.4L1513.2 488.4L1513.6 490.4L1514.0 492.3L1514.4 494.3L1514.7 496.3L1515.1 498.3L1515.4 500.3L1515.8 502.2L1516.1 504.2L1516.5 506.2L1516.8 508.2L1517.1 510.2L1517.4 512.2L1517.7 514.2L1518.0 516.2L1518.3 518.2L1518.6 520.2L1518.8 522.2L1519.1 524.2L1519.4 526.2L1519.6 528.2L1519.9 530.2L1520.1 532.2L1520.4 534.2L1520.6 536.2L1520.9 538.2L1521.1 540.2L1521.3 542.2L1521.5 544.2L1521.7 546.2L1522.0 548.2L1522.2 550.3L1522.4 552.3L1522.6 554.3L1522.8 556.3L1523.0 558.3L1523.2 560.3L1523.3 562.3L1523.5 564.3L1523.7 566.3L1523.9 568.4L1524.1 570.4L1524.2 572.4L1524.4 574.4L1524.6 576.4L1524.7 578.4L1524.9 580.4L1525.1 582.4L1525.2 584.4L1525.4 586.4L1525.6 588.4L1525.7 590.4L1525.9 592.4L1526.0 594.5L1526.2 596.5L1526.3 598.5L1526.5 600.5L1526.7 602.5L1526.8 604.5L1527.0 606.4L1527.1 608.4L1527.3 610.4L1527.4 612.4L1527.6 614.4L1527.8 616.4L1527.9 618.4L1528.1 620.4L1528.2 622.4L1528.4 624.3L1528.6 626.3L1528.7 628.3L1528.9 630.3L1529.4 636.3" stroke="#ff00ff"/><path d="M1228.1 164.3L1229.2 166.1L1230.2 167.8L1231.3 169.5L1232.4 171.2L1233.5 172.9L1234.6 174.6L1235.8 176.2L1236.9 177.9L1238.0 179.6L1239.2 181.2L1240.4 182.8L1241.6 184.5L1242.8 186.1L1244.0 187.7L1245.2 189.3L1246.4 190.9L1247.7 192.4L1248.9 194.0L1250.2 195.6L1251.5 197.1L1252.7 198.6L1254.0 200.2L1255.3 201.7L1256.7 203.2L1258.0 204.7L1259.3 206.2L1260.7 207.7L1262.0 209.2L1263.4 210.7L1264.8 212.1L1266.1 213.6L1267.5 215.0L1268.9 216.4L1270.3 217.9L1271.8 219.3L1273.2 220.7L1274.6 222.1L1276.1 223.5L1277.5 224.9L1279.0 226.3L1280.4 227.6L1281.9 229.0L1283.4 230.4L1284.9 231.7L1286.4 233.0L1287.9 234.4L1289.4 235.7L1290.9 237.0L1292.5 238.3L1294.0 239.6L1295.5 240.9L1297.1 242.2L1298.6 243.5L1300.2 244.7L1301.8 246.0L1303.4 247.2L1304.9 248.5L1306.5 249.7L1308.1 250.9L1309.7 252.2L1311.3 253.4L1312.9 254.6L1314.5 255.8L1316.1 257.0L1317.8 258.2L1319.4 259.3L1321.0 260.5L1322.7 261.7L1324.3 262.8L1326.0 264.0L1327.6 265.1L1329.3 266.3L1330.9 267.4L1332.6 268.5L1334.3 269.6L1335.9 270.8L1337.6 271.9L1339.3 273.0L1341.0 274.1L1342.6 275.1L1344.3 276.2L1346.0 277.3L1347.7 278.4L1349.4 279.4L1351.1 280.5L1352.8 281.5L1354.5 282.6L1356.3 283.6L1358.0 284.7L1359.7 285.7L1361.4 286.8L1363.1 287.8L1364.9 288.8L1366.6 289.8L1368.3 290.9L1370.1 291.9L1371.8 292.9L1373.5 293.9L1375.3 294.9L1377.0 295.9L1378.8 296.9L1380.5 297.9L1382.3 298.9L1384.0 299.9L1385.8 300.8L1387.5 301.8L1389.3 302.8L1391.0 303.8L1392.8 304.7L1394.6 305.7L1396.3 306.6L1398.1 307.6L1399.9 308.6L1401.6 309.5L1403.4 310.5L1405.2 311.4L1407.0 312.4L1408.7 313.3L1410.5 314.2L1412.3 315.2L1414.0 316.1L1415.8 317.1L1417.6 318.0L1419.3 319.0L1421.1 319.9L1422.9 320.9L1424.6 321.8L1426.4 322.8L1428.1 323.8L1429.9 324.7L1431.6 325.7L1433.4 326.7L1435.1 327.7L1436.9 328.6L1438.6 329.6L1440.4 330.6L1442.1 331.6L1443.9 332.6L1445.6 333.6L1447.3 334.6L1449.1 335.6L1450.8 336.7L1452.5 337.7L1454.2 338.7L1456.0 339.8L1457.7 340.8L1459.4 341.9L1461.1 343.0L1462.8 344.0L1464.6 345.1L1466.3 346.2L1468.0 347.3L1469.7 348.4L1471.4 349.5L1473.1 350.6L1474.7 351.8L1476.4 352.9L1478.1 354.1L1479.8 355.2L1481.4 356.4L1483.1 357.6L1484.7 358.7L1486.4 359.9L1488.0 361.1L1489.7 362.4L1491.3 363.6L1492.9 364.8L1494.5 366.0L1496.1 367.3L1497.7 368.6L1499.3 369.8L1500.8 371.1L1502.4 372.4L1503.9 373.7L1505.5 375.0L1507.0 376.3L1508.5 377.7L1510.0 379.0L1511.5 380.4L1513.0 381.7L1514.4 383.1L1515.9 384.5L1517.3 385.9L1518.7 387.3L1520.1 388.7L1521.5 390.2L1522.9 391.6L1524.3 393.1L1525.6 394.5L1527.0 396.0L1528.3 397.5L1529.6 399.0L1530.9 400.5L1532.1 402.1L1533.4 403.6L1534.6 405.2L1535.8 406.7L1537.0 408.3L1538.2 409.9L1539.4 411.5L1540.5 413.2L1541.7 414.8L1542.8 416.4L1543.9 418.1L1544.9 419.8L1546.0 421.4L1547.0 423.1L1548.0 424.8L1549.0 426.6L1550.0 428.3L1551.0 430.0L1551.9 431.8L1552.9 433.5L1553.8 435.3L1554.7 437.1L1555.6 438.9L1556.4 440.7L1557.3 442.5L1558.1 444.3L1558.9 446.1L1559.7 447.9L1560.5 449.8L1561.3 451.6L1562.1 453.5L1562.8 455.3L1563.5 457.2L1564.2 459.1L1564.9 461.0L1565.6 462.9L1566.3 464.8L1566.9 466.7L1567.6 468.6L1568.2 470.5L1568.8 472.4L1569.4 474.3L1570.0 476.3L1570.6 478.2L1571.2 480.1L1571.7 482.1L1572.2 484.0L1572.8 486.0L1573.3 487.9L1573.8 489.9L1574.2 491.8L1574.7 493.8L1575.2 495.8L1575.6 497.7L1576.1 499.7L1576.5 501.7L1576.9 503.6L1577.3 505.6L1577.7 507.6L1578.1 509.6L1578.5 511.5L1578.8 513.5L1579.2 515.5L1579.5 517.5L1579.9 519.5L1580.2 521.4L1580.5 523.4L1580.8 525.4L1581.1 527.4L1581.4 529.4L1581.7 531.4L1582.0 533.4L1582.2 535.4L1582.5 537.4L1582.7 539.4L1583.0 541.4L1583.2 543.4L1583.5 545.4L1583.7 547.4L1583.9 549.4L1584.1 551.4L1584.3 553.4L1584.5 555.4L1584.7 557.4L1584.9 559.4L1585.1 561.4L1585.3 563.4L1585.5 565.4L1585.7 567.4L1585.9 569.4L1586.0 571.4L1586.2 573.4L1586.4 575.4L1586.5 577.4L1586.7 579.4L1586.8 581.4L1587.0 583.4L1587.2 585.4L1587.3 587.4L1587.5 589.4L1587.6 591.4L1587.8 593.4L1587.9 595.4L1588.1 597.4L1588.2 599.4L1588.4 601.4L1588.5 603.4L1588.7 605.4L1588.8 607.4L1589.0 609.4L1589.1 611.4L1589.3 613.4L1589.4 615.4L1589.6 617.4L1589.7 619.4L1589.9 621.4L1590.1 623.4L1590.2 625.4L1590.4 627.4L1590.6 629.4L1590.8 631.4L1591.3 637.3" stroke="#0000ff"/><path d="M1228.2 164.4L1229.2 166.1L1230.3 167.9L1231.4 169.6L1232.5 171.3L1233.6 173.0L1234.7 174.7L1235.8 176.3L1237.0 178.0L1238.1 179.6L1239.3 181.3L1240.5 182.9L1241.7 184.5L1242.9 186.2L1244.1 187.8L1245.3 189.4L1246.5 190.9L1247.8 192.5L1249.0 194.1L1250.3 195.6L1251.6 197.2L1252.8 198.7L1254.1 200.2L1255.5 201.7L1256.8 203.3L1258.1 204.8L1259.4 206.2L1260.8 207.7L1262.1 209.2L1263.5 210.7L1264.9 212.1L1266.3 213.5L1267.7 215.0L1269.1 216.4L1270.5 217.8L1271.9 219.2L1273.3 220.6L1274.8 222.0L1276.2 223.4L1277.7 224.8L1279.1 226.1L1280.6 227.5L1282.1 228.8L1283.6 230.2L1285.1 231.5L1286.6 232.8L1288.1 234.1L1289.6 235.5L1291.1 236.8L1292.6 238.0L1294.2 239.3L1295.7 240.6L1297.3 241.9L1298.9 243.1L1300.4 244.4L1302.0 245.6L1303.6 246.9L1305.2 248.1L1306.8 249.3L1308.4 250.5L1310.0 251.7L1311.6 252.9L1313.2 254.1L1314.8 255.3L1316.5 256.5L1318.1 257.7L1319.7 258.8L1321.4 260.0L1323.0 261.1L1324.7 262.3L1326.3 263.4L1328.0 264.5L1329.7 265.7L1331.4 266.8L1333.0 267.9L1334.7 269.0L1336.4 270.1L1338.1 271.2L1339.8 272.3L1341.5 273.3L1343.2 274.4L1344.9 275.5L1346.6 276.5L1348.4 277.6L1350.1 278.6L1351.8 279.7L1353.5 280.7L1355.3 281.8L1357.0 282.8L1358.7 283.8L1360.5 284.8L1362.2 285.8L1364.0 286.8L1365.7 287.8L1367.5 288.8L1369.2 289.8L1371.0 290.8L1372.7 291.7L1374.5 292.7L1376.2 293.7L1378.0 294.6L1379.8 295.6L1381.5 296.5L1383.3 297.5L1385.1 298.4L1386.8 299.4L1388.6 300.3L1390.4 301.2L1392.2 302.1L1393.9 303.1L1395.7 304.0L1397.5 304.9L1399.3 305.8L1401.1 306.7L1402.9 307.6L1404.7 308.5L1406.5 309.4L1408.2 310.2L1410.0 311.1L1411.8 312.0L1413.6 312.9L1415.4 313.7L1417.2 314.6L1419.0 315.5L1420.9 316.3L1422.7 317.2L1424.5 318.0L1426.3 318.9L1428.1 319.7L1429.9 320.6L1431.7 321.4L1433.5 322.2L1435.3 323.1L1437.2 323.9L1439.0 324.7L1440.8 325.5L1442.6 326.4L1444.4 327.2L1446.3 328.0L1448.1 328.8L1449.9 329.6L1451.8 330.4L1453.6 331.2L1455.4 332.1L1457.2 332.9L1459.1 333.7L1460.9 334.5L1462.7 335.3L1464.6 336.1L1466.4 336.8L1468.3 337.6L1470.1 338.4L1471.9 339.2L1473.8 340.0L1475.6 340.8L1477.5 341.6L1479.3 342.4L1481.2 343.1L1483.0 343.9L1484.8 344.7L1486.7 345.5L1488.5 346.3L1490.4 347.0L1492.2 347.8L1494.1 348.6L1495.9 349.4L1497.8 350.1L1499.6 350.9L1501.5 351.7L1503.3 352.5L1505.2 353.2L1507.0 354.0L1508.9 354.8L1510.8 355.5L1512.6 356.3L1514.5 357.1L1516.3 357.9L1518.2 358.6L1520.0 359.4L1521.9 360.2L1523.8 360.9L1525.6 361.7L1527.5 362.5L1529.3 363.3L1531.2 364.0L1533.0 364.8L1534.9 365.6L1536.8 366.4L1538.6 367.1L1540.5 367.9L1542.3 368.7L1544.2 369.5L1546.1 370.3L1547.9 371.0L1549.8 371.8L1551.6 372.6L1553.5 373.4L1555.4 374.2L1557.2 375.0L1559.1 375.8L1560.9 376.6L1562.8 377.4L1564.7 378.1L1566.5 378.9L1568.4 379.7L1570.2 380.6L1572.1 381.4L1574.0 382.2L1575.8 383.0L1577.7 383.8L1579.5 384.6L1581.4 385.5L1583.2 386.3L1585.0 387.1L1586.9 388.0L1588.7 388.9L1590.5 389.7L1592.3 390.6L1594.1 391.5L1596.0 392.4L1597.8 393.3L1599.5 394.2L1601.3 395.1L1603.1 396.0L1604.9 397.0L1606.7 397.9L1608.4 398.9L1610.2 399.9L1611.9 400.9L1613.6 401.9L1615.3 402.9L1617.1 404.0L1618.8 405.0L1620.4 406.1L1622.1 407.2L1623.8 408.3L1625.4 409.4L1627.1 410.5L1628.7 411.7L1630.3 412.8L1632.0 414.0L1633.5 415.2L1635.1 416.4L1636.7 417.6L1638.3 418.9L1639.8 420.1L1641.3 421.4L1642.8 422.7L1644.3 424.0L1645.8 425.3L1647.3 426.6L1648.8 428.0L1650.2 429.3L1651.6 430.7L1653.1 432.1L1654.5 433.5L1655.8 434.9L1657.2 436.4L1658.6 437.8L1659.9 439.3L1661.2 440.7L1662.5 442.2L1663.8 443.7L1665.1 445.2L1666.3 446.8L1667.6 448.3L1668.8 449.9L1670.0 451.4L1671.2 453.0L1672.3 454.6L1673.5 456.2L1674.6 457.9L1675.7 459.5L1676.8 461.2L1677.9 462.8L1678.9 464.5L1680.0 466.2L1681.0 467.9L1682.0 469.6L1683.0 471.3L1683.9 473.0L1684.9 474.8L1685.8 476.6L1686.7 478.3L1687.5 480.1L1688.4 481.9L1689.2 483.7L1690.1 485.5L1690.9 487.4L1691.6 489.2L1692.4 491.1L1693.1 492.9L1693.9 494.8L1694.6 496.6L1695.3 498.5L1696.0 500.4L1696.6 502.3L1697.3 504.2L1697.9 506.2L1698.5 508.1L1699.1 510.0L1699.7 511.9L1700.3 513.9L1700.9 515.8L1701.4 517.8L1701.9 519.8L1702.4 521.7L1703.0 523.7L1703.4 525.7L1703.9 527.7L1704.4 529.7L1704.8 531.7L1705.3 533.7L1705.7 535.7L1706.1 537.7L1706.6 539.7L1707.0 541.7L1707.3 543.7L1707.7 545.7L1708.1 547.7L1708.4 549.7L1708.8 551.8L1709.1 553.8L1709.5 555.8L1709.8 557.8L1710.1 559.9L1710.4 561.9L1710.7 563.9L1711.0 565.9L1711.3 568.0L1711.6 570.0L1711.8 572.0L1712.1 574.0L1712.4 576.1L1712.6 578.1L1712.9 580.1L1713.1 582.1L1713.4 584.1L1713.6 586.1L1713.8 588.1L1714.1 590.1L1714.3 592.1L1714.5 594.1L1714.7 596.1L1714.9 598.1L1715.1 600.1L1715.3 602.1L1715.5 604.1L1715.7 606.0L1716.0 608.0L1716.2 609.9L1716.4 611.9L1716.6 613.8L1716.7 615.8L1716.9 617.7L1717.1 619.6L1717.3 621.5L1717.5 623.5L1717.7 625.4L1717.9 627.2L1718.1 629.1L1718.3 631.0L1719.0 637.0" stroke="#000000" stroke-width="8.6"/></g></g><g shape-rendering="crispEdges"><line x1="1056.0" y1="734.3" x2="932.0" y2="483.3" stroke="#ff0000" stroke-width="3.9"/><polygon points="913.4,445.6 957.9,487.2 932.0,483.3 919.4,506.2" fill="#ff0000" stroke="#ff0000" stroke-width="1.2" stroke-linejoin="round"/><line x1="1037.0" y1="983.0" x2="840.8" y2="987.7" stroke="#0000ff" stroke-width="3.9"/><polygon points="798.8,988.7 855.3,965.8 840.8,987.7 856.3,1008.8" fill="#0000ff" stroke="#0000ff" stroke-width="1.2" stroke-linejoin="round"/><line x1="972.0" y1="1320.4" x2="823.9" y2="1322.3" stroke="#ff00ff" stroke-width="3.9"/><polygon points="781.9,1322.8 838.6,1300.6 823.9,1322.3 839.2,1343.6" fill="#ff00ff" stroke="#ff00ff" stroke-width="1.2" stroke-linejoin="round"/><line x1="1428.0" y1="1218.8" x2="1547.8" y2="1289.5" stroke="#000000" stroke-width="3.9"/><polygon points="1584.0,1310.9 1524.0,1300.4 1547.8,1289.5 1545.8,1263.4" fill="#000000" stroke="#000000" stroke-width="1.2" stroke-linejoin="round"/></g><text x="235.0" y="1551.4" font-family="'Liberation Serif','Times New Roman',Times,serif" font-size="65.6" fill="#262626" text-anchor="middle">0</text><text x="588.6" y="1551.4" font-family="'Liberation Serif','Times New Roman',Times,serif" font-size="65.6" fill="#262626" text-anchor="middle">50</text><text x="942.2" y="1551.4" font-family="'Liberation Serif','Times New Roman',Times,serif" font-size="65.6" fill="#262626" text-anchor="middle">100</text><text x="1295.8" y="1551.4" font-family="'Liberation Serif','Times New Roman',Times,serif" font-size="65.6" fill="#262626" text-anchor="middle">150</text><text x="1649.4" y="1551.4" font-family="'Liberation Serif','Times New Roman',Times,serif" font-size="65.6" fill="#262626" text-anchor="middle">200</text><text x="2003.0" y="1551.4" font-family="'Liberation Serif','Times New Roman',Times,serif" font-size="65.6" fill="#262626" text-anchor="middle">250</text><text x="105.1" y="101.1" font-family="'Liberation Serif','Times New Roman',Times,serif" font-size="65.6" fill="#262626" text-anchor="start">10</text><text x="169.3" y="69.8" font-family="'Liberation Serif','Times New Roman',Times,serif" font-size="50.3" fill="#262626" text-anchor="start" letter-spacing="-0.8">-1</text><text x="105.1" y="801.8" font-family="'Liberation Serif','Times New Roman',Times,serif" font-size="65.6" fill="#262626" text-anchor="start">10</text><text x="169.3" y="768.5" font-family="'Liberation Serif','Times New Roman',Times,serif" font-size="50.3" fill="#262626" text-anchor="start" letter-spacing="0">-2</text><text x="105.1" y="1498.2" font-family="'Liberation Serif','Times New Roman',Times,serif" font-size="65.6" fill="#262626" text-anchor="start">10</text><text x="169.3" y="1467.3" font-family="'Liberation Serif','Times New Roman',Times,serif" font-size="50.3" fill="#262626" text-anchor="start" letter-spacing="-1.2">-3</text><text x="1227.5" y="708.9" font-family="'Liberation Sans',Arial,Helvetica,sans-serif" font-size="55.0" fill="#262626" text-anchor="middle">0</text><text x="1370.9" y="708.9" font-family="'Liberation Sans',Arial,Helvetica,sans-serif" font-size="55.0" fill="#262626" text-anchor="middle">50</text><text x="1514.3" y="708.9" font-family="'Liberation Sans',Arial,Helvetica,sans-serif" font-size="55.0" fill="#262626" text-anchor="middle">100</text><text x="1657.7" y="708.9" font-family="'Liberation Sans',Arial,Helvetica,sans-serif" font-size="55.0" fill="#262626" text-anchor="middle">150</text><text x="1801.1" y="708.9" font-family="'Liberation Sans',Arial,Helvetica,sans-serif" font-size="55.0" fill="#262626" text-anchor="middle">200</text><text x="1944.5" y="708.9" font-family="'Liberation Sans',Arial,Helvetica,sans-serif" font-size="55.0" fill="#262626" text-anchor="middle">250</text><text x="1108.3" y="149.8" font-family="'Liberation Sans',Arial,Helvetica,sans-serif" font-size="55.0" fill="#262626" text-anchor="start">10</text><text x="1167.5" y="125.9" font-family="'Liberation Sans',Arial,Helvetica,sans-serif" font-size="44.8" fill="#262626" text-anchor="start">-1</text><text x="1108.3" y="406.6" font-family="'Liberation Sans',Arial,Helvetica,sans-serif" font-size="55.0" fill="#262626" text-anchor="start">10</text><text x="1167.5" y="381.4" font-family="'Liberation Sans',Arial,Helvetica,sans-serif" font-size="44.8" fill="#262626" text-anchor="start">-2</text><text x="1108.3" y="663.3" font-family="'Liberation Sans',Arial,Helvetica,sans-serif" font-size="55.0" fill="#262626" text-anchor="start">10</text><text x="1167.5" y="639.4" font-family="'Liberation Sans',Arial,Helvetica,sans-serif" font-size="44.8" fill="#262626" text-anchor="start">-3</text><text x="702.7" y="1634.8" font-family="'Liberation Serif','Times New Roman',Times,serif" font-size="71.9" fill="#262626" text-anchor="start">Transmission Distance (km)</text><text transform="translate(72.3 1362.4) rotate(-90)" font-family="'Liberation Serif','Times New Roman',Times,serif" font-size="71.95" fill="#262626">Tolerable Excess Noise (shot noise unit)</text><text x="579.9" y="429.5" font-family="'Liberation Serif','Times New Roman',Times,serif" font-size="59.7" fill="#ff0000" text-anchor="start">Asymptotic case</text><text x="587.1" y="1017.7" font-family="'Liberation Serif','Times New Roman',Times,serif" font-size="61" fill="#0000ff">N=10<tspan dx="6" dy="-28.6" font-size="43.5" letter-spacing="5.0">12</tspan></text><text x="587.1" y="1343.6" font-family="'Liberation Serif','Times New Roman',Times,serif" font-size="61" fill="#ff00ff">N=10<tspan dx="6" dy="-28.6" font-size="43.5" letter-spacing="2.5">11</tspan></text><text x="1507.5" y="1383.7" font-family="'Liberation Serif','Times New Roman',Times,serif" font-size="61" fill="#000000">N=10<tspan dx="6" dy="-28.6" font-size="43.5" letter-spacing="1.0">14</tspan></text><text x="273.9" y="1414.5" font-family="'Liberation Serif','Times New Roman',Times,serif" font-size="63.4" fill="#000" text-anchor="start">(a)</text><text x="1259.6" y="587.7" font-family="'Liberation Serif','Times New Roman',Times,serif" font-size="63.6" fill="#000" text-anchor="start">(b)</text></svg></body></html>
